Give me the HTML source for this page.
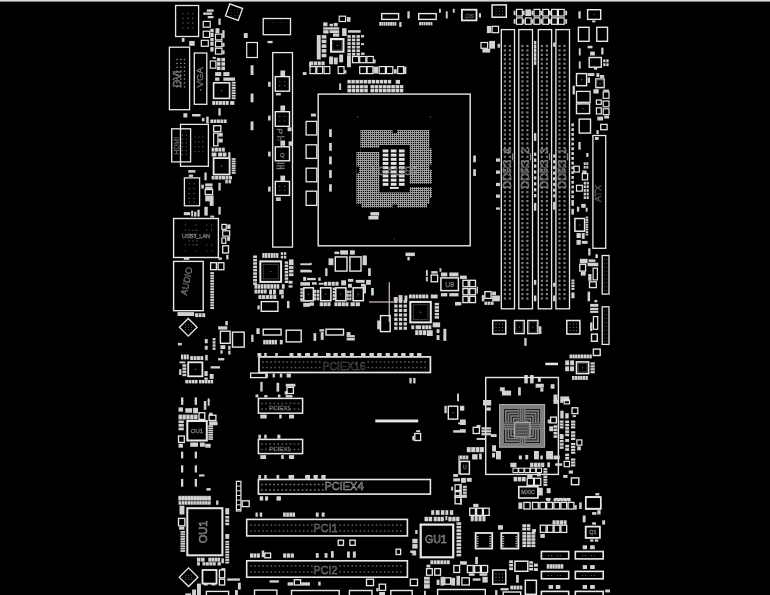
<!DOCTYPE html>
<html><head><meta charset="utf-8"><title>Board View</title>
<style>
html,body{margin:0;padding:0;background:#000;overflow:hidden}
svg{display:block;font-family:"Liberation Sans",sans-serif}
</style></head><body>
<svg width="770" height="595" viewBox="0 0 770 595">
<rect x="0" y="0" width="770" height="595" fill="#000"/>
<g filter="url(#b)">
<defs><filter id="b" x="0" y="0" width="100%" height="100%"><feGaussianBlur stdDeviation="0.35"/></filter>
<filter id="b2" x="-5%" y="-5%" width="110%" height="110%"><feGaussianBlur stdDeviation="0.5"/></filter>
<pattern id="pin" width="2" height="2" patternUnits="userSpaceOnUse"><rect width="2" height="2" fill="#a4a4a4"/><rect x="0.9" y="0.9" width="1.15" height="1.15" fill="#000"/></pattern>
<pattern id="die" width="4" height="4" patternUnits="userSpaceOnUse"><rect width="4" height="4" fill="#8a8a8a"/><rect x="0.6" y="0.6" width="2.2" height="2.2" fill="#222"/></pattern>
</defs>
<rect x="0.0" y="0.0" width="770.0" height="1.6" fill="#d8d8d8"/>
<rect x="175.6" y="5.5" width="23.0" height="31.0" fill="none" stroke="#e8e8e8" stroke-width="1.3"/>
<circle cx="183.0" cy="13.6" r="0.7" fill="#666"/>
<circle cx="183.0" cy="18.5" r="0.7" fill="#666"/>
<circle cx="183.0" cy="23.0" r="0.7" fill="#666"/>
<circle cx="183.0" cy="27.9" r="0.7" fill="#666"/>
<circle cx="187.9" cy="13.6" r="0.7" fill="#666"/>
<circle cx="187.9" cy="18.5" r="0.7" fill="#666"/>
<circle cx="187.9" cy="23.0" r="0.7" fill="#666"/>
<circle cx="187.9" cy="27.9" r="0.7" fill="#666"/>
<circle cx="192.7" cy="13.6" r="0.7" fill="#666"/>
<circle cx="192.7" cy="18.5" r="0.7" fill="#666"/>
<circle cx="192.7" cy="23.0" r="0.7" fill="#666"/>
<circle cx="192.7" cy="27.9" r="0.7" fill="#666"/>
<rect x="227.2" y="5.8" width="13.6" height="12.7" fill="none" stroke="#e8e8e8" stroke-width="1.3" transform="rotate(20 234.0 12.2)"/>
<circle cx="231.1" cy="9.7" r="0.5" fill="#555"/>
<circle cx="231.1" cy="12.7" r="0.5" fill="#555"/>
<circle cx="231.1" cy="15.6" r="0.5" fill="#555"/>
<circle cx="235.0" cy="9.7" r="0.5" fill="#555"/>
<circle cx="235.0" cy="12.7" r="0.5" fill="#555"/>
<circle cx="235.0" cy="15.6" r="0.5" fill="#555"/>
<circle cx="237.9" cy="9.7" r="0.5" fill="#555"/>
<circle cx="237.9" cy="12.7" r="0.5" fill="#555"/>
<circle cx="237.9" cy="15.6" r="0.5" fill="#555"/>
<rect x="263.2" y="18.5" width="27.3" height="16.2" fill="none" stroke="#e8e8e8" stroke-width="1.3"/>
<circle cx="273.0" cy="22.4" r="0.5" fill="#555"/>
<circle cx="281.2" cy="22.4" r="0.5" fill="#555"/>
<rect x="246.7" y="42.5" width="10.7" height="15.0" fill="none" stroke="#e8e8e8" stroke-width="1.2"/>
<rect x="203.2" y="21.4" width="7.0" height="5.8" fill="none" stroke="#e8e8e8" stroke-width="1.2"/>
<rect x="203.2" y="31.2" width="6.4" height="6.2" fill="none" stroke="#e8e8e8" stroke-width="1.2"/>
<rect x="201.3" y="40.3" width="7.0" height="6.0" fill="none" stroke="#e8e8e8" stroke-width="1.2"/>
<rect x="215.5" y="34.1" width="6.4" height="5.8" fill="none" stroke="#e8e8e8" stroke-width="1.2"/>
<rect x="215.5" y="41.3" width="6.4" height="5.5" fill="none" stroke="#e8e8e8" stroke-width="1.2"/>
<rect x="215.5" y="48.3" width="6.4" height="5.8" fill="none" stroke="#e8e8e8" stroke-width="1.2"/>
<rect x="210.3" y="61.0" width="5.6" height="7.2" fill="none" stroke="#e8e8e8" stroke-width="1.2"/>
<rect x="206.8" y="9.4" width="6.8" height="2.3" fill="#d2d2d2"/>
<rect x="203.2" y="12.5" width="9.0" height="2.3" fill="#d2d2d2"/>
<rect x="207.7" y="16.0" width="5.8" height="2.3" fill="#d2d2d2"/>
<rect x="218.4" y="18.5" width="2.3" height="6.4" fill="#d2d2d2"/>
<rect x="181.8" y="38.0" width="2.7" height="3.9" fill="#d2d2d2"/>
<rect x="189.2" y="40.9" width="5.5" height="4.9" fill="#d2d2d2"/>
<rect x="243.8" y="33.1" width="3.9" height="4.9" fill="#d2d2d2"/>
<rect x="267.5" y="40.9" width="5.1" height="2.3" fill="#d2d2d2"/>
<rect x="250.6" y="65.3" width="2.9" height="9.7" fill="#d2d2d2"/>
<rect x="268.1" y="81.8" width="2.5" height="4.9" fill="#d2d2d2"/>
<rect x="250.6" y="93.5" width="2.9" height="8.8" fill="#d2d2d2"/>
<rect x="302.8" y="72.1" width="3.7" height="2.9" fill="#d2d2d2"/>
<rect x="309.0" y="61.9" width="1.9" height="4.3" fill="#d2d2d2"/>
<rect x="275.9" y="93.1" width="4.9" height="2.3" fill="#d2d2d2"/>
<rect x="280.4" y="70.5" width="4.7" height="5.5" fill="#d2d2d2"/>
<rect x="210.3" y="28.8" width="3.3" height="3.3" fill="#d2d2d2"/>
<rect x="210.3" y="32.7" width="3.3" height="4.3" fill="#d2d2d2"/>
<rect x="210.3" y="38.0" width="3.3" height="3.3" fill="#d2d2d2"/>
<rect x="210.3" y="41.9" width="3.3" height="3.9" fill="#d2d2d2"/>
<rect x="210.3" y="47.1" width="3.3" height="4.5" fill="#d2d2d2"/>
<rect x="215.5" y="28.2" width="3.9" height="4.9" fill="#d2d2d2"/>
<rect x="222.3" y="30.2" width="2.3" height="7.8" fill="#d2d2d2"/>
<rect x="222.3" y="42.9" width="2.3" height="3.9" fill="#d2d2d2"/>
<rect x="222.3" y="50.3" width="2.3" height="3.9" fill="#d2d2d2"/>
<rect x="215.1" y="72.1" width="6.2" height="3.9" fill="#d2d2d2"/>
<rect x="223.3" y="72.1" width="6.2" height="3.9" fill="#d2d2d2"/>
<rect x="215.1" y="77.5" width="4.3" height="3.3" fill="#d2d2d2"/>
<rect x="223.3" y="77.5" width="11.7" height="3.3" fill="#d2d2d2"/>
<rect x="216.9" y="57.9" width="3.6" height="3.5" fill="#d2d2d2"/>
<rect x="216.9" y="62.2" width="3.6" height="3.5" fill="#d2d2d2"/>
<rect x="216.9" y="66.6" width="3.6" height="3.5" fill="#d2d2d2"/>
<rect x="221.4" y="57.9" width="3.6" height="3.5" fill="#d2d2d2"/>
<rect x="221.4" y="62.2" width="3.6" height="3.5" fill="#d2d2d2"/>
<rect x="221.4" y="66.6" width="3.6" height="3.5" fill="#d2d2d2"/>
<rect x="212.6" y="56.9" width="3.3" height="1.9" fill="#d2d2d2"/>
<rect x="231.7" y="81.8" width="3.9" height="1.9" fill="#d2d2d2"/>
<rect x="231.7" y="84.4" width="3.9" height="1.9" fill="#d2d2d2"/>
<rect x="231.7" y="87.0" width="3.9" height="1.9" fill="#d2d2d2"/>
<rect x="231.7" y="89.6" width="3.9" height="1.9" fill="#d2d2d2"/>
<rect x="231.7" y="92.2" width="3.9" height="1.9" fill="#d2d2d2"/>
<rect x="231.7" y="94.8" width="3.9" height="1.9" fill="#d2d2d2"/>
<rect x="231.7" y="97.3" width="3.9" height="1.9" fill="#d2d2d2"/>
<rect x="213.6" y="82.8" width="16.0" height="15.6" fill="none" stroke="#e8e8e8" stroke-width="1.6"/>
<circle cx="221.6" cy="90.6" r="0.6" fill="#888"/>
<rect x="275.3" y="76.6" width="14.2" height="14.6" fill="none" stroke="#e8e8e8" stroke-width="1.4"/>
<circle cx="279.8" cy="81.4" r="0.6" fill="#666"/>
<circle cx="279.8" cy="85.7" r="0.6" fill="#666"/>
<circle cx="284.7" cy="81.4" r="0.6" fill="#666"/>
<circle cx="284.7" cy="85.7" r="0.6" fill="#666"/>
<rect x="339.2" y="16.2" width="6.4" height="5.3" fill="none" stroke="#e8e8e8" stroke-width="1.2"/>
<rect x="347.0" y="17.1" width="3.5" height="4.7" fill="#d2d2d2"/>
<rect x="381.7" y="13.6" width="16.9" height="5.8" fill="none" stroke="#e8e8e8" stroke-width="1.4"/>
<rect x="379.2" y="22.0" width="1.9" height="3.7" fill="#d2d2d2"/>
<rect x="381.3" y="22.0" width="1.9" height="3.7" fill="#d2d2d2"/>
<rect x="383.5" y="22.0" width="1.9" height="3.7" fill="#d2d2d2"/>
<rect x="385.7" y="22.0" width="1.9" height="3.7" fill="#d2d2d2"/>
<rect x="387.9" y="22.0" width="1.9" height="3.7" fill="#d2d2d2"/>
<rect x="390.1" y="22.0" width="1.9" height="3.7" fill="#d2d2d2"/>
<rect x="392.3" y="22.0" width="1.9" height="3.7" fill="#d2d2d2"/>
<rect x="394.5" y="22.0" width="1.9" height="3.7" fill="#d2d2d2"/>
<rect x="399.2" y="22.0" width="2.3" height="4.9" fill="#d2d2d2"/>
<rect x="407.4" y="11.3" width="2.3" height="7.2" fill="#d2d2d2"/>
<rect x="418.7" y="13.6" width="17.5" height="5.8" fill="none" stroke="#e8e8e8" stroke-width="1.4"/>
<rect x="419.1" y="22.0" width="1.9" height="3.3" fill="#d2d2d2"/>
<rect x="421.4" y="22.0" width="1.9" height="3.3" fill="#d2d2d2"/>
<rect x="423.6" y="22.0" width="1.9" height="3.3" fill="#d2d2d2"/>
<rect x="425.9" y="22.0" width="1.9" height="3.3" fill="#d2d2d2"/>
<rect x="428.2" y="22.0" width="1.9" height="3.3" fill="#d2d2d2"/>
<rect x="430.5" y="22.0" width="1.9" height="3.3" fill="#d2d2d2"/>
<rect x="439.0" y="8.8" width="1.9" height="3.9" fill="#d2d2d2"/>
<rect x="445.8" y="11.3" width="1.9" height="7.2" fill="#d2d2d2"/>
<rect x="452.8" y="8.8" width="1.9" height="3.9" fill="#d2d2d2"/>
<rect x="331.0" y="39.0" width="12.5" height="12.7" fill="none" stroke="#e8e8e8" stroke-width="2"/>
<rect x="332.8" y="40.7" width="9.0" height="9.2" fill="none" stroke="#5a5a5a" stroke-width="0.6"/>
<circle cx="337.3" cy="45.3" r="0.6" fill="#888"/>
<rect x="316.8" y="35.1" width="3.9" height="24.4" fill="#d2d2d2"/>
<rect x="321.7" y="35.1" width="4.7" height="3.5" fill="#d2d2d2"/>
<rect x="321.7" y="39.7" width="4.7" height="3.5" fill="#d2d2d2"/>
<rect x="321.7" y="44.4" width="4.7" height="3.5" fill="#d2d2d2"/>
<rect x="321.7" y="49.1" width="4.7" height="3.5" fill="#d2d2d2"/>
<rect x="321.7" y="53.8" width="4.7" height="3.5" fill="#d2d2d2"/>
<rect x="323.2" y="22.4" width="4.3" height="3.9" fill="#d2d2d2"/>
<rect x="329.5" y="23.8" width="3.5" height="2.5" fill="#d2d2d2"/>
<rect x="333.8" y="23.0" width="3.9" height="3.3" fill="#d2d2d2"/>
<rect x="323.2" y="27.3" width="16.0" height="2.3" fill="#d2d2d2"/>
<rect x="323.2" y="30.2" width="5.3" height="3.3" fill="#d2d2d2"/>
<rect x="329.5" y="30.2" width="9.7" height="2.9" fill="#d2d2d2"/>
<rect x="333.0" y="33.5" width="6.2" height="3.1" fill="#d2d2d2"/>
<rect x="342.1" y="28.2" width="4.5" height="7.8" fill="#d2d2d2"/>
<rect x="348.0" y="30.2" width="12.7" height="2.5" fill="#d2d2d2"/>
<rect x="347.4" y="35.1" width="3.4" height="2.7" fill="#d2d2d2"/>
<rect x="347.4" y="38.6" width="3.4" height="2.7" fill="#d2d2d2"/>
<rect x="347.4" y="42.2" width="3.4" height="2.7" fill="#d2d2d2"/>
<rect x="347.4" y="45.8" width="3.4" height="2.7" fill="#d2d2d2"/>
<rect x="347.4" y="49.4" width="3.4" height="2.7" fill="#d2d2d2"/>
<rect x="347.4" y="52.9" width="3.4" height="2.7" fill="#d2d2d2"/>
<rect x="351.9" y="35.1" width="3.4" height="2.7" fill="#d2d2d2"/>
<rect x="351.9" y="38.6" width="3.4" height="2.7" fill="#d2d2d2"/>
<rect x="351.9" y="42.2" width="3.4" height="2.7" fill="#d2d2d2"/>
<rect x="351.9" y="45.8" width="3.4" height="2.7" fill="#d2d2d2"/>
<rect x="351.9" y="49.4" width="3.4" height="2.7" fill="#d2d2d2"/>
<rect x="351.9" y="52.9" width="3.4" height="2.7" fill="#d2d2d2"/>
<rect x="356.5" y="35.1" width="3.4" height="2.7" fill="#d2d2d2"/>
<rect x="356.5" y="38.6" width="3.4" height="2.7" fill="#d2d2d2"/>
<rect x="356.5" y="42.2" width="3.4" height="2.7" fill="#d2d2d2"/>
<rect x="356.5" y="45.8" width="3.4" height="2.7" fill="#d2d2d2"/>
<rect x="356.5" y="49.4" width="3.4" height="2.7" fill="#d2d2d2"/>
<rect x="356.5" y="52.9" width="3.4" height="2.7" fill="#d2d2d2"/>
<rect x="361.0" y="35.1" width="3.1" height="2.3" fill="#d2d2d2"/>
<rect x="361.0" y="43.2" width="3.1" height="1.9" fill="#d2d2d2"/>
<rect x="361.0" y="52.6" width="3.5" height="2.3" fill="#d2d2d2"/>
<rect x="352.5" y="56.5" width="6.2" height="6.2" fill="none" stroke="#e8e8e8" stroke-width="1.2"/>
<rect x="359.7" y="56.5" width="6.2" height="6.2" fill="none" stroke="#e8e8e8" stroke-width="1.2"/>
<rect x="366.9" y="56.5" width="6.4" height="6.2" fill="none" stroke="#e8e8e8" stroke-width="1.2"/>
<rect x="373.3" y="59.4" width="2.3" height="3.9" fill="#d2d2d2"/>
<rect x="310.0" y="66.6" width="5.8" height="7.0" fill="none" stroke="#e8e8e8" stroke-width="1.2"/>
<rect x="316.8" y="66.6" width="5.8" height="7.0" fill="none" stroke="#e8e8e8" stroke-width="1.2"/>
<rect x="324.0" y="66.6" width="5.8" height="7.0" fill="none" stroke="#e8e8e8" stroke-width="1.2"/>
<rect x="338.2" y="66.6" width="5.8" height="7.0" fill="none" stroke="#e8e8e8" stroke-width="1.2"/>
<rect x="359.7" y="66.6" width="6.8" height="7.0" fill="none" stroke="#e8e8e8" stroke-width="1.2"/>
<rect x="367.1" y="66.6" width="5.8" height="7.0" fill="none" stroke="#e8e8e8" stroke-width="1.2"/>
<rect x="379.2" y="66.6" width="6.2" height="7.0" fill="none" stroke="#e8e8e8" stroke-width="1.2"/>
<rect x="386.4" y="66.6" width="6.4" height="7.0" fill="none" stroke="#e8e8e8" stroke-width="1.2"/>
<rect x="397.7" y="66.6" width="5.8" height="7.0" fill="none" stroke="#e8e8e8" stroke-width="1.2"/>
<rect x="344.1" y="70.1" width="2.3" height="3.5" fill="#d2d2d2"/>
<rect x="373.3" y="66.6" width="4.9" height="7.0" fill="#d2d2d2"/>
<rect x="393.8" y="69.2" width="2.9" height="4.5" fill="#d2d2d2"/>
<rect x="403.9" y="66.6" width="2.5" height="7.4" fill="#d2d2d2"/>
<rect x="310.0" y="61.4" width="3.2" height="3.9" fill="#d2d2d2"/>
<rect x="313.8" y="61.4" width="3.2" height="3.9" fill="#d2d2d2"/>
<rect x="317.6" y="61.4" width="3.2" height="3.9" fill="#d2d2d2"/>
<rect x="321.4" y="61.4" width="3.2" height="3.9" fill="#d2d2d2"/>
<rect x="329.1" y="56.5" width="3.9" height="7.8" fill="#d2d2d2"/>
<rect x="333.8" y="57.5" width="3.9" height="6.8" fill="#d2d2d2"/>
<rect x="339.2" y="54.5" width="3.9" height="7.8" fill="#d2d2d2"/>
<rect x="347.0" y="55.5" width="3.9" height="11.7" fill="#d2d2d2"/>
<rect x="339.2" y="83.4" width="1.9" height="6.6" fill="#d2d2d2"/>
<rect x="347.4" y="79.9" width="3.4" height="3.6" fill="#d2d2d2"/>
<rect x="351.4" y="79.9" width="3.4" height="3.6" fill="#d2d2d2"/>
<rect x="355.5" y="79.9" width="3.4" height="3.6" fill="#d2d2d2"/>
<rect x="359.5" y="79.9" width="3.4" height="3.6" fill="#d2d2d2"/>
<rect x="363.6" y="79.9" width="3.4" height="3.6" fill="#d2d2d2"/>
<rect x="367.6" y="79.9" width="3.4" height="3.6" fill="#d2d2d2"/>
<rect x="371.6" y="79.9" width="3.4" height="3.6" fill="#d2d2d2"/>
<rect x="375.7" y="79.9" width="3.4" height="3.6" fill="#d2d2d2"/>
<rect x="379.7" y="79.9" width="3.4" height="3.6" fill="#d2d2d2"/>
<rect x="383.7" y="79.9" width="3.4" height="3.6" fill="#d2d2d2"/>
<rect x="387.8" y="79.9" width="3.4" height="3.6" fill="#d2d2d2"/>
<rect x="395.7" y="79.9" width="4.3" height="3.9" fill="#d2d2d2"/>
<rect x="347.4" y="85.1" width="3.6" height="3.3" fill="#d2d2d2"/>
<rect x="347.4" y="89.0" width="3.6" height="3.3" fill="#d2d2d2"/>
<rect x="351.6" y="85.1" width="3.6" height="3.3" fill="#d2d2d2"/>
<rect x="351.6" y="89.0" width="3.6" height="3.3" fill="#d2d2d2"/>
<rect x="355.8" y="85.1" width="3.6" height="3.3" fill="#d2d2d2"/>
<rect x="355.8" y="89.0" width="3.6" height="3.3" fill="#d2d2d2"/>
<rect x="360.0" y="85.1" width="3.6" height="3.3" fill="#d2d2d2"/>
<rect x="360.0" y="89.0" width="3.6" height="3.3" fill="#d2d2d2"/>
<rect x="364.2" y="85.1" width="3.6" height="3.3" fill="#d2d2d2"/>
<rect x="364.2" y="89.0" width="3.6" height="3.3" fill="#d2d2d2"/>
<rect x="370.4" y="85.1" width="3.6" height="3.3" fill="#d2d2d2"/>
<rect x="370.4" y="89.0" width="3.6" height="3.3" fill="#d2d2d2"/>
<rect x="374.6" y="85.1" width="3.6" height="3.3" fill="#d2d2d2"/>
<rect x="374.6" y="89.0" width="3.6" height="3.3" fill="#d2d2d2"/>
<rect x="378.8" y="85.1" width="3.6" height="3.3" fill="#d2d2d2"/>
<rect x="378.8" y="89.0" width="3.6" height="3.3" fill="#d2d2d2"/>
<rect x="383.0" y="85.1" width="3.6" height="3.3" fill="#d2d2d2"/>
<rect x="383.0" y="89.0" width="3.6" height="3.3" fill="#d2d2d2"/>
<rect x="387.1" y="85.1" width="3.6" height="3.3" fill="#d2d2d2"/>
<rect x="387.1" y="89.0" width="3.6" height="3.3" fill="#d2d2d2"/>
<rect x="391.3" y="85.1" width="3.6" height="3.3" fill="#d2d2d2"/>
<rect x="391.3" y="89.0" width="3.6" height="3.3" fill="#d2d2d2"/>
<rect x="395.5" y="85.1" width="3.6" height="3.3" fill="#d2d2d2"/>
<rect x="395.5" y="89.0" width="3.6" height="3.3" fill="#d2d2d2"/>
<rect x="399.7" y="85.1" width="3.6" height="3.3" fill="#d2d2d2"/>
<rect x="399.7" y="89.0" width="3.6" height="3.3" fill="#d2d2d2"/>
<rect x="461.9" y="9.7" width="14.6" height="10.7" fill="none" stroke="#e8e8e8" stroke-width="1.8"/>
<text x="469.4" y="17.5" font-size="6" fill="none" stroke="#666" stroke-width="0.4" text-anchor="middle">OS</text>
<rect x="478.9" y="13.2" width="2.1" height="4.3" fill="#d2d2d2"/>
<rect x="492.1" y="4.9" width="14.2" height="12.3" fill="none" stroke="#e8e8e8" stroke-width="1.5"/>
<circle cx="496.0" cy="8.2" r="0.5" fill="#666"/>
<circle cx="496.0" cy="11.1" r="0.5" fill="#666"/>
<circle cx="496.0" cy="14.0" r="0.5" fill="#666"/>
<circle cx="499.4" cy="8.2" r="0.5" fill="#666"/>
<circle cx="499.4" cy="11.1" r="0.5" fill="#666"/>
<circle cx="499.4" cy="14.0" r="0.5" fill="#666"/>
<circle cx="502.5" cy="8.2" r="0.5" fill="#666"/>
<circle cx="502.5" cy="11.1" r="0.5" fill="#666"/>
<circle cx="502.5" cy="14.0" r="0.5" fill="#666"/>
<rect x="516.5" y="9.4" width="5.8" height="6.6" fill="none" stroke="#e8e8e8" stroke-width="1.2"/>
<rect x="516.5" y="17.9" width="5.8" height="6.4" fill="none" stroke="#e8e8e8" stroke-width="1.2"/>
<rect x="534.0" y="9.4" width="5.8" height="6.6" fill="none" stroke="#e8e8e8" stroke-width="1.2"/>
<rect x="534.0" y="17.9" width="5.8" height="6.4" fill="none" stroke="#e8e8e8" stroke-width="1.2"/>
<rect x="542.8" y="9.4" width="5.8" height="6.6" fill="none" stroke="#e8e8e8" stroke-width="1.2"/>
<rect x="542.8" y="17.9" width="5.8" height="6.4" fill="none" stroke="#e8e8e8" stroke-width="1.2"/>
<rect x="551.6" y="9.4" width="5.8" height="6.6" fill="none" stroke="#e8e8e8" stroke-width="1.2"/>
<rect x="551.6" y="17.9" width="5.8" height="6.4" fill="none" stroke="#e8e8e8" stroke-width="1.2"/>
<rect x="558.4" y="9.4" width="5.8" height="6.6" fill="none" stroke="#e8e8e8" stroke-width="1.2"/>
<rect x="558.4" y="17.9" width="5.8" height="6.4" fill="none" stroke="#e8e8e8" stroke-width="1.2"/>
<rect x="525.3" y="9.4" width="5.8" height="6.6" fill="#d2d2d2"/>
<rect x="525.3" y="17.9" width="5.8" height="6.4" fill="none" stroke="#e8e8e8" stroke-width="1.2"/>
<rect x="513.6" y="10.7" width="1.9" height="4.5" fill="#d2d2d2"/>
<rect x="513.6" y="19.1" width="1.9" height="4.7" fill="#d2d2d2"/>
<rect x="522.7" y="10.7" width="1.9" height="4.5" fill="#d2d2d2"/>
<rect x="522.7" y="19.1" width="1.9" height="4.7" fill="#d2d2d2"/>
<rect x="531.5" y="10.7" width="1.9" height="4.5" fill="#d2d2d2"/>
<rect x="531.5" y="19.1" width="1.9" height="4.7" fill="#d2d2d2"/>
<rect x="540.3" y="10.7" width="1.9" height="4.5" fill="#d2d2d2"/>
<rect x="540.3" y="19.1" width="1.9" height="4.7" fill="#d2d2d2"/>
<rect x="549.0" y="10.7" width="1.9" height="4.5" fill="#d2d2d2"/>
<rect x="549.0" y="19.1" width="1.9" height="4.7" fill="#d2d2d2"/>
<rect x="565.2" y="10.7" width="1.9" height="4.5" fill="#d2d2d2"/>
<rect x="565.2" y="19.1" width="1.9" height="4.7" fill="#d2d2d2"/>
<rect x="492.1" y="26.3" width="6.4" height="6.4" fill="none" stroke="#e8e8e8" stroke-width="1.2"/>
<rect x="486.9" y="25.9" width="4.3" height="7.2" fill="#d2d2d2"/>
<rect x="481.0" y="42.5" width="6.6" height="5.8" fill="none" stroke="#e8e8e8" stroke-width="1.2"/>
<rect x="489.2" y="40.9" width="5.8" height="7.8" fill="#d2d2d2"/>
<rect x="482.4" y="48.7" width="7.8" height="3.9" fill="#d2d2d2"/>
<rect x="497.6" y="43.8" width="2.3" height="3.9" fill="#d2d2d2"/>
<rect x="534.0" y="40.9" width="2.3" height="3.7" fill="#d2d2d2"/>
<rect x="534.0" y="45.0" width="2.3" height="3.7" fill="#d2d2d2"/>
<rect x="534.0" y="49.0" width="2.3" height="3.7" fill="#d2d2d2"/>
<rect x="534.0" y="53.1" width="2.3" height="3.7" fill="#d2d2d2"/>
<rect x="534.0" y="57.1" width="2.3" height="3.7" fill="#d2d2d2"/>
<rect x="534.0" y="61.2" width="2.3" height="3.7" fill="#d2d2d2"/>
<rect x="553.1" y="42.5" width="2.3" height="4.3" fill="#d2d2d2"/>
<rect x="578.4" y="11.3" width="2.3" height="7.2" fill="#d2d2d2"/>
<rect x="587.6" y="9.7" width="13.1" height="9.7" fill="none" stroke="#e8e8e8" stroke-width="1.4"/>
<rect x="592.1" y="20.5" width="3.3" height="1.9" fill="#d2d2d2"/>
<circle cx="594.0" cy="14.6" r="0.5" fill="#888"/>
<rect x="578.4" y="27.3" width="10.7" height="14.0" fill="none" stroke="#e8e8e8" stroke-width="1.4"/>
<rect x="596.8" y="27.3" width="10.7" height="14.0" fill="none" stroke="#e8e8e8" stroke-width="1.4"/>
<rect x="587.6" y="45.8" width="4.9" height="2.5" fill="#d2d2d2"/>
<rect x="578.8" y="48.3" width="1.9" height="7.2" fill="#d2d2d2"/>
<rect x="590.1" y="51.6" width="4.7" height="3.9" fill="#d2d2d2"/>
<rect x="601.2" y="47.7" width="2.3" height="6.8" fill="#d2d2d2"/>
<rect x="589.2" y="57.5" width="12.1" height="9.7" fill="none" stroke="#e8e8e8" stroke-width="1.4"/>
<rect x="594.0" y="67.8" width="3.3" height="1.9" fill="#d2d2d2"/>
<rect x="603.2" y="59.4" width="2.3" height="2.9" fill="#d2d2d2"/>
<rect x="603.2" y="63.3" width="2.3" height="2.9" fill="#d2d2d2"/>
<rect x="606.3" y="59.4" width="2.3" height="2.9" fill="#d2d2d2"/>
<rect x="606.3" y="63.3" width="2.3" height="2.9" fill="#d2d2d2"/>
<rect x="578.8" y="61.4" width="1.9" height="7.2" fill="#d2d2d2"/>
<rect x="576.5" y="73.6" width="10.1" height="12.1" fill="none" stroke="#e8e8e8" stroke-width="1.4"/>
<circle cx="581.6" cy="79.7" r="0.6" fill="#888"/>
<rect x="587.6" y="73.1" width="6.8" height="2.9" fill="#d2d2d2"/>
<rect x="596.4" y="73.1" width="2.9" height="3.9" fill="#d2d2d2"/>
<rect x="599.9" y="75.0" width="4.3" height="2.9" fill="#d2d2d2"/>
<rect x="587.6" y="77.5" width="2.5" height="5.3" fill="#d2d2d2"/>
<rect x="595.8" y="78.9" width="8.4" height="8.8" fill="none" stroke="#e8e8e8" stroke-width="1.3"/>
<rect x="597.0" y="80.1" width="6.0" height="6.4" fill="none" stroke="#5a5a5a" stroke-width="0.6"/>
<circle cx="600.0" cy="83.3" r="0.6" fill="#888"/>
<rect x="572.6" y="85.7" width="2.3" height="8.8" fill="#d2d2d2"/>
<rect x="593.4" y="89.2" width="5.3" height="4.3" fill="#d2d2d2"/>
<rect x="603.2" y="89.6" width="5.8" height="1.9" fill="#d2d2d2"/>
<rect x="603.2" y="91.9" width="5.8" height="6.4" fill="none" stroke="#e8e8e8" stroke-width="1.2"/>
<rect x="169.4" y="47.2" width="20.2" height="62.5" fill="none" stroke="#e8e8e8" stroke-width="1.3"/>
<rect x="194.3" y="53.0" width="12.5" height="51.3" fill="none" stroke="#e8e8e8" stroke-width="1.3"/>
<rect x="272.7" y="52.6" width="19.8" height="194.5" fill="none" stroke="#e8e8e8" stroke-width="1.3"/>
<rect x="318.2" y="94.1" width="152.0" height="151.7" fill="none" stroke="#e8e8e8" stroke-width="1.4"/>
<rect x="501.3" y="29.6" width="13.2" height="279.2" fill="none" stroke="#e8e8e8" stroke-width="1.3"/>
<rect x="518.8" y="29.6" width="13.7" height="279.2" fill="none" stroke="#e8e8e8" stroke-width="1.3"/>
<rect x="538.3" y="29.6" width="13.3" height="279.2" fill="none" stroke="#e8e8e8" stroke-width="1.3"/>
<rect x="555.9" y="29.6" width="13.6" height="279.2" fill="none" stroke="#e8e8e8" stroke-width="1.3"/>
<rect x="592.9" y="135.5" width="12.8" height="112.8" fill="none" stroke="#e8e8e8" stroke-width="1.3"/>
<rect x="212.2" y="101.0" width="2.9" height="3.9" fill="#d2d2d2"/>
<rect x="215.6" y="101.0" width="2.9" height="3.9" fill="#d2d2d2"/>
<rect x="219.0" y="101.0" width="2.9" height="3.9" fill="#d2d2d2"/>
<rect x="222.4" y="101.0" width="2.9" height="3.9" fill="#d2d2d2"/>
<rect x="225.8" y="101.0" width="2.9" height="3.9" fill="#d2d2d2"/>
<rect x="230.1" y="101.0" width="4.3" height="3.9" fill="#d2d2d2"/>
<rect x="183.4" y="113.2" width="3.9" height="4.3" fill="#d2d2d2"/>
<rect x="192.1" y="114.0" width="8.4" height="2.5" fill="#d2d2d2"/>
<rect x="218.4" y="108.2" width="2.3" height="7.4" fill="#d2d2d2"/>
<rect x="201.9" y="117.9" width="2.5" height="3.5" fill="#d2d2d2"/>
<rect x="206.2" y="116.6" width="2.5" height="6.8" fill="#d2d2d2"/>
<rect x="250.6" y="121.4" width="2.9" height="8.8" fill="#d2d2d2"/>
<rect x="268.1" y="115.6" width="2.5" height="4.9" fill="#d2d2d2"/>
<rect x="268.1" y="151.6" width="2.5" height="4.9" fill="#d2d2d2"/>
<rect x="268.1" y="186.7" width="2.5" height="4.9" fill="#d2d2d2"/>
<rect x="228.2" y="152.2" width="2.3" height="5.3" fill="#d2d2d2"/>
<rect x="225.3" y="179.9" width="2.5" height="3.5" fill="#d2d2d2"/>
<rect x="228.6" y="179.9" width="2.5" height="3.5" fill="#d2d2d2"/>
<rect x="188.2" y="170.1" width="7.2" height="2.5" fill="#d2d2d2"/>
<rect x="188.8" y="174.6" width="4.3" height="2.3" fill="#d2d2d2"/>
<rect x="204.4" y="172.5" width="2.3" height="7.8" fill="#d2d2d2"/>
<rect x="201.3" y="184.7" width="2.5" height="3.9" fill="#d2d2d2"/>
<rect x="205.2" y="183.4" width="7.4" height="2.7" fill="#d2d2d2"/>
<rect x="205.2" y="186.7" width="7.4" height="2.5" fill="#d2d2d2"/>
<rect x="205.2" y="195.5" width="8.4" height="5.8" fill="#d2d2d2"/>
<rect x="218.4" y="182.8" width="2.3" height="7.8" fill="#d2d2d2"/>
<rect x="218.4" y="132.7" width="4.3" height="3.9" fill="#d2d2d2"/>
<rect x="218.4" y="138.6" width="4.3" height="3.9" fill="#d2d2d2"/>
<rect x="210.3" y="119.5" width="2.9" height="3.5" fill="#d2d2d2"/>
<rect x="213.6" y="119.5" width="2.9" height="3.5" fill="#d2d2d2"/>
<rect x="217.0" y="119.5" width="2.9" height="3.5" fill="#d2d2d2"/>
<rect x="220.4" y="119.5" width="2.9" height="3.5" fill="#d2d2d2"/>
<rect x="223.8" y="119.5" width="2.9" height="3.5" fill="#d2d2d2"/>
<rect x="171.7" y="128.8" width="18.9" height="33.1" fill="none" stroke="#e8e8e8" stroke-width="1.3"/>
<rect x="180.5" y="124.4" width="27.9" height="41.9" fill="none" stroke="#e8e8e8" stroke-width="1.3"/>
<circle cx="195.1" cy="137.0" r="0.6" fill="#666"/>
<circle cx="195.1" cy="141.9" r="0.6" fill="#666"/>
<circle cx="195.1" cy="146.8" r="0.6" fill="#666"/>
<circle cx="195.1" cy="151.6" r="0.6" fill="#666"/>
<circle cx="199.0" cy="137.0" r="0.6" fill="#666"/>
<circle cx="199.0" cy="141.9" r="0.6" fill="#666"/>
<circle cx="199.0" cy="146.8" r="0.6" fill="#666"/>
<circle cx="199.0" cy="151.6" r="0.6" fill="#666"/>
<circle cx="202.9" cy="137.0" r="0.6" fill="#666"/>
<circle cx="202.9" cy="141.9" r="0.6" fill="#666"/>
<circle cx="202.9" cy="146.8" r="0.6" fill="#666"/>
<circle cx="202.9" cy="151.6" r="0.6" fill="#666"/>
<circle cx="182.4" cy="135.1" r="0.6" fill="#777"/>
<circle cx="182.4" cy="139.0" r="0.6" fill="#777"/>
<circle cx="182.4" cy="142.9" r="0.6" fill="#777"/>
<circle cx="182.4" cy="146.8" r="0.6" fill="#777"/>
<circle cx="182.4" cy="150.6" r="0.6" fill="#777"/>
<circle cx="182.4" cy="154.5" r="0.6" fill="#777"/>
<circle cx="186.3" cy="135.1" r="0.6" fill="#777"/>
<circle cx="186.3" cy="139.0" r="0.6" fill="#777"/>
<circle cx="186.3" cy="142.9" r="0.6" fill="#777"/>
<circle cx="186.3" cy="146.8" r="0.6" fill="#777"/>
<circle cx="186.3" cy="150.6" r="0.6" fill="#777"/>
<circle cx="186.3" cy="154.5" r="0.6" fill="#777"/>
<text x="179.1" y="145.8" font-size="7" fill="none" stroke="#777" stroke-width="0.4" text-anchor="middle" transform="rotate(-90 179.1 145.8)">HDMI</text>
<rect x="213.6" y="125.7" width="7.2" height="5.8" fill="none" stroke="#e8e8e8" stroke-width="1.3"/>
<rect x="213.6" y="133.1" width="4.3" height="12.7" fill="none" stroke="#e8e8e8" stroke-width="1.2"/>
<rect x="211.6" y="147.7" width="2.9" height="3.9" fill="#d2d2d2"/>
<rect x="215.0" y="147.7" width="2.9" height="3.9" fill="#d2d2d2"/>
<rect x="218.4" y="147.7" width="2.9" height="3.9" fill="#d2d2d2"/>
<rect x="221.9" y="147.7" width="2.9" height="3.9" fill="#d2d2d2"/>
<rect x="211.6" y="152.6" width="4.9" height="3.9" fill="#d2d2d2"/>
<rect x="218.1" y="152.6" width="3.9" height="3.9" fill="#d2d2d2"/>
<rect x="222.6" y="152.6" width="3.9" height="3.9" fill="#d2d2d2"/>
<rect x="213.6" y="158.1" width="16.0" height="16.4" fill="none" stroke="#e8e8e8" stroke-width="1.8"/>
<circle cx="221.6" cy="166.2" r="0.6" fill="#888"/>
<rect x="231.7" y="158.1" width="3.9" height="1.8" fill="#d2d2d2"/>
<rect x="231.7" y="160.4" width="3.9" height="1.8" fill="#d2d2d2"/>
<rect x="231.7" y="162.7" width="3.9" height="1.8" fill="#d2d2d2"/>
<rect x="231.7" y="165.1" width="3.9" height="1.8" fill="#d2d2d2"/>
<rect x="231.7" y="167.4" width="3.9" height="1.8" fill="#d2d2d2"/>
<rect x="231.7" y="169.7" width="3.9" height="1.8" fill="#d2d2d2"/>
<rect x="231.7" y="172.1" width="3.9" height="1.8" fill="#d2d2d2"/>
<rect x="211.6" y="176.0" width="3.0" height="3.5" fill="#d2d2d2"/>
<rect x="215.1" y="176.0" width="3.0" height="3.5" fill="#d2d2d2"/>
<rect x="218.6" y="176.0" width="3.0" height="3.5" fill="#d2d2d2"/>
<rect x="222.0" y="176.0" width="3.0" height="3.5" fill="#d2d2d2"/>
<rect x="225.5" y="176.0" width="3.0" height="3.5" fill="#d2d2d2"/>
<rect x="229.0" y="176.0" width="3.0" height="3.5" fill="#d2d2d2"/>
<rect x="184.4" y="177.9" width="15.2" height="27.9" fill="none" stroke="#e8e8e8" stroke-width="1.3"/>
<circle cx="189.2" cy="183.8" r="0.6" fill="#777"/>
<circle cx="189.2" cy="188.6" r="0.6" fill="#777"/>
<circle cx="189.2" cy="193.5" r="0.6" fill="#777"/>
<circle cx="189.2" cy="198.4" r="0.6" fill="#777"/>
<circle cx="189.2" cy="202.3" r="0.6" fill="#777"/>
<circle cx="194.1" cy="183.8" r="0.6" fill="#777"/>
<circle cx="194.1" cy="188.6" r="0.6" fill="#777"/>
<circle cx="194.1" cy="193.5" r="0.6" fill="#777"/>
<circle cx="194.1" cy="198.4" r="0.6" fill="#777"/>
<circle cx="194.1" cy="202.3" r="0.6" fill="#777"/>
<rect x="205.2" y="189.6" width="7.4" height="4.9" fill="none" stroke="#e8e8e8" stroke-width="1.2"/>
<rect x="280.4" y="105.5" width="4.7" height="5.3" fill="#d2d2d2"/>
<rect x="275.3" y="111.7" width="14.2" height="14.6" fill="none" stroke="#e8e8e8" stroke-width="1.4"/>
<circle cx="279.8" cy="116.6" r="0.6" fill="#777"/>
<circle cx="279.8" cy="121.0" r="0.6" fill="#777"/>
<circle cx="284.7" cy="116.6" r="0.6" fill="#777"/>
<circle cx="284.7" cy="121.0" r="0.6" fill="#777"/>
<rect x="287.6" y="127.3" width="3.9" height="3.9" fill="#d2d2d2"/>
<rect x="280.4" y="140.5" width="4.7" height="5.3" fill="#d2d2d2"/>
<rect x="288.6" y="141.3" width="3.9" height="4.5" fill="#d2d2d2"/>
<rect x="275.3" y="146.8" width="14.2" height="14.0" fill="none" stroke="#e8e8e8" stroke-width="1.4"/>
<rect x="280.4" y="175.6" width="4.7" height="5.3" fill="#d2d2d2"/>
<rect x="275.3" y="181.4" width="14.2" height="14.0" fill="none" stroke="#e8e8e8" stroke-width="1.4"/>
<circle cx="279.8" cy="186.3" r="0.6" fill="#777"/>
<circle cx="279.8" cy="190.6" r="0.6" fill="#777"/>
<circle cx="284.7" cy="186.3" r="0.6" fill="#777"/>
<circle cx="284.7" cy="190.6" r="0.6" fill="#777"/>
<rect x="275.9" y="197.4" width="4.9" height="2.5" fill="#d2d2d2"/>
<text x="280.8" y="133.1" font-size="5" fill="none" stroke="#888" stroke-width="0.4" text-anchor="middle">Q</text>
<text x="280.8" y="139.0" font-size="5" fill="none" stroke="#888" stroke-width="0.4" text-anchor="middle" transform="rotate(-90 280.8 139.0)">L</text>
<text x="282.3" y="156.5" font-size="6" fill="none" stroke="#888" stroke-width="0.4" text-anchor="middle">Q</text>
<text x="280.8" y="168.2" font-size="5" fill="none" stroke="#888" stroke-width="0.4" text-anchor="middle" transform="rotate(-90 280.8 168.2)">L</text>
<rect x="276.5" y="162.7" width="8.2" height="1.2" fill="#777"/>
<rect x="276.5" y="165.3" width="8.2" height="1.2" fill="#777"/>
<rect x="276.5" y="167.8" width="8.2" height="1.2" fill="#777"/>
<rect x="276.5" y="128.8" width="3.9" height="1.2" fill="#777"/>
<rect x="276.9" y="136.2" width="7.8" height="1.2" fill="#777"/>
<rect x="306.1" y="121.4" width="10.7" height="13.6" fill="none" stroke="#e8e8e8" stroke-width="1.3"/>
<rect x="306.1" y="144.8" width="10.7" height="13.6" fill="none" stroke="#e8e8e8" stroke-width="1.3"/>
<rect x="306.1" y="168.2" width="10.7" height="13.6" fill="none" stroke="#e8e8e8" stroke-width="1.3"/>
<rect x="306.1" y="191.2" width="10.7" height="14.2" fill="none" stroke="#e8e8e8" stroke-width="1.3"/>
<rect x="311.0" y="113.6" width="4.9" height="2.9" fill="#d2d2d2"/>
<rect x="329.1" y="129.2" width="2.7" height="7.8" fill="#d2d2d2"/>
<rect x="329.1" y="142.9" width="2.7" height="7.8" fill="#d2d2d2"/>
<rect x="329.1" y="156.5" width="2.7" height="7.8" fill="#d2d2d2"/>
<rect x="329.1" y="170.1" width="2.7" height="7.8" fill="#d2d2d2"/>
<rect x="329.1" y="184.2" width="2.7" height="7.4" fill="#d2d2d2"/>
<circle cx="357.7" cy="116.9" r="0.6" fill="#777"/>
<circle cx="430.4" cy="116.9" r="0.6" fill="#777"/>
<rect x="360.4" y="130.0" width="69.0" height="22.0" fill="url(#pin)"/>
<rect x="356.4" y="152.0" width="73.0" height="52.0" fill="url(#pin)"/>
<rect x="361.6" y="204.0" width="65.4" height="3.6" fill="url(#pin)"/>
<rect x="429.4" y="148.5" width="2.6" height="16.0" fill="url(#pin)"/>
<rect x="429.4" y="170.0" width="2.6" height="28.0" fill="url(#pin)"/>
<rect x="392.5" y="130.0" width="4.5" height="3.0" fill="#000"/>
<rect x="392.5" y="204.5" width="4.5" height="3.1" fill="#000"/>
<rect x="360.4" y="147.8" width="19.6" height="4.2" fill="#000"/>
<rect x="409.0" y="183.8" width="23.0" height="3.2" fill="#000"/>
<rect x="356.4" y="166.5" width="2.6" height="7.0" fill="#000"/>
<rect x="379.4" y="145.0" width="30.2" height="47.4" fill="#000"/>
<rect x="382.7" y="149.5" width="5.7" height="2.9" fill="#e4e4e4"/>
<rect x="382.7" y="153.7" width="5.7" height="2.9" fill="#e4e4e4"/>
<rect x="382.7" y="157.9" width="5.7" height="2.9" fill="#e4e4e4"/>
<rect x="382.7" y="162.0" width="5.7" height="2.9" fill="#e4e4e4"/>
<rect x="382.7" y="166.2" width="5.7" height="2.9" fill="#e4e4e4"/>
<rect x="382.7" y="170.4" width="5.7" height="2.9" fill="#e4e4e4"/>
<rect x="382.7" y="174.5" width="5.7" height="2.9" fill="#e4e4e4"/>
<rect x="382.7" y="178.7" width="5.7" height="2.9" fill="#e4e4e4"/>
<rect x="382.7" y="182.9" width="5.7" height="2.9" fill="#e4e4e4"/>
<rect x="390.8" y="149.5" width="5.7" height="2.9" fill="#e4e4e4"/>
<rect x="390.8" y="153.7" width="5.7" height="2.9" fill="#e4e4e4"/>
<rect x="390.8" y="157.9" width="5.7" height="2.9" fill="#e4e4e4"/>
<rect x="390.8" y="162.0" width="5.7" height="2.9" fill="#e4e4e4"/>
<rect x="390.8" y="166.2" width="5.7" height="2.9" fill="#e4e4e4"/>
<rect x="390.8" y="170.4" width="5.7" height="2.9" fill="#e4e4e4"/>
<rect x="390.8" y="174.5" width="5.7" height="2.9" fill="#e4e4e4"/>
<rect x="390.8" y="178.7" width="5.7" height="2.9" fill="#e4e4e4"/>
<rect x="390.8" y="182.9" width="5.7" height="2.9" fill="#e4e4e4"/>
<rect x="398.9" y="149.5" width="5.7" height="2.9" fill="#e4e4e4"/>
<rect x="398.9" y="153.7" width="5.7" height="2.9" fill="#e4e4e4"/>
<rect x="398.9" y="157.9" width="5.7" height="2.9" fill="#e4e4e4"/>
<rect x="398.9" y="162.0" width="5.7" height="2.9" fill="#e4e4e4"/>
<rect x="398.9" y="166.2" width="5.7" height="2.9" fill="#e4e4e4"/>
<rect x="398.9" y="170.4" width="5.7" height="2.9" fill="#e4e4e4"/>
<rect x="398.9" y="174.5" width="5.7" height="2.9" fill="#e4e4e4"/>
<rect x="398.9" y="178.7" width="5.7" height="2.9" fill="#e4e4e4"/>
<rect x="398.9" y="182.9" width="5.7" height="2.9" fill="#e4e4e4"/>
<rect x="389.9" y="187.0" width="8.8" height="1.9" fill="#e4e4e4"/>
<text x="394.2" y="175.0" font-size="11" fill="none" stroke="#9a9a9a" stroke-width="0.45" text-anchor="middle">LGA1155</text>
<rect x="473.2" y="155.5" width="2.7" height="6.8" fill="#d2d2d2"/>
<rect x="473.2" y="169.2" width="2.7" height="6.8" fill="#d2d2d2"/>
<rect x="496.0" y="158.4" width="3.9" height="3.3" fill="#d2d2d2"/>
<rect x="496.0" y="170.5" width="3.9" height="3.3" fill="#d2d2d2"/>
<rect x="496.0" y="182.8" width="3.9" height="3.3" fill="#d2d2d2"/>
<rect x="496.0" y="194.5" width="3.9" height="3.3" fill="#d2d2d2"/>
<rect x="534.0" y="133.1" width="2.3" height="7.8" fill="#d2d2d2"/>
<rect x="534.0" y="152.6" width="2.3" height="3.3" fill="#d2d2d2"/>
<rect x="534.0" y="158.5" width="2.3" height="3.3" fill="#d2d2d2"/>
<rect x="534.0" y="164.4" width="2.3" height="3.3" fill="#d2d2d2"/>
<rect x="534.0" y="170.3" width="2.3" height="3.3" fill="#d2d2d2"/>
<rect x="534.0" y="176.3" width="2.3" height="3.3" fill="#d2d2d2"/>
<rect x="534.0" y="182.2" width="2.3" height="3.3" fill="#d2d2d2"/>
<rect x="534.0" y="188.1" width="2.3" height="3.3" fill="#d2d2d2"/>
<rect x="534.0" y="194.0" width="2.3" height="3.3" fill="#d2d2d2"/>
<rect x="553.1" y="154.5" width="2.3" height="3.1" fill="#d2d2d2"/>
<rect x="553.1" y="160.2" width="2.3" height="3.1" fill="#d2d2d2"/>
<rect x="553.1" y="165.9" width="2.3" height="3.1" fill="#d2d2d2"/>
<rect x="553.1" y="171.6" width="2.3" height="3.1" fill="#d2d2d2"/>
<rect x="553.1" y="177.2" width="2.3" height="3.1" fill="#d2d2d2"/>
<rect x="553.1" y="182.9" width="2.3" height="3.1" fill="#d2d2d2"/>
<rect x="553.1" y="188.6" width="2.3" height="3.1" fill="#d2d2d2"/>
<rect x="553.1" y="194.3" width="2.3" height="3.1" fill="#d2d2d2"/>
<rect x="571.4" y="123.4" width="2.5" height="2.9" fill="#d2d2d2"/>
<rect x="571.4" y="128.2" width="2.5" height="2.9" fill="#d2d2d2"/>
<rect x="571.4" y="132.9" width="2.5" height="2.9" fill="#d2d2d2"/>
<rect x="571.4" y="137.7" width="2.5" height="2.9" fill="#d2d2d2"/>
<rect x="571.4" y="142.5" width="2.5" height="2.9" fill="#d2d2d2"/>
<rect x="571.4" y="147.3" width="2.5" height="2.9" fill="#d2d2d2"/>
<rect x="571.4" y="152.1" width="2.5" height="2.9" fill="#d2d2d2"/>
<rect x="571.4" y="156.9" width="2.5" height="2.9" fill="#d2d2d2"/>
<rect x="571.4" y="161.7" width="2.5" height="2.9" fill="#d2d2d2"/>
<rect x="571.4" y="166.4" width="2.5" height="2.9" fill="#d2d2d2"/>
<rect x="571.4" y="171.2" width="2.5" height="2.9" fill="#d2d2d2"/>
<rect x="571.4" y="176.0" width="2.5" height="2.9" fill="#d2d2d2"/>
<rect x="571.4" y="180.8" width="2.5" height="2.9" fill="#d2d2d2"/>
<rect x="571.4" y="185.6" width="2.5" height="2.9" fill="#d2d2d2"/>
<rect x="571.4" y="190.4" width="2.5" height="2.9" fill="#d2d2d2"/>
<rect x="571.4" y="195.2" width="2.5" height="2.9" fill="#d2d2d2"/>
<rect x="576.5" y="91.4" width="13.6" height="10.9" fill="none" stroke="#e8e8e8" stroke-width="1.3"/>
<rect x="576.5" y="103.9" width="13.1" height="9.7" fill="none" stroke="#e8e8e8" stroke-width="1.4"/>
<circle cx="583.0" cy="108.8" r="0.6" fill="#888"/>
<rect x="579.2" y="119.1" width="11.3" height="14.0" fill="none" stroke="#e8e8e8" stroke-width="1.4"/>
<rect x="596.4" y="100.0" width="4.9" height="4.3" fill="none" stroke="#e8e8e8" stroke-width="1.2"/>
<rect x="603.2" y="101.0" width="5.8" height="5.8" fill="none" stroke="#e8e8e8" stroke-width="1.2"/>
<rect x="596.4" y="107.8" width="4.9" height="6.2" fill="none" stroke="#e8e8e8" stroke-width="1.2"/>
<rect x="603.2" y="108.8" width="5.8" height="5.8" fill="none" stroke="#e8e8e8" stroke-width="1.2"/>
<rect x="597.3" y="116.6" width="5.8" height="3.9" fill="#d2d2d2"/>
<rect x="604.2" y="115.6" width="4.9" height="2.9" fill="#d2d2d2"/>
<rect x="600.7" y="124.4" width="6.4" height="5.3" fill="none" stroke="#e8e8e8" stroke-width="1.3"/>
<rect x="596.4" y="130.2" width="2.3" height="3.9" fill="#d2d2d2"/>
<rect x="595.0" y="137.0" width="3.7" height="2.9" fill="#d2d2d2"/>
<rect x="578.4" y="141.9" width="2.3" height="7.8" fill="#d2d2d2"/>
<rect x="586.2" y="153.0" width="2.3" height="3.9" fill="#d2d2d2"/>
<rect x="583.7" y="162.3" width="2.0" height="2.7" fill="#d2d2d2"/>
<rect x="583.7" y="165.9" width="2.0" height="2.7" fill="#d2d2d2"/>
<rect x="586.3" y="162.3" width="2.0" height="2.7" fill="#d2d2d2"/>
<rect x="586.3" y="165.9" width="2.0" height="2.7" fill="#d2d2d2"/>
<rect x="574.0" y="166.2" width="5.3" height="5.8" fill="none" stroke="#e8e8e8" stroke-width="1.2"/>
<rect x="582.3" y="173.6" width="5.3" height="6.2" fill="none" stroke="#e8e8e8" stroke-width="1.2"/>
<rect x="582.3" y="170.5" width="4.3" height="2.5" fill="#d2d2d2"/>
<rect x="576.5" y="185.3" width="5.8" height="5.8" fill="none" stroke="#e8e8e8" stroke-width="1.2"/>
<rect x="583.7" y="181.8" width="2.2" height="2.7" fill="#d2d2d2"/>
<rect x="583.7" y="185.4" width="2.2" height="2.7" fill="#d2d2d2"/>
<rect x="583.7" y="189.1" width="2.2" height="2.7" fill="#d2d2d2"/>
<rect x="583.7" y="192.7" width="2.2" height="2.7" fill="#d2d2d2"/>
<rect x="583.7" y="196.3" width="2.2" height="2.7" fill="#d2d2d2"/>
<rect x="586.6" y="181.8" width="2.2" height="2.7" fill="#d2d2d2"/>
<rect x="586.6" y="185.4" width="2.2" height="2.7" fill="#d2d2d2"/>
<rect x="586.6" y="189.1" width="2.2" height="2.7" fill="#d2d2d2"/>
<rect x="586.6" y="192.7" width="2.2" height="2.7" fill="#d2d2d2"/>
<rect x="586.6" y="196.3" width="2.2" height="2.7" fill="#d2d2d2"/>
<text x="600.7" y="193.5" font-size="9" fill="none" stroke="#777" stroke-width="0.4" text-anchor="middle" transform="rotate(-90 600.7 193.5)">ATX</text>
<text x="511.0" y="168.2" font-size="10.5" fill="none" stroke="#9a9a9a" stroke-width="0.5" text-anchor="middle" transform="rotate(-90 511.0 168.2)">DDR3_4</text>
<text x="528.6" y="168.2" font-size="10.5" fill="none" stroke="#9a9a9a" stroke-width="0.5" text-anchor="middle" transform="rotate(-90 528.6 168.2)">DDR3_2</text>
<text x="548.1" y="168.2" font-size="10.5" fill="none" stroke="#9a9a9a" stroke-width="0.5" text-anchor="middle" transform="rotate(-90 548.1 168.2)">DDR3_3</text>
<text x="565.6" y="168.2" font-size="10.5" fill="none" stroke="#9a9a9a" stroke-width="0.5" text-anchor="middle" transform="rotate(-90 565.6 168.2)">DDR3_1</text>
<rect x="503.8" y="44.9" width="2.2" height="2.2" fill="#7c7c7c"/>
<rect x="508.8" y="44.9" width="2.2" height="2.2" fill="#7c7c7c"/>
<rect x="503.8" y="49.3" width="2.2" height="2.2" fill="#7c7c7c"/>
<rect x="508.8" y="49.3" width="2.2" height="2.2" fill="#7c7c7c"/>
<rect x="503.8" y="53.8" width="2.2" height="2.2" fill="#7c7c7c"/>
<rect x="508.8" y="53.8" width="2.2" height="2.2" fill="#7c7c7c"/>
<rect x="503.8" y="58.2" width="2.2" height="2.2" fill="#7c7c7c"/>
<rect x="508.8" y="58.2" width="2.2" height="2.2" fill="#7c7c7c"/>
<rect x="503.8" y="62.6" width="2.2" height="2.2" fill="#7c7c7c"/>
<rect x="508.8" y="62.6" width="2.2" height="2.2" fill="#7c7c7c"/>
<rect x="503.8" y="67.1" width="2.2" height="2.2" fill="#7c7c7c"/>
<rect x="508.8" y="67.1" width="2.2" height="2.2" fill="#7c7c7c"/>
<rect x="503.8" y="71.5" width="2.2" height="2.2" fill="#7c7c7c"/>
<rect x="508.8" y="71.5" width="2.2" height="2.2" fill="#7c7c7c"/>
<rect x="503.8" y="75.9" width="2.2" height="2.2" fill="#7c7c7c"/>
<rect x="508.8" y="75.9" width="2.2" height="2.2" fill="#7c7c7c"/>
<rect x="503.8" y="80.3" width="2.2" height="2.2" fill="#7c7c7c"/>
<rect x="508.8" y="80.3" width="2.2" height="2.2" fill="#7c7c7c"/>
<rect x="503.8" y="84.8" width="2.2" height="2.2" fill="#7c7c7c"/>
<rect x="508.8" y="84.8" width="2.2" height="2.2" fill="#7c7c7c"/>
<rect x="503.8" y="89.2" width="2.2" height="2.2" fill="#7c7c7c"/>
<rect x="508.8" y="89.2" width="2.2" height="2.2" fill="#7c7c7c"/>
<rect x="503.8" y="93.6" width="2.2" height="2.2" fill="#7c7c7c"/>
<rect x="508.8" y="93.6" width="2.2" height="2.2" fill="#7c7c7c"/>
<rect x="503.8" y="98.1" width="2.2" height="2.2" fill="#7c7c7c"/>
<rect x="508.8" y="98.1" width="2.2" height="2.2" fill="#7c7c7c"/>
<rect x="503.8" y="102.5" width="2.2" height="2.2" fill="#7c7c7c"/>
<rect x="508.8" y="102.5" width="2.2" height="2.2" fill="#7c7c7c"/>
<rect x="503.8" y="106.9" width="2.2" height="2.2" fill="#7c7c7c"/>
<rect x="508.8" y="106.9" width="2.2" height="2.2" fill="#7c7c7c"/>
<rect x="503.8" y="111.4" width="2.2" height="2.2" fill="#7c7c7c"/>
<rect x="508.8" y="111.4" width="2.2" height="2.2" fill="#7c7c7c"/>
<rect x="503.8" y="115.8" width="2.2" height="2.2" fill="#7c7c7c"/>
<rect x="508.8" y="115.8" width="2.2" height="2.2" fill="#7c7c7c"/>
<rect x="503.8" y="120.2" width="2.2" height="2.2" fill="#7c7c7c"/>
<rect x="508.8" y="120.2" width="2.2" height="2.2" fill="#7c7c7c"/>
<rect x="503.8" y="124.6" width="2.2" height="2.2" fill="#7c7c7c"/>
<rect x="508.8" y="124.6" width="2.2" height="2.2" fill="#7c7c7c"/>
<rect x="503.8" y="129.1" width="2.2" height="2.2" fill="#7c7c7c"/>
<rect x="508.8" y="129.1" width="2.2" height="2.2" fill="#7c7c7c"/>
<rect x="503.8" y="133.5" width="2.2" height="2.2" fill="#7c7c7c"/>
<rect x="508.8" y="133.5" width="2.2" height="2.2" fill="#7c7c7c"/>
<rect x="503.8" y="137.9" width="2.2" height="2.2" fill="#7c7c7c"/>
<rect x="508.8" y="137.9" width="2.2" height="2.2" fill="#7c7c7c"/>
<rect x="503.8" y="142.4" width="2.2" height="2.2" fill="#7c7c7c"/>
<rect x="508.8" y="142.4" width="2.2" height="2.2" fill="#7c7c7c"/>
<rect x="503.8" y="146.8" width="2.2" height="2.2" fill="#7c7c7c"/>
<rect x="508.8" y="146.8" width="2.2" height="2.2" fill="#7c7c7c"/>
<rect x="503.8" y="151.2" width="2.2" height="2.2" fill="#7c7c7c"/>
<rect x="508.8" y="151.2" width="2.2" height="2.2" fill="#7c7c7c"/>
<rect x="503.8" y="155.7" width="2.2" height="2.2" fill="#7c7c7c"/>
<rect x="508.8" y="155.7" width="2.2" height="2.2" fill="#7c7c7c"/>
<rect x="503.8" y="160.1" width="2.2" height="2.2" fill="#7c7c7c"/>
<rect x="508.8" y="160.1" width="2.2" height="2.2" fill="#7c7c7c"/>
<rect x="503.8" y="164.5" width="2.2" height="2.2" fill="#7c7c7c"/>
<rect x="508.8" y="164.5" width="2.2" height="2.2" fill="#7c7c7c"/>
<rect x="503.8" y="168.9" width="2.2" height="2.2" fill="#7c7c7c"/>
<rect x="508.8" y="168.9" width="2.2" height="2.2" fill="#7c7c7c"/>
<rect x="503.8" y="173.4" width="2.2" height="2.2" fill="#7c7c7c"/>
<rect x="508.8" y="173.4" width="2.2" height="2.2" fill="#7c7c7c"/>
<rect x="503.8" y="177.8" width="2.2" height="2.2" fill="#7c7c7c"/>
<rect x="508.8" y="177.8" width="2.2" height="2.2" fill="#7c7c7c"/>
<rect x="503.8" y="182.2" width="2.2" height="2.2" fill="#7c7c7c"/>
<rect x="508.8" y="182.2" width="2.2" height="2.2" fill="#7c7c7c"/>
<rect x="503.8" y="186.7" width="2.2" height="2.2" fill="#7c7c7c"/>
<rect x="508.8" y="186.7" width="2.2" height="2.2" fill="#7c7c7c"/>
<rect x="503.8" y="191.1" width="2.2" height="2.2" fill="#7c7c7c"/>
<rect x="508.8" y="191.1" width="2.2" height="2.2" fill="#7c7c7c"/>
<rect x="503.8" y="195.5" width="2.2" height="2.2" fill="#7c7c7c"/>
<rect x="508.8" y="195.5" width="2.2" height="2.2" fill="#7c7c7c"/>
<rect x="503.8" y="200.0" width="2.2" height="2.2" fill="#7c7c7c"/>
<rect x="508.8" y="200.0" width="2.2" height="2.2" fill="#7c7c7c"/>
<rect x="503.8" y="204.4" width="2.2" height="2.2" fill="#7c7c7c"/>
<rect x="508.8" y="204.4" width="2.2" height="2.2" fill="#7c7c7c"/>
<rect x="503.8" y="208.8" width="2.2" height="2.2" fill="#7c7c7c"/>
<rect x="508.8" y="208.8" width="2.2" height="2.2" fill="#7c7c7c"/>
<rect x="503.8" y="213.2" width="2.2" height="2.2" fill="#7c7c7c"/>
<rect x="508.8" y="213.2" width="2.2" height="2.2" fill="#7c7c7c"/>
<rect x="503.8" y="217.7" width="2.2" height="2.2" fill="#7c7c7c"/>
<rect x="508.8" y="217.7" width="2.2" height="2.2" fill="#7c7c7c"/>
<rect x="503.8" y="222.1" width="2.2" height="2.2" fill="#7c7c7c"/>
<rect x="508.8" y="222.1" width="2.2" height="2.2" fill="#7c7c7c"/>
<rect x="503.8" y="226.5" width="2.2" height="2.2" fill="#7c7c7c"/>
<rect x="508.8" y="226.5" width="2.2" height="2.2" fill="#7c7c7c"/>
<rect x="503.8" y="231.0" width="2.2" height="2.2" fill="#7c7c7c"/>
<rect x="508.8" y="231.0" width="2.2" height="2.2" fill="#7c7c7c"/>
<rect x="503.8" y="235.4" width="2.2" height="2.2" fill="#7c7c7c"/>
<rect x="508.8" y="235.4" width="2.2" height="2.2" fill="#7c7c7c"/>
<rect x="503.8" y="239.8" width="2.2" height="2.2" fill="#7c7c7c"/>
<rect x="508.8" y="239.8" width="2.2" height="2.2" fill="#7c7c7c"/>
<rect x="503.8" y="244.3" width="2.2" height="2.2" fill="#7c7c7c"/>
<rect x="508.8" y="244.3" width="2.2" height="2.2" fill="#7c7c7c"/>
<rect x="503.8" y="248.7" width="2.2" height="2.2" fill="#7c7c7c"/>
<rect x="508.8" y="248.7" width="2.2" height="2.2" fill="#7c7c7c"/>
<rect x="503.8" y="253.1" width="2.2" height="2.2" fill="#7c7c7c"/>
<rect x="508.8" y="253.1" width="2.2" height="2.2" fill="#7c7c7c"/>
<rect x="503.8" y="257.5" width="2.2" height="2.2" fill="#7c7c7c"/>
<rect x="508.8" y="257.5" width="2.2" height="2.2" fill="#7c7c7c"/>
<rect x="503.8" y="262.0" width="2.2" height="2.2" fill="#7c7c7c"/>
<rect x="508.8" y="262.0" width="2.2" height="2.2" fill="#7c7c7c"/>
<rect x="503.8" y="266.4" width="2.2" height="2.2" fill="#7c7c7c"/>
<rect x="508.8" y="266.4" width="2.2" height="2.2" fill="#7c7c7c"/>
<rect x="503.8" y="270.8" width="2.2" height="2.2" fill="#7c7c7c"/>
<rect x="508.8" y="270.8" width="2.2" height="2.2" fill="#7c7c7c"/>
<rect x="503.8" y="275.3" width="2.2" height="2.2" fill="#7c7c7c"/>
<rect x="508.8" y="275.3" width="2.2" height="2.2" fill="#7c7c7c"/>
<rect x="503.8" y="279.7" width="2.2" height="2.2" fill="#7c7c7c"/>
<rect x="508.8" y="279.7" width="2.2" height="2.2" fill="#7c7c7c"/>
<rect x="503.8" y="284.1" width="2.2" height="2.2" fill="#7c7c7c"/>
<rect x="508.8" y="284.1" width="2.2" height="2.2" fill="#7c7c7c"/>
<rect x="503.8" y="288.6" width="2.2" height="2.2" fill="#7c7c7c"/>
<rect x="508.8" y="288.6" width="2.2" height="2.2" fill="#7c7c7c"/>
<rect x="503.8" y="293.0" width="2.2" height="2.2" fill="#7c7c7c"/>
<rect x="508.8" y="293.0" width="2.2" height="2.2" fill="#7c7c7c"/>
<rect x="503.8" y="297.4" width="2.2" height="2.2" fill="#7c7c7c"/>
<rect x="508.8" y="297.4" width="2.2" height="2.2" fill="#7c7c7c"/>
<rect x="521.3" y="44.9" width="2.2" height="2.2" fill="#7c7c7c"/>
<rect x="526.3" y="44.9" width="2.2" height="2.2" fill="#7c7c7c"/>
<rect x="521.3" y="49.3" width="2.2" height="2.2" fill="#7c7c7c"/>
<rect x="526.3" y="49.3" width="2.2" height="2.2" fill="#7c7c7c"/>
<rect x="521.3" y="53.8" width="2.2" height="2.2" fill="#7c7c7c"/>
<rect x="526.3" y="53.8" width="2.2" height="2.2" fill="#7c7c7c"/>
<rect x="521.3" y="58.2" width="2.2" height="2.2" fill="#7c7c7c"/>
<rect x="526.3" y="58.2" width="2.2" height="2.2" fill="#7c7c7c"/>
<rect x="521.3" y="62.6" width="2.2" height="2.2" fill="#7c7c7c"/>
<rect x="526.3" y="62.6" width="2.2" height="2.2" fill="#7c7c7c"/>
<rect x="521.3" y="67.1" width="2.2" height="2.2" fill="#7c7c7c"/>
<rect x="526.3" y="67.1" width="2.2" height="2.2" fill="#7c7c7c"/>
<rect x="521.3" y="71.5" width="2.2" height="2.2" fill="#7c7c7c"/>
<rect x="526.3" y="71.5" width="2.2" height="2.2" fill="#7c7c7c"/>
<rect x="521.3" y="75.9" width="2.2" height="2.2" fill="#7c7c7c"/>
<rect x="526.3" y="75.9" width="2.2" height="2.2" fill="#7c7c7c"/>
<rect x="521.3" y="80.3" width="2.2" height="2.2" fill="#7c7c7c"/>
<rect x="526.3" y="80.3" width="2.2" height="2.2" fill="#7c7c7c"/>
<rect x="521.3" y="84.8" width="2.2" height="2.2" fill="#7c7c7c"/>
<rect x="526.3" y="84.8" width="2.2" height="2.2" fill="#7c7c7c"/>
<rect x="521.3" y="89.2" width="2.2" height="2.2" fill="#7c7c7c"/>
<rect x="526.3" y="89.2" width="2.2" height="2.2" fill="#7c7c7c"/>
<rect x="521.3" y="93.6" width="2.2" height="2.2" fill="#7c7c7c"/>
<rect x="526.3" y="93.6" width="2.2" height="2.2" fill="#7c7c7c"/>
<rect x="521.3" y="98.1" width="2.2" height="2.2" fill="#7c7c7c"/>
<rect x="526.3" y="98.1" width="2.2" height="2.2" fill="#7c7c7c"/>
<rect x="521.3" y="102.5" width="2.2" height="2.2" fill="#7c7c7c"/>
<rect x="526.3" y="102.5" width="2.2" height="2.2" fill="#7c7c7c"/>
<rect x="521.3" y="106.9" width="2.2" height="2.2" fill="#7c7c7c"/>
<rect x="526.3" y="106.9" width="2.2" height="2.2" fill="#7c7c7c"/>
<rect x="521.3" y="111.4" width="2.2" height="2.2" fill="#7c7c7c"/>
<rect x="526.3" y="111.4" width="2.2" height="2.2" fill="#7c7c7c"/>
<rect x="521.3" y="115.8" width="2.2" height="2.2" fill="#7c7c7c"/>
<rect x="526.3" y="115.8" width="2.2" height="2.2" fill="#7c7c7c"/>
<rect x="521.3" y="120.2" width="2.2" height="2.2" fill="#7c7c7c"/>
<rect x="526.3" y="120.2" width="2.2" height="2.2" fill="#7c7c7c"/>
<rect x="521.3" y="124.6" width="2.2" height="2.2" fill="#7c7c7c"/>
<rect x="526.3" y="124.6" width="2.2" height="2.2" fill="#7c7c7c"/>
<rect x="521.3" y="129.1" width="2.2" height="2.2" fill="#7c7c7c"/>
<rect x="526.3" y="129.1" width="2.2" height="2.2" fill="#7c7c7c"/>
<rect x="521.3" y="133.5" width="2.2" height="2.2" fill="#7c7c7c"/>
<rect x="526.3" y="133.5" width="2.2" height="2.2" fill="#7c7c7c"/>
<rect x="521.3" y="137.9" width="2.2" height="2.2" fill="#7c7c7c"/>
<rect x="526.3" y="137.9" width="2.2" height="2.2" fill="#7c7c7c"/>
<rect x="521.3" y="142.4" width="2.2" height="2.2" fill="#7c7c7c"/>
<rect x="526.3" y="142.4" width="2.2" height="2.2" fill="#7c7c7c"/>
<rect x="521.3" y="146.8" width="2.2" height="2.2" fill="#7c7c7c"/>
<rect x="526.3" y="146.8" width="2.2" height="2.2" fill="#7c7c7c"/>
<rect x="521.3" y="151.2" width="2.2" height="2.2" fill="#7c7c7c"/>
<rect x="526.3" y="151.2" width="2.2" height="2.2" fill="#7c7c7c"/>
<rect x="521.3" y="155.7" width="2.2" height="2.2" fill="#7c7c7c"/>
<rect x="526.3" y="155.7" width="2.2" height="2.2" fill="#7c7c7c"/>
<rect x="521.3" y="160.1" width="2.2" height="2.2" fill="#7c7c7c"/>
<rect x="526.3" y="160.1" width="2.2" height="2.2" fill="#7c7c7c"/>
<rect x="521.3" y="164.5" width="2.2" height="2.2" fill="#7c7c7c"/>
<rect x="526.3" y="164.5" width="2.2" height="2.2" fill="#7c7c7c"/>
<rect x="521.3" y="168.9" width="2.2" height="2.2" fill="#7c7c7c"/>
<rect x="526.3" y="168.9" width="2.2" height="2.2" fill="#7c7c7c"/>
<rect x="521.3" y="173.4" width="2.2" height="2.2" fill="#7c7c7c"/>
<rect x="526.3" y="173.4" width="2.2" height="2.2" fill="#7c7c7c"/>
<rect x="521.3" y="177.8" width="2.2" height="2.2" fill="#7c7c7c"/>
<rect x="526.3" y="177.8" width="2.2" height="2.2" fill="#7c7c7c"/>
<rect x="521.3" y="182.2" width="2.2" height="2.2" fill="#7c7c7c"/>
<rect x="526.3" y="182.2" width="2.2" height="2.2" fill="#7c7c7c"/>
<rect x="521.3" y="186.7" width="2.2" height="2.2" fill="#7c7c7c"/>
<rect x="526.3" y="186.7" width="2.2" height="2.2" fill="#7c7c7c"/>
<rect x="521.3" y="191.1" width="2.2" height="2.2" fill="#7c7c7c"/>
<rect x="526.3" y="191.1" width="2.2" height="2.2" fill="#7c7c7c"/>
<rect x="521.3" y="195.5" width="2.2" height="2.2" fill="#7c7c7c"/>
<rect x="526.3" y="195.5" width="2.2" height="2.2" fill="#7c7c7c"/>
<rect x="521.3" y="200.0" width="2.2" height="2.2" fill="#7c7c7c"/>
<rect x="526.3" y="200.0" width="2.2" height="2.2" fill="#7c7c7c"/>
<rect x="521.3" y="204.4" width="2.2" height="2.2" fill="#7c7c7c"/>
<rect x="526.3" y="204.4" width="2.2" height="2.2" fill="#7c7c7c"/>
<rect x="521.3" y="208.8" width="2.2" height="2.2" fill="#7c7c7c"/>
<rect x="526.3" y="208.8" width="2.2" height="2.2" fill="#7c7c7c"/>
<rect x="521.3" y="213.2" width="2.2" height="2.2" fill="#7c7c7c"/>
<rect x="526.3" y="213.2" width="2.2" height="2.2" fill="#7c7c7c"/>
<rect x="521.3" y="217.7" width="2.2" height="2.2" fill="#7c7c7c"/>
<rect x="526.3" y="217.7" width="2.2" height="2.2" fill="#7c7c7c"/>
<rect x="521.3" y="222.1" width="2.2" height="2.2" fill="#7c7c7c"/>
<rect x="526.3" y="222.1" width="2.2" height="2.2" fill="#7c7c7c"/>
<rect x="521.3" y="226.5" width="2.2" height="2.2" fill="#7c7c7c"/>
<rect x="526.3" y="226.5" width="2.2" height="2.2" fill="#7c7c7c"/>
<rect x="521.3" y="231.0" width="2.2" height="2.2" fill="#7c7c7c"/>
<rect x="526.3" y="231.0" width="2.2" height="2.2" fill="#7c7c7c"/>
<rect x="521.3" y="235.4" width="2.2" height="2.2" fill="#7c7c7c"/>
<rect x="526.3" y="235.4" width="2.2" height="2.2" fill="#7c7c7c"/>
<rect x="521.3" y="239.8" width="2.2" height="2.2" fill="#7c7c7c"/>
<rect x="526.3" y="239.8" width="2.2" height="2.2" fill="#7c7c7c"/>
<rect x="521.3" y="244.3" width="2.2" height="2.2" fill="#7c7c7c"/>
<rect x="526.3" y="244.3" width="2.2" height="2.2" fill="#7c7c7c"/>
<rect x="521.3" y="248.7" width="2.2" height="2.2" fill="#7c7c7c"/>
<rect x="526.3" y="248.7" width="2.2" height="2.2" fill="#7c7c7c"/>
<rect x="521.3" y="253.1" width="2.2" height="2.2" fill="#7c7c7c"/>
<rect x="526.3" y="253.1" width="2.2" height="2.2" fill="#7c7c7c"/>
<rect x="521.3" y="257.5" width="2.2" height="2.2" fill="#7c7c7c"/>
<rect x="526.3" y="257.5" width="2.2" height="2.2" fill="#7c7c7c"/>
<rect x="521.3" y="262.0" width="2.2" height="2.2" fill="#7c7c7c"/>
<rect x="526.3" y="262.0" width="2.2" height="2.2" fill="#7c7c7c"/>
<rect x="521.3" y="266.4" width="2.2" height="2.2" fill="#7c7c7c"/>
<rect x="526.3" y="266.4" width="2.2" height="2.2" fill="#7c7c7c"/>
<rect x="521.3" y="270.8" width="2.2" height="2.2" fill="#7c7c7c"/>
<rect x="526.3" y="270.8" width="2.2" height="2.2" fill="#7c7c7c"/>
<rect x="521.3" y="275.3" width="2.2" height="2.2" fill="#7c7c7c"/>
<rect x="526.3" y="275.3" width="2.2" height="2.2" fill="#7c7c7c"/>
<rect x="521.3" y="279.7" width="2.2" height="2.2" fill="#7c7c7c"/>
<rect x="526.3" y="279.7" width="2.2" height="2.2" fill="#7c7c7c"/>
<rect x="521.3" y="284.1" width="2.2" height="2.2" fill="#7c7c7c"/>
<rect x="526.3" y="284.1" width="2.2" height="2.2" fill="#7c7c7c"/>
<rect x="521.3" y="288.6" width="2.2" height="2.2" fill="#7c7c7c"/>
<rect x="526.3" y="288.6" width="2.2" height="2.2" fill="#7c7c7c"/>
<rect x="521.3" y="293.0" width="2.2" height="2.2" fill="#7c7c7c"/>
<rect x="526.3" y="293.0" width="2.2" height="2.2" fill="#7c7c7c"/>
<rect x="521.3" y="297.4" width="2.2" height="2.2" fill="#7c7c7c"/>
<rect x="526.3" y="297.4" width="2.2" height="2.2" fill="#7c7c7c"/>
<rect x="540.8" y="44.9" width="2.2" height="2.2" fill="#7c7c7c"/>
<rect x="545.8" y="44.9" width="2.2" height="2.2" fill="#7c7c7c"/>
<rect x="540.8" y="49.3" width="2.2" height="2.2" fill="#7c7c7c"/>
<rect x="545.8" y="49.3" width="2.2" height="2.2" fill="#7c7c7c"/>
<rect x="540.8" y="53.8" width="2.2" height="2.2" fill="#7c7c7c"/>
<rect x="545.8" y="53.8" width="2.2" height="2.2" fill="#7c7c7c"/>
<rect x="540.8" y="58.2" width="2.2" height="2.2" fill="#7c7c7c"/>
<rect x="545.8" y="58.2" width="2.2" height="2.2" fill="#7c7c7c"/>
<rect x="540.8" y="62.6" width="2.2" height="2.2" fill="#7c7c7c"/>
<rect x="545.8" y="62.6" width="2.2" height="2.2" fill="#7c7c7c"/>
<rect x="540.8" y="67.1" width="2.2" height="2.2" fill="#7c7c7c"/>
<rect x="545.8" y="67.1" width="2.2" height="2.2" fill="#7c7c7c"/>
<rect x="540.8" y="71.5" width="2.2" height="2.2" fill="#7c7c7c"/>
<rect x="545.8" y="71.5" width="2.2" height="2.2" fill="#7c7c7c"/>
<rect x="540.8" y="75.9" width="2.2" height="2.2" fill="#7c7c7c"/>
<rect x="545.8" y="75.9" width="2.2" height="2.2" fill="#7c7c7c"/>
<rect x="540.8" y="80.3" width="2.2" height="2.2" fill="#7c7c7c"/>
<rect x="545.8" y="80.3" width="2.2" height="2.2" fill="#7c7c7c"/>
<rect x="540.8" y="84.8" width="2.2" height="2.2" fill="#7c7c7c"/>
<rect x="545.8" y="84.8" width="2.2" height="2.2" fill="#7c7c7c"/>
<rect x="540.8" y="89.2" width="2.2" height="2.2" fill="#7c7c7c"/>
<rect x="545.8" y="89.2" width="2.2" height="2.2" fill="#7c7c7c"/>
<rect x="540.8" y="93.6" width="2.2" height="2.2" fill="#7c7c7c"/>
<rect x="545.8" y="93.6" width="2.2" height="2.2" fill="#7c7c7c"/>
<rect x="540.8" y="98.1" width="2.2" height="2.2" fill="#7c7c7c"/>
<rect x="545.8" y="98.1" width="2.2" height="2.2" fill="#7c7c7c"/>
<rect x="540.8" y="102.5" width="2.2" height="2.2" fill="#7c7c7c"/>
<rect x="545.8" y="102.5" width="2.2" height="2.2" fill="#7c7c7c"/>
<rect x="540.8" y="106.9" width="2.2" height="2.2" fill="#7c7c7c"/>
<rect x="545.8" y="106.9" width="2.2" height="2.2" fill="#7c7c7c"/>
<rect x="540.8" y="111.4" width="2.2" height="2.2" fill="#7c7c7c"/>
<rect x="545.8" y="111.4" width="2.2" height="2.2" fill="#7c7c7c"/>
<rect x="540.8" y="115.8" width="2.2" height="2.2" fill="#7c7c7c"/>
<rect x="545.8" y="115.8" width="2.2" height="2.2" fill="#7c7c7c"/>
<rect x="540.8" y="120.2" width="2.2" height="2.2" fill="#7c7c7c"/>
<rect x="545.8" y="120.2" width="2.2" height="2.2" fill="#7c7c7c"/>
<rect x="540.8" y="124.6" width="2.2" height="2.2" fill="#7c7c7c"/>
<rect x="545.8" y="124.6" width="2.2" height="2.2" fill="#7c7c7c"/>
<rect x="540.8" y="129.1" width="2.2" height="2.2" fill="#7c7c7c"/>
<rect x="545.8" y="129.1" width="2.2" height="2.2" fill="#7c7c7c"/>
<rect x="540.8" y="133.5" width="2.2" height="2.2" fill="#7c7c7c"/>
<rect x="545.8" y="133.5" width="2.2" height="2.2" fill="#7c7c7c"/>
<rect x="540.8" y="137.9" width="2.2" height="2.2" fill="#7c7c7c"/>
<rect x="545.8" y="137.9" width="2.2" height="2.2" fill="#7c7c7c"/>
<rect x="540.8" y="142.4" width="2.2" height="2.2" fill="#7c7c7c"/>
<rect x="545.8" y="142.4" width="2.2" height="2.2" fill="#7c7c7c"/>
<rect x="540.8" y="146.8" width="2.2" height="2.2" fill="#7c7c7c"/>
<rect x="545.8" y="146.8" width="2.2" height="2.2" fill="#7c7c7c"/>
<rect x="540.8" y="151.2" width="2.2" height="2.2" fill="#7c7c7c"/>
<rect x="545.8" y="151.2" width="2.2" height="2.2" fill="#7c7c7c"/>
<rect x="540.8" y="155.7" width="2.2" height="2.2" fill="#7c7c7c"/>
<rect x="545.8" y="155.7" width="2.2" height="2.2" fill="#7c7c7c"/>
<rect x="540.8" y="160.1" width="2.2" height="2.2" fill="#7c7c7c"/>
<rect x="545.8" y="160.1" width="2.2" height="2.2" fill="#7c7c7c"/>
<rect x="540.8" y="164.5" width="2.2" height="2.2" fill="#7c7c7c"/>
<rect x="545.8" y="164.5" width="2.2" height="2.2" fill="#7c7c7c"/>
<rect x="540.8" y="168.9" width="2.2" height="2.2" fill="#7c7c7c"/>
<rect x="545.8" y="168.9" width="2.2" height="2.2" fill="#7c7c7c"/>
<rect x="540.8" y="173.4" width="2.2" height="2.2" fill="#7c7c7c"/>
<rect x="545.8" y="173.4" width="2.2" height="2.2" fill="#7c7c7c"/>
<rect x="540.8" y="177.8" width="2.2" height="2.2" fill="#7c7c7c"/>
<rect x="545.8" y="177.8" width="2.2" height="2.2" fill="#7c7c7c"/>
<rect x="540.8" y="182.2" width="2.2" height="2.2" fill="#7c7c7c"/>
<rect x="545.8" y="182.2" width="2.2" height="2.2" fill="#7c7c7c"/>
<rect x="540.8" y="186.7" width="2.2" height="2.2" fill="#7c7c7c"/>
<rect x="545.8" y="186.7" width="2.2" height="2.2" fill="#7c7c7c"/>
<rect x="540.8" y="191.1" width="2.2" height="2.2" fill="#7c7c7c"/>
<rect x="545.8" y="191.1" width="2.2" height="2.2" fill="#7c7c7c"/>
<rect x="540.8" y="195.5" width="2.2" height="2.2" fill="#7c7c7c"/>
<rect x="545.8" y="195.5" width="2.2" height="2.2" fill="#7c7c7c"/>
<rect x="540.8" y="200.0" width="2.2" height="2.2" fill="#7c7c7c"/>
<rect x="545.8" y="200.0" width="2.2" height="2.2" fill="#7c7c7c"/>
<rect x="540.8" y="204.4" width="2.2" height="2.2" fill="#7c7c7c"/>
<rect x="545.8" y="204.4" width="2.2" height="2.2" fill="#7c7c7c"/>
<rect x="540.8" y="208.8" width="2.2" height="2.2" fill="#7c7c7c"/>
<rect x="545.8" y="208.8" width="2.2" height="2.2" fill="#7c7c7c"/>
<rect x="540.8" y="213.2" width="2.2" height="2.2" fill="#7c7c7c"/>
<rect x="545.8" y="213.2" width="2.2" height="2.2" fill="#7c7c7c"/>
<rect x="540.8" y="217.7" width="2.2" height="2.2" fill="#7c7c7c"/>
<rect x="545.8" y="217.7" width="2.2" height="2.2" fill="#7c7c7c"/>
<rect x="540.8" y="222.1" width="2.2" height="2.2" fill="#7c7c7c"/>
<rect x="545.8" y="222.1" width="2.2" height="2.2" fill="#7c7c7c"/>
<rect x="540.8" y="226.5" width="2.2" height="2.2" fill="#7c7c7c"/>
<rect x="545.8" y="226.5" width="2.2" height="2.2" fill="#7c7c7c"/>
<rect x="540.8" y="231.0" width="2.2" height="2.2" fill="#7c7c7c"/>
<rect x="545.8" y="231.0" width="2.2" height="2.2" fill="#7c7c7c"/>
<rect x="540.8" y="235.4" width="2.2" height="2.2" fill="#7c7c7c"/>
<rect x="545.8" y="235.4" width="2.2" height="2.2" fill="#7c7c7c"/>
<rect x="540.8" y="239.8" width="2.2" height="2.2" fill="#7c7c7c"/>
<rect x="545.8" y="239.8" width="2.2" height="2.2" fill="#7c7c7c"/>
<rect x="540.8" y="244.3" width="2.2" height="2.2" fill="#7c7c7c"/>
<rect x="545.8" y="244.3" width="2.2" height="2.2" fill="#7c7c7c"/>
<rect x="540.8" y="248.7" width="2.2" height="2.2" fill="#7c7c7c"/>
<rect x="545.8" y="248.7" width="2.2" height="2.2" fill="#7c7c7c"/>
<rect x="540.8" y="253.1" width="2.2" height="2.2" fill="#7c7c7c"/>
<rect x="545.8" y="253.1" width="2.2" height="2.2" fill="#7c7c7c"/>
<rect x="540.8" y="257.5" width="2.2" height="2.2" fill="#7c7c7c"/>
<rect x="545.8" y="257.5" width="2.2" height="2.2" fill="#7c7c7c"/>
<rect x="540.8" y="262.0" width="2.2" height="2.2" fill="#7c7c7c"/>
<rect x="545.8" y="262.0" width="2.2" height="2.2" fill="#7c7c7c"/>
<rect x="540.8" y="266.4" width="2.2" height="2.2" fill="#7c7c7c"/>
<rect x="545.8" y="266.4" width="2.2" height="2.2" fill="#7c7c7c"/>
<rect x="540.8" y="270.8" width="2.2" height="2.2" fill="#7c7c7c"/>
<rect x="545.8" y="270.8" width="2.2" height="2.2" fill="#7c7c7c"/>
<rect x="540.8" y="275.3" width="2.2" height="2.2" fill="#7c7c7c"/>
<rect x="545.8" y="275.3" width="2.2" height="2.2" fill="#7c7c7c"/>
<rect x="540.8" y="279.7" width="2.2" height="2.2" fill="#7c7c7c"/>
<rect x="545.8" y="279.7" width="2.2" height="2.2" fill="#7c7c7c"/>
<rect x="540.8" y="284.1" width="2.2" height="2.2" fill="#7c7c7c"/>
<rect x="545.8" y="284.1" width="2.2" height="2.2" fill="#7c7c7c"/>
<rect x="540.8" y="288.6" width="2.2" height="2.2" fill="#7c7c7c"/>
<rect x="545.8" y="288.6" width="2.2" height="2.2" fill="#7c7c7c"/>
<rect x="540.8" y="293.0" width="2.2" height="2.2" fill="#7c7c7c"/>
<rect x="545.8" y="293.0" width="2.2" height="2.2" fill="#7c7c7c"/>
<rect x="540.8" y="297.4" width="2.2" height="2.2" fill="#7c7c7c"/>
<rect x="545.8" y="297.4" width="2.2" height="2.2" fill="#7c7c7c"/>
<rect x="558.4" y="44.9" width="2.2" height="2.2" fill="#7c7c7c"/>
<rect x="563.4" y="44.9" width="2.2" height="2.2" fill="#7c7c7c"/>
<rect x="558.4" y="49.3" width="2.2" height="2.2" fill="#7c7c7c"/>
<rect x="563.4" y="49.3" width="2.2" height="2.2" fill="#7c7c7c"/>
<rect x="558.4" y="53.8" width="2.2" height="2.2" fill="#7c7c7c"/>
<rect x="563.4" y="53.8" width="2.2" height="2.2" fill="#7c7c7c"/>
<rect x="558.4" y="58.2" width="2.2" height="2.2" fill="#7c7c7c"/>
<rect x="563.4" y="58.2" width="2.2" height="2.2" fill="#7c7c7c"/>
<rect x="558.4" y="62.6" width="2.2" height="2.2" fill="#7c7c7c"/>
<rect x="563.4" y="62.6" width="2.2" height="2.2" fill="#7c7c7c"/>
<rect x="558.4" y="67.1" width="2.2" height="2.2" fill="#7c7c7c"/>
<rect x="563.4" y="67.1" width="2.2" height="2.2" fill="#7c7c7c"/>
<rect x="558.4" y="71.5" width="2.2" height="2.2" fill="#7c7c7c"/>
<rect x="563.4" y="71.5" width="2.2" height="2.2" fill="#7c7c7c"/>
<rect x="558.4" y="75.9" width="2.2" height="2.2" fill="#7c7c7c"/>
<rect x="563.4" y="75.9" width="2.2" height="2.2" fill="#7c7c7c"/>
<rect x="558.4" y="80.3" width="2.2" height="2.2" fill="#7c7c7c"/>
<rect x="563.4" y="80.3" width="2.2" height="2.2" fill="#7c7c7c"/>
<rect x="558.4" y="84.8" width="2.2" height="2.2" fill="#7c7c7c"/>
<rect x="563.4" y="84.8" width="2.2" height="2.2" fill="#7c7c7c"/>
<rect x="558.4" y="89.2" width="2.2" height="2.2" fill="#7c7c7c"/>
<rect x="563.4" y="89.2" width="2.2" height="2.2" fill="#7c7c7c"/>
<rect x="558.4" y="93.6" width="2.2" height="2.2" fill="#7c7c7c"/>
<rect x="563.4" y="93.6" width="2.2" height="2.2" fill="#7c7c7c"/>
<rect x="558.4" y="98.1" width="2.2" height="2.2" fill="#7c7c7c"/>
<rect x="563.4" y="98.1" width="2.2" height="2.2" fill="#7c7c7c"/>
<rect x="558.4" y="102.5" width="2.2" height="2.2" fill="#7c7c7c"/>
<rect x="563.4" y="102.5" width="2.2" height="2.2" fill="#7c7c7c"/>
<rect x="558.4" y="106.9" width="2.2" height="2.2" fill="#7c7c7c"/>
<rect x="563.4" y="106.9" width="2.2" height="2.2" fill="#7c7c7c"/>
<rect x="558.4" y="111.4" width="2.2" height="2.2" fill="#7c7c7c"/>
<rect x="563.4" y="111.4" width="2.2" height="2.2" fill="#7c7c7c"/>
<rect x="558.4" y="115.8" width="2.2" height="2.2" fill="#7c7c7c"/>
<rect x="563.4" y="115.8" width="2.2" height="2.2" fill="#7c7c7c"/>
<rect x="558.4" y="120.2" width="2.2" height="2.2" fill="#7c7c7c"/>
<rect x="563.4" y="120.2" width="2.2" height="2.2" fill="#7c7c7c"/>
<rect x="558.4" y="124.6" width="2.2" height="2.2" fill="#7c7c7c"/>
<rect x="563.4" y="124.6" width="2.2" height="2.2" fill="#7c7c7c"/>
<rect x="558.4" y="129.1" width="2.2" height="2.2" fill="#7c7c7c"/>
<rect x="563.4" y="129.1" width="2.2" height="2.2" fill="#7c7c7c"/>
<rect x="558.4" y="133.5" width="2.2" height="2.2" fill="#7c7c7c"/>
<rect x="563.4" y="133.5" width="2.2" height="2.2" fill="#7c7c7c"/>
<rect x="558.4" y="137.9" width="2.2" height="2.2" fill="#7c7c7c"/>
<rect x="563.4" y="137.9" width="2.2" height="2.2" fill="#7c7c7c"/>
<rect x="558.4" y="142.4" width="2.2" height="2.2" fill="#7c7c7c"/>
<rect x="563.4" y="142.4" width="2.2" height="2.2" fill="#7c7c7c"/>
<rect x="558.4" y="146.8" width="2.2" height="2.2" fill="#7c7c7c"/>
<rect x="563.4" y="146.8" width="2.2" height="2.2" fill="#7c7c7c"/>
<rect x="558.4" y="151.2" width="2.2" height="2.2" fill="#7c7c7c"/>
<rect x="563.4" y="151.2" width="2.2" height="2.2" fill="#7c7c7c"/>
<rect x="558.4" y="155.7" width="2.2" height="2.2" fill="#7c7c7c"/>
<rect x="563.4" y="155.7" width="2.2" height="2.2" fill="#7c7c7c"/>
<rect x="558.4" y="160.1" width="2.2" height="2.2" fill="#7c7c7c"/>
<rect x="563.4" y="160.1" width="2.2" height="2.2" fill="#7c7c7c"/>
<rect x="558.4" y="164.5" width="2.2" height="2.2" fill="#7c7c7c"/>
<rect x="563.4" y="164.5" width="2.2" height="2.2" fill="#7c7c7c"/>
<rect x="558.4" y="168.9" width="2.2" height="2.2" fill="#7c7c7c"/>
<rect x="563.4" y="168.9" width="2.2" height="2.2" fill="#7c7c7c"/>
<rect x="558.4" y="173.4" width="2.2" height="2.2" fill="#7c7c7c"/>
<rect x="563.4" y="173.4" width="2.2" height="2.2" fill="#7c7c7c"/>
<rect x="558.4" y="177.8" width="2.2" height="2.2" fill="#7c7c7c"/>
<rect x="563.4" y="177.8" width="2.2" height="2.2" fill="#7c7c7c"/>
<rect x="558.4" y="182.2" width="2.2" height="2.2" fill="#7c7c7c"/>
<rect x="563.4" y="182.2" width="2.2" height="2.2" fill="#7c7c7c"/>
<rect x="558.4" y="186.7" width="2.2" height="2.2" fill="#7c7c7c"/>
<rect x="563.4" y="186.7" width="2.2" height="2.2" fill="#7c7c7c"/>
<rect x="558.4" y="191.1" width="2.2" height="2.2" fill="#7c7c7c"/>
<rect x="563.4" y="191.1" width="2.2" height="2.2" fill="#7c7c7c"/>
<rect x="558.4" y="195.5" width="2.2" height="2.2" fill="#7c7c7c"/>
<rect x="563.4" y="195.5" width="2.2" height="2.2" fill="#7c7c7c"/>
<rect x="558.4" y="200.0" width="2.2" height="2.2" fill="#7c7c7c"/>
<rect x="563.4" y="200.0" width="2.2" height="2.2" fill="#7c7c7c"/>
<rect x="558.4" y="204.4" width="2.2" height="2.2" fill="#7c7c7c"/>
<rect x="563.4" y="204.4" width="2.2" height="2.2" fill="#7c7c7c"/>
<rect x="558.4" y="208.8" width="2.2" height="2.2" fill="#7c7c7c"/>
<rect x="563.4" y="208.8" width="2.2" height="2.2" fill="#7c7c7c"/>
<rect x="558.4" y="213.2" width="2.2" height="2.2" fill="#7c7c7c"/>
<rect x="563.4" y="213.2" width="2.2" height="2.2" fill="#7c7c7c"/>
<rect x="558.4" y="217.7" width="2.2" height="2.2" fill="#7c7c7c"/>
<rect x="563.4" y="217.7" width="2.2" height="2.2" fill="#7c7c7c"/>
<rect x="558.4" y="222.1" width="2.2" height="2.2" fill="#7c7c7c"/>
<rect x="563.4" y="222.1" width="2.2" height="2.2" fill="#7c7c7c"/>
<rect x="558.4" y="226.5" width="2.2" height="2.2" fill="#7c7c7c"/>
<rect x="563.4" y="226.5" width="2.2" height="2.2" fill="#7c7c7c"/>
<rect x="558.4" y="231.0" width="2.2" height="2.2" fill="#7c7c7c"/>
<rect x="563.4" y="231.0" width="2.2" height="2.2" fill="#7c7c7c"/>
<rect x="558.4" y="235.4" width="2.2" height="2.2" fill="#7c7c7c"/>
<rect x="563.4" y="235.4" width="2.2" height="2.2" fill="#7c7c7c"/>
<rect x="558.4" y="239.8" width="2.2" height="2.2" fill="#7c7c7c"/>
<rect x="563.4" y="239.8" width="2.2" height="2.2" fill="#7c7c7c"/>
<rect x="558.4" y="244.3" width="2.2" height="2.2" fill="#7c7c7c"/>
<rect x="563.4" y="244.3" width="2.2" height="2.2" fill="#7c7c7c"/>
<rect x="558.4" y="248.7" width="2.2" height="2.2" fill="#7c7c7c"/>
<rect x="563.4" y="248.7" width="2.2" height="2.2" fill="#7c7c7c"/>
<rect x="558.4" y="253.1" width="2.2" height="2.2" fill="#7c7c7c"/>
<rect x="563.4" y="253.1" width="2.2" height="2.2" fill="#7c7c7c"/>
<rect x="558.4" y="257.5" width="2.2" height="2.2" fill="#7c7c7c"/>
<rect x="563.4" y="257.5" width="2.2" height="2.2" fill="#7c7c7c"/>
<rect x="558.4" y="262.0" width="2.2" height="2.2" fill="#7c7c7c"/>
<rect x="563.4" y="262.0" width="2.2" height="2.2" fill="#7c7c7c"/>
<rect x="558.4" y="266.4" width="2.2" height="2.2" fill="#7c7c7c"/>
<rect x="563.4" y="266.4" width="2.2" height="2.2" fill="#7c7c7c"/>
<rect x="558.4" y="270.8" width="2.2" height="2.2" fill="#7c7c7c"/>
<rect x="563.4" y="270.8" width="2.2" height="2.2" fill="#7c7c7c"/>
<rect x="558.4" y="275.3" width="2.2" height="2.2" fill="#7c7c7c"/>
<rect x="563.4" y="275.3" width="2.2" height="2.2" fill="#7c7c7c"/>
<rect x="558.4" y="279.7" width="2.2" height="2.2" fill="#7c7c7c"/>
<rect x="563.4" y="279.7" width="2.2" height="2.2" fill="#7c7c7c"/>
<rect x="558.4" y="284.1" width="2.2" height="2.2" fill="#7c7c7c"/>
<rect x="563.4" y="284.1" width="2.2" height="2.2" fill="#7c7c7c"/>
<rect x="558.4" y="288.6" width="2.2" height="2.2" fill="#7c7c7c"/>
<rect x="563.4" y="288.6" width="2.2" height="2.2" fill="#7c7c7c"/>
<rect x="558.4" y="293.0" width="2.2" height="2.2" fill="#7c7c7c"/>
<rect x="563.4" y="293.0" width="2.2" height="2.2" fill="#7c7c7c"/>
<rect x="558.4" y="297.4" width="2.2" height="2.2" fill="#7c7c7c"/>
<rect x="563.4" y="297.4" width="2.2" height="2.2" fill="#7c7c7c"/>
<rect x="204.4" y="206.8" width="3.3" height="8.8" fill="#d2d2d2"/>
<rect x="209.7" y="201.0" width="3.9" height="4.9" fill="#d2d2d2"/>
<rect x="218.4" y="206.8" width="2.3" height="7.8" fill="#d2d2d2"/>
<rect x="183.8" y="212.1" width="6.4" height="3.1" fill="#d2d2d2"/>
<rect x="191.2" y="210.7" width="1.9" height="5.8" fill="#d2d2d2"/>
<rect x="194.1" y="211.7" width="2.3" height="4.9" fill="#d2d2d2"/>
<rect x="197.4" y="209.7" width="2.3" height="6.8" fill="#d2d2d2"/>
<rect x="210.3" y="215.6" width="3.9" height="1.9" fill="#d2d2d2"/>
<rect x="227.2" y="224.4" width="3.3" height="4.5" fill="#d2d2d2"/>
<rect x="227.2" y="237.0" width="2.9" height="3.9" fill="#d2d2d2"/>
<rect x="226.2" y="254.9" width="2.3" height="4.5" fill="#d2d2d2"/>
<rect x="218.4" y="257.5" width="3.5" height="2.3" fill="#d2d2d2"/>
<rect x="183.8" y="257.9" width="5.5" height="1.9" fill="#d2d2d2"/>
<rect x="275.9" y="200.0" width="4.9" height="1.0" fill="#d2d2d2"/>
<rect x="173.6" y="218.5" width="44.8" height="39.0" fill="none" stroke="#e8e8e8" stroke-width="1.4"/>
<text x="196.0" y="238.0" font-size="5.5" fill="none" stroke="#888" stroke-width="0.4" text-anchor="middle">USB3_LAN</text>
<circle cx="185.3" cy="224.9" r="0.6" fill="#666"/>
<circle cx="185.3" cy="230.2" r="0.6" fill="#666"/>
<circle cx="185.3" cy="244.8" r="0.6" fill="#666"/>
<circle cx="185.3" cy="251.0" r="0.6" fill="#666"/>
<circle cx="196.0" cy="224.9" r="0.6" fill="#666"/>
<circle cx="196.0" cy="230.2" r="0.6" fill="#666"/>
<circle cx="196.0" cy="244.8" r="0.6" fill="#666"/>
<circle cx="196.0" cy="251.0" r="0.6" fill="#666"/>
<circle cx="206.8" cy="224.9" r="0.6" fill="#666"/>
<circle cx="206.8" cy="230.2" r="0.6" fill="#666"/>
<circle cx="206.8" cy="244.8" r="0.6" fill="#666"/>
<circle cx="206.8" cy="251.0" r="0.6" fill="#666"/>
<circle cx="211.6" cy="224.9" r="0.6" fill="#666"/>
<circle cx="211.6" cy="230.2" r="0.6" fill="#666"/>
<circle cx="211.6" cy="244.8" r="0.6" fill="#666"/>
<circle cx="211.6" cy="251.0" r="0.6" fill="#666"/>
<circle cx="189.2" cy="230.2" r="0.6" fill="#777"/>
<circle cx="189.2" cy="234.1" r="0.6" fill="#777"/>
<circle cx="189.2" cy="240.9" r="0.6" fill="#777"/>
<circle cx="189.2" cy="244.8" r="0.6" fill="#777"/>
<circle cx="193.1" cy="230.2" r="0.6" fill="#777"/>
<circle cx="193.1" cy="234.1" r="0.6" fill="#777"/>
<circle cx="193.1" cy="240.9" r="0.6" fill="#777"/>
<circle cx="193.1" cy="244.8" r="0.6" fill="#777"/>
<circle cx="197.0" cy="230.2" r="0.6" fill="#777"/>
<circle cx="197.0" cy="234.1" r="0.6" fill="#777"/>
<circle cx="197.0" cy="240.9" r="0.6" fill="#777"/>
<circle cx="197.0" cy="244.8" r="0.6" fill="#777"/>
<rect x="221.9" y="224.4" width="4.3" height="4.9" fill="none" stroke="#e8e8e8" stroke-width="1.2"/>
<rect x="222.7" y="230.8" width="7.0" height="5.3" fill="none" stroke="#e8e8e8" stroke-width="1.2"/>
<rect x="221.9" y="238.0" width="3.9" height="5.3" fill="none" stroke="#e8e8e8" stroke-width="1.2"/>
<rect x="222.7" y="245.8" width="5.8" height="7.2" fill="none" stroke="#e8e8e8" stroke-width="1.3"/>
<rect x="173.6" y="261.4" width="29.6" height="49.3" fill="none" stroke="#e8e8e8" stroke-width="1.4"/>
<text x="189.6" y="281.8" font-size="9" fill="none" stroke="#999" stroke-width="0.4" text-anchor="middle" transform="rotate(-78 189.6 281.8)">AUDIO</text>
<rect x="210.6" y="262.7" width="5.8" height="7.0" fill="none" stroke="#e8e8e8" stroke-width="1.3"/>
<rect x="218.1" y="262.7" width="5.8" height="7.0" fill="none" stroke="#e8e8e8" stroke-width="1.3"/>
<rect x="210.3" y="272.1" width="3.7" height="2.0" fill="#d2d2d2"/>
<rect x="210.3" y="274.8" width="3.7" height="2.0" fill="#d2d2d2"/>
<rect x="210.3" y="277.4" width="3.7" height="2.0" fill="#d2d2d2"/>
<rect x="210.3" y="280.1" width="3.7" height="2.0" fill="#d2d2d2"/>
<rect x="210.3" y="282.8" width="3.7" height="2.0" fill="#d2d2d2"/>
<rect x="210.3" y="285.5" width="3.7" height="2.0" fill="#d2d2d2"/>
<rect x="210.3" y="288.2" width="3.7" height="2.0" fill="#d2d2d2"/>
<rect x="210.3" y="290.9" width="3.7" height="2.0" fill="#d2d2d2"/>
<rect x="210.3" y="293.6" width="3.7" height="2.0" fill="#d2d2d2"/>
<rect x="210.3" y="296.2" width="3.7" height="2.0" fill="#d2d2d2"/>
<rect x="210.3" y="298.9" width="3.7" height="2.0" fill="#d2d2d2"/>
<rect x="210.3" y="301.6" width="3.7" height="2.0" fill="#d2d2d2"/>
<rect x="210.3" y="304.3" width="3.7" height="2.0" fill="#d2d2d2"/>
<rect x="210.3" y="307.0" width="3.7" height="2.0" fill="#d2d2d2"/>
<rect x="260.3" y="261.4" width="20.8" height="20.5" fill="none" stroke="#e8e8e8" stroke-width="2"/>
<rect x="263.2" y="264.3" width="15.0" height="14.6" fill="none" stroke="#5a5a5a" stroke-width="0.6"/>
<circle cx="270.7" cy="271.6" r="0.6" fill="#888"/>
<rect x="253.1" y="255.5" width="3.9" height="2.5" fill="#d2d2d2"/>
<rect x="253.1" y="258.9" width="3.9" height="2.5" fill="#d2d2d2"/>
<rect x="253.1" y="262.2" width="3.9" height="2.5" fill="#d2d2d2"/>
<rect x="253.1" y="265.6" width="3.9" height="2.5" fill="#d2d2d2"/>
<rect x="253.1" y="268.9" width="3.9" height="2.5" fill="#d2d2d2"/>
<rect x="253.1" y="272.3" width="3.9" height="2.5" fill="#d2d2d2"/>
<rect x="253.1" y="275.6" width="3.9" height="2.5" fill="#d2d2d2"/>
<rect x="253.1" y="279.0" width="3.9" height="2.5" fill="#d2d2d2"/>
<rect x="253.1" y="282.4" width="3.9" height="2.5" fill="#d2d2d2"/>
<rect x="262.3" y="253.0" width="2.3" height="4.9" fill="#d2d2d2"/>
<rect x="265.0" y="253.0" width="2.3" height="4.9" fill="#d2d2d2"/>
<rect x="267.8" y="253.0" width="2.3" height="4.9" fill="#d2d2d2"/>
<rect x="270.6" y="253.0" width="2.3" height="4.9" fill="#d2d2d2"/>
<rect x="273.3" y="253.0" width="2.3" height="4.9" fill="#d2d2d2"/>
<rect x="276.1" y="253.0" width="2.3" height="4.9" fill="#d2d2d2"/>
<rect x="280.8" y="252.2" width="2.3" height="2.7" fill="#d2d2d2"/>
<rect x="280.8" y="255.8" width="2.3" height="2.7" fill="#d2d2d2"/>
<rect x="283.9" y="252.2" width="2.3" height="2.7" fill="#d2d2d2"/>
<rect x="283.9" y="255.8" width="2.3" height="2.7" fill="#d2d2d2"/>
<rect x="284.7" y="261.4" width="3.5" height="2.4" fill="#d2d2d2"/>
<rect x="284.7" y="264.6" width="3.5" height="2.4" fill="#d2d2d2"/>
<rect x="284.7" y="267.8" width="3.5" height="2.4" fill="#d2d2d2"/>
<rect x="284.7" y="271.0" width="3.5" height="2.4" fill="#d2d2d2"/>
<rect x="284.7" y="274.2" width="3.5" height="2.4" fill="#d2d2d2"/>
<rect x="284.7" y="277.4" width="3.5" height="2.4" fill="#d2d2d2"/>
<rect x="284.7" y="280.6" width="3.5" height="2.4" fill="#d2d2d2"/>
<rect x="289.0" y="259.4" width="4.5" height="5.8" fill="#d2d2d2"/>
<rect x="289.0" y="266.2" width="4.5" height="2.7" fill="#d2d2d2"/>
<rect x="289.0" y="269.8" width="4.5" height="2.7" fill="#d2d2d2"/>
<rect x="289.0" y="273.4" width="4.5" height="2.7" fill="#d2d2d2"/>
<rect x="254.5" y="284.2" width="2.7" height="4.5" fill="#d2d2d2"/>
<rect x="257.6" y="284.2" width="2.7" height="4.5" fill="#d2d2d2"/>
<rect x="260.8" y="284.2" width="2.7" height="4.5" fill="#d2d2d2"/>
<rect x="264.0" y="284.2" width="2.7" height="4.5" fill="#d2d2d2"/>
<rect x="267.1" y="284.2" width="2.7" height="4.5" fill="#d2d2d2"/>
<rect x="270.3" y="284.2" width="2.7" height="4.5" fill="#d2d2d2"/>
<rect x="273.5" y="284.2" width="2.7" height="4.5" fill="#d2d2d2"/>
<rect x="276.6" y="284.2" width="2.7" height="4.5" fill="#d2d2d2"/>
<rect x="254.5" y="289.6" width="2.7" height="3.9" fill="#d2d2d2"/>
<rect x="257.6" y="289.6" width="2.7" height="3.9" fill="#d2d2d2"/>
<rect x="260.8" y="289.6" width="2.7" height="3.9" fill="#d2d2d2"/>
<rect x="264.0" y="289.6" width="2.7" height="3.9" fill="#d2d2d2"/>
<rect x="269.1" y="289.6" width="2.9" height="4.9" fill="#d2d2d2"/>
<rect x="273.0" y="289.6" width="2.9" height="4.9" fill="#d2d2d2"/>
<rect x="258.4" y="295.1" width="3.1" height="3.9" fill="#d2d2d2"/>
<rect x="262.1" y="295.1" width="3.1" height="3.9" fill="#d2d2d2"/>
<rect x="265.8" y="295.1" width="3.1" height="3.9" fill="#d2d2d2"/>
<rect x="269.5" y="295.1" width="3.1" height="3.9" fill="#d2d2d2"/>
<rect x="273.2" y="295.1" width="3.1" height="3.9" fill="#d2d2d2"/>
<rect x="279.2" y="289.6" width="4.5" height="4.9" fill="#d2d2d2"/>
<rect x="281.8" y="284.2" width="2.9" height="4.5" fill="#d2d2d2"/>
<rect x="288.6" y="280.8" width="3.9" height="2.9" fill="#d2d2d2"/>
<rect x="288.6" y="285.3" width="3.9" height="2.3" fill="#d2d2d2"/>
<rect x="281.2" y="295.1" width="2.5" height="3.3" fill="#d2d2d2"/>
<rect x="370.4" y="212.1" width="8.8" height="3.5" fill="#d2d2d2"/>
<rect x="368.4" y="216.0" width="10.1" height="3.5" fill="#d2d2d2"/>
<circle cx="394.2" cy="239.0" r="0.6" fill="#666"/>
<rect x="334.4" y="251.6" width="4.9" height="2.5" fill="#d2d2d2"/>
<rect x="340.2" y="250.3" width="7.8" height="4.3" fill="#d2d2d2"/>
<rect x="349.9" y="250.3" width="4.9" height="4.3" fill="#d2d2d2"/>
<rect x="328.5" y="258.4" width="4.9" height="6.8" fill="#d2d2d2"/>
<rect x="362.6" y="255.5" width="4.3" height="9.7" fill="#d2d2d2"/>
<rect x="325.2" y="268.2" width="2.3" height="7.8" fill="#d2d2d2"/>
<rect x="368.1" y="268.2" width="2.7" height="7.8" fill="#d2d2d2"/>
<rect x="405.5" y="252.6" width="9.4" height="3.5" fill="#d2d2d2"/>
<rect x="407.4" y="256.9" width="2.3" height="3.5" fill="#d2d2d2"/>
<rect x="310.0" y="262.7" width="1.6" height="2.5" fill="#d2d2d2"/>
<rect x="310.0" y="270.1" width="1.9" height="2.3" fill="#d2d2d2"/>
<rect x="300.3" y="263.3" width="9.7" height="1.9" fill="#d2d2d2"/>
<rect x="300.3" y="269.7" width="9.7" height="2.7" fill="#d2d2d2"/>
<rect x="303.2" y="276.9" width="2.9" height="3.9" fill="#d2d2d2"/>
<rect x="307.1" y="277.9" width="2.9" height="2.3" fill="#d2d2d2"/>
<rect x="300.3" y="282.2" width="9.7" height="3.5" fill="#d2d2d2"/>
<rect x="310.0" y="277.9" width="5.8" height="2.3" fill="#d2d2d2"/>
<rect x="318.2" y="277.5" width="2.5" height="3.3" fill="#d2d2d2"/>
<rect x="311.9" y="282.2" width="4.9" height="2.5" fill="#d2d2d2"/>
<rect x="318.8" y="282.8" width="4.9" height="1.9" fill="#d2d2d2"/>
<rect x="341.2" y="280.3" width="4.9" height="5.1" fill="#d2d2d2"/>
<rect x="348.0" y="278.9" width="5.3" height="2.9" fill="#d2d2d2"/>
<rect x="348.0" y="283.8" width="3.9" height="3.9" fill="#d2d2d2"/>
<rect x="355.8" y="279.9" width="8.8" height="2.9" fill="#d2d2d2"/>
<rect x="366.1" y="279.9" width="4.7" height="4.9" fill="#d2d2d2"/>
<rect x="361.0" y="283.8" width="4.5" height="2.9" fill="#d2d2d2"/>
<rect x="371.4" y="288.1" width="2.3" height="7.4" fill="#d2d2d2"/>
<rect x="324.0" y="281.8" width="3.2" height="3.9" fill="#d2d2d2"/>
<rect x="327.8" y="281.8" width="3.2" height="3.9" fill="#d2d2d2"/>
<rect x="331.6" y="281.8" width="3.2" height="3.9" fill="#d2d2d2"/>
<rect x="335.4" y="281.8" width="3.2" height="3.9" fill="#d2d2d2"/>
<rect x="335.3" y="256.9" width="11.7" height="14.2" fill="none" stroke="#e8e8e8" stroke-width="1.4"/>
<rect x="349.9" y="256.9" width="11.1" height="14.2" fill="none" stroke="#e8e8e8" stroke-width="1.4"/>
<rect x="303.8" y="287.8" width="9.6" height="12.9" fill="none" stroke="#e8e8e8" stroke-width="1.5"/>
<circle cx="308.6" cy="294.2" r="0.6" fill="#888"/>
<rect x="320.6" y="287.8" width="10.3" height="12.9" fill="none" stroke="#e8e8e8" stroke-width="1.5"/>
<circle cx="325.8" cy="294.2" r="0.6" fill="#888"/>
<rect x="335.8" y="287.8" width="10.1" height="12.9" fill="none" stroke="#e8e8e8" stroke-width="1.5"/>
<circle cx="340.8" cy="294.2" r="0.6" fill="#888"/>
<rect x="353.1" y="287.8" width="10.3" height="12.9" fill="none" stroke="#e8e8e8" stroke-width="1.5"/>
<circle cx="358.3" cy="294.2" r="0.6" fill="#888"/>
<rect x="300.3" y="288.1" width="2.6" height="2.4" fill="#d2d2d2"/>
<rect x="300.3" y="291.3" width="2.6" height="2.4" fill="#d2d2d2"/>
<rect x="300.3" y="294.5" width="2.6" height="2.4" fill="#d2d2d2"/>
<rect x="300.3" y="297.8" width="2.6" height="2.4" fill="#d2d2d2"/>
<rect x="314.0" y="289.9" width="2.3" height="3.0" fill="#d2d2d2"/>
<rect x="314.0" y="293.6" width="2.3" height="3.0" fill="#d2d2d2"/>
<rect x="314.0" y="297.3" width="2.3" height="3.0" fill="#d2d2d2"/>
<rect x="316.9" y="289.9" width="2.3" height="3.0" fill="#d2d2d2"/>
<rect x="316.9" y="293.6" width="2.3" height="3.0" fill="#d2d2d2"/>
<rect x="316.9" y="297.3" width="2.3" height="3.0" fill="#d2d2d2"/>
<rect x="332.7" y="287.5" width="2.9" height="2.5" fill="#d2d2d2"/>
<rect x="332.7" y="290.9" width="2.9" height="2.5" fill="#d2d2d2"/>
<rect x="332.7" y="294.3" width="2.9" height="2.5" fill="#d2d2d2"/>
<rect x="332.7" y="297.6" width="2.9" height="2.5" fill="#d2d2d2"/>
<rect x="346.7" y="290.5" width="2.1" height="2.8" fill="#d2d2d2"/>
<rect x="346.7" y="294.0" width="2.1" height="2.8" fill="#d2d2d2"/>
<rect x="346.7" y="297.5" width="2.1" height="2.8" fill="#d2d2d2"/>
<rect x="349.3" y="290.5" width="2.1" height="2.8" fill="#d2d2d2"/>
<rect x="349.3" y="294.0" width="2.1" height="2.8" fill="#d2d2d2"/>
<rect x="349.3" y="297.5" width="2.1" height="2.8" fill="#d2d2d2"/>
<rect x="363.9" y="285.2" width="2.1" height="8.2" fill="#d2d2d2"/>
<rect x="371.2" y="288.1" width="2.3" height="7.0" fill="#d2d2d2"/>
<rect x="440.9" y="277.9" width="17.5" height="12.7" fill="none" stroke="#e8e8e8" stroke-width="1.5"/>
<text x="449.7" y="287.1" font-size="7" fill="none" stroke="#888" stroke-width="0.4" text-anchor="middle">U8</text>
<rect x="425.9" y="270.1" width="1.9" height="5.8" fill="#d2d2d2"/>
<rect x="425.9" y="276.9" width="1.9" height="4.5" fill="#d2d2d2"/>
<rect x="431.2" y="271.1" width="6.4" height="2.5" fill="#d2d2d2"/>
<rect x="439.5" y="268.2" width="1.9" height="3.5" fill="#d2d2d2"/>
<rect x="440.9" y="272.5" width="6.4" height="3.9" fill="#d2d2d2"/>
<rect x="449.3" y="272.5" width="9.2" height="3.9" fill="#d2d2d2"/>
<rect x="440.9" y="293.1" width="6.4" height="3.3" fill="#d2d2d2"/>
<rect x="449.3" y="293.1" width="9.2" height="3.3" fill="#d2d2d2"/>
<rect x="393.8" y="297.0" width="3.9" height="4.3" fill="#d2d2d2"/>
<rect x="398.6" y="295.1" width="3.9" height="6.2" fill="#d2d2d2"/>
<rect x="404.5" y="295.5" width="2.9" height="5.8" fill="#d2d2d2"/>
<rect x="430.8" y="294.5" width="6.8" height="3.9" fill="#d2d2d2"/>
<rect x="431.2" y="275.0" width="6.4" height="6.8" fill="none" stroke="#e8e8e8" stroke-width="1.3"/>
<rect x="409.0" y="294.5" width="2.8" height="3.9" fill="#d2d2d2"/>
<rect x="412.3" y="294.5" width="2.8" height="3.9" fill="#d2d2d2"/>
<rect x="415.6" y="294.5" width="2.8" height="3.9" fill="#d2d2d2"/>
<rect x="418.9" y="294.5" width="2.8" height="3.9" fill="#d2d2d2"/>
<rect x="422.2" y="294.5" width="2.8" height="3.9" fill="#d2d2d2"/>
<rect x="425.5" y="294.5" width="2.8" height="3.9" fill="#d2d2d2"/>
<rect x="496.0" y="207.4" width="3.9" height="2.3" fill="#d2d2d2"/>
<rect x="534.0" y="202.9" width="2.3" height="7.8" fill="#d2d2d2"/>
<rect x="534.0" y="279.9" width="2.3" height="4.9" fill="#d2d2d2"/>
<rect x="534.0" y="295.5" width="2.3" height="5.8" fill="#d2d2d2"/>
<rect x="553.1" y="201.9" width="2.3" height="7.8" fill="#d2d2d2"/>
<rect x="553.1" y="282.8" width="2.3" height="3.9" fill="#d2d2d2"/>
<rect x="553.1" y="295.5" width="2.3" height="5.8" fill="#d2d2d2"/>
<rect x="571.4" y="200.0" width="2.5" height="5.8" fill="#d2d2d2"/>
<rect x="571.4" y="208.8" width="2.5" height="5.8" fill="#d2d2d2"/>
<rect x="576.9" y="206.8" width="2.3" height="4.9" fill="#d2d2d2"/>
<rect x="581.2" y="203.9" width="4.5" height="3.9" fill="#d2d2d2"/>
<rect x="585.7" y="207.8" width="1.9" height="3.9" fill="#d2d2d2"/>
<rect x="576.5" y="233.1" width="4.3" height="4.9" fill="#d2d2d2"/>
<rect x="581.8" y="233.1" width="2.9" height="5.8" fill="#d2d2d2"/>
<rect x="576.5" y="239.9" width="4.3" height="4.9" fill="#d2d2d2"/>
<rect x="581.8" y="240.9" width="5.8" height="2.9" fill="#d2d2d2"/>
<rect x="588.2" y="248.3" width="2.3" height="7.2" fill="#d2d2d2"/>
<rect x="595.4" y="254.2" width="2.5" height="3.9" fill="#d2d2d2"/>
<rect x="579.8" y="258.8" width="7.8" height="4.5" fill="#d2d2d2"/>
<rect x="588.6" y="259.4" width="6.8" height="2.5" fill="#d2d2d2"/>
<rect x="587.6" y="262.7" width="10.7" height="3.5" fill="#d2d2d2"/>
<rect x="580.8" y="271.7" width="4.9" height="3.9" fill="#d2d2d2"/>
<rect x="588.2" y="274.0" width="3.3" height="6.8" fill="#d2d2d2"/>
<rect x="571.4" y="292.5" width="3.1" height="5.8" fill="#d2d2d2"/>
<rect x="587.6" y="291.6" width="2.5" height="9.7" fill="#d2d2d2"/>
<rect x="460.0" y="275.6" width="6.8" height="3.3" fill="#d2d2d2"/>
<rect x="476.6" y="286.7" width="1.4" height="6.8" fill="#d2d2d2"/>
<rect x="481.8" y="295.1" width="2.5" height="6.2" fill="#d2d2d2"/>
<rect x="492.1" y="291.6" width="3.9" height="3.5" fill="#d2d2d2"/>
<rect x="492.1" y="295.5" width="7.8" height="5.8" fill="#d2d2d2"/>
<rect x="574.9" y="218.5" width="9.7" height="12.7" fill="none" stroke="#e8e8e8" stroke-width="1.5"/>
<circle cx="579.8" cy="224.8" r="0.6" fill="#888"/>
<rect x="585.7" y="216.6" width="2.5" height="1.8" fill="#d2d2d2"/>
<rect x="585.7" y="219.0" width="2.5" height="1.8" fill="#d2d2d2"/>
<rect x="585.7" y="221.4" width="2.5" height="1.8" fill="#d2d2d2"/>
<rect x="585.7" y="223.9" width="2.5" height="1.8" fill="#d2d2d2"/>
<rect x="585.7" y="226.3" width="2.5" height="1.8" fill="#d2d2d2"/>
<rect x="585.7" y="228.7" width="2.5" height="1.8" fill="#d2d2d2"/>
<rect x="585.7" y="231.2" width="2.5" height="1.8" fill="#d2d2d2"/>
<rect x="585.7" y="233.6" width="2.5" height="1.8" fill="#d2d2d2"/>
<rect x="579.8" y="264.3" width="5.8" height="6.8" fill="none" stroke="#e8e8e8" stroke-width="1.3"/>
<rect x="593.1" y="268.2" width="4.3" height="11.7" fill="none" stroke="#e8e8e8" stroke-width="1.2"/>
<rect x="589.5" y="281.8" width="6.8" height="5.8" fill="none" stroke="#e8e8e8" stroke-width="1.3"/>
<rect x="571.4" y="279.5" width="3.1" height="2.1" fill="#d2d2d2"/>
<rect x="571.4" y="282.3" width="3.1" height="2.1" fill="#d2d2d2"/>
<rect x="571.4" y="285.0" width="3.1" height="2.1" fill="#d2d2d2"/>
<rect x="571.4" y="287.8" width="3.1" height="2.1" fill="#d2d2d2"/>
<rect x="602.2" y="255.5" width="6.8" height="38.6" fill="none" stroke="#e8e8e8" stroke-width="1.3"/>
<circle cx="604.5" cy="259.4" r="0.5" fill="#666"/>
<circle cx="604.5" cy="263.3" r="0.5" fill="#666"/>
<circle cx="604.5" cy="267.2" r="0.5" fill="#666"/>
<circle cx="604.5" cy="271.1" r="0.5" fill="#666"/>
<circle cx="604.5" cy="275.0" r="0.5" fill="#666"/>
<circle cx="604.5" cy="278.9" r="0.5" fill="#666"/>
<circle cx="604.5" cy="282.8" r="0.5" fill="#666"/>
<circle cx="604.5" cy="286.7" r="0.5" fill="#666"/>
<circle cx="604.5" cy="290.6" r="0.5" fill="#666"/>
<circle cx="606.7" cy="259.4" r="0.5" fill="#666"/>
<circle cx="606.7" cy="263.3" r="0.5" fill="#666"/>
<circle cx="606.7" cy="267.2" r="0.5" fill="#666"/>
<circle cx="606.7" cy="271.1" r="0.5" fill="#666"/>
<circle cx="606.7" cy="275.0" r="0.5" fill="#666"/>
<circle cx="606.7" cy="278.9" r="0.5" fill="#666"/>
<circle cx="606.7" cy="282.8" r="0.5" fill="#666"/>
<circle cx="606.7" cy="286.7" r="0.5" fill="#666"/>
<circle cx="606.7" cy="290.6" r="0.5" fill="#666"/>
<rect x="462.9" y="280.3" width="5.3" height="6.4" fill="none" stroke="#e8e8e8" stroke-width="1.3"/>
<rect x="462.9" y="288.6" width="5.3" height="6.2" fill="none" stroke="#e8e8e8" stroke-width="1.3"/>
<rect x="462.9" y="296.4" width="5.3" height="6.2" fill="none" stroke="#e8e8e8" stroke-width="1.3"/>
<rect x="469.7" y="280.3" width="5.8" height="6.4" fill="none" stroke="#e8e8e8" stroke-width="1.3"/>
<rect x="469.7" y="288.6" width="5.8" height="6.2" fill="none" stroke="#e8e8e8" stroke-width="1.3"/>
<rect x="469.7" y="296.4" width="5.8" height="6.2" fill="none" stroke="#e8e8e8" stroke-width="1.3"/>
<rect x="484.9" y="291.6" width="6.2" height="6.8" fill="none" stroke="#e8e8e8" stroke-width="1.3"/>
<rect x="177.5" y="312.1" width="16.6" height="3.9" fill="#d2d2d2"/>
<rect x="195.1" y="313.2" width="3.0" height="3.9" fill="#d2d2d2"/>
<rect x="198.6" y="313.2" width="3.0" height="3.9" fill="#d2d2d2"/>
<rect x="202.2" y="313.2" width="3.0" height="3.9" fill="#d2d2d2"/>
<rect x="182.0" y="321.0" width="12.5" height="12.5" fill="none" stroke="#e8e8e8" stroke-width="1.3" transform="rotate(45 188.2 327.3)"/>
<circle cx="185.3" cy="324.9" r="0.5" fill="#666"/>
<circle cx="185.3" cy="327.3" r="0.5" fill="#666"/>
<circle cx="185.3" cy="329.6" r="0.5" fill="#666"/>
<circle cx="188.2" cy="324.9" r="0.5" fill="#666"/>
<circle cx="188.2" cy="327.3" r="0.5" fill="#666"/>
<circle cx="188.2" cy="329.6" r="0.5" fill="#666"/>
<circle cx="191.2" cy="324.9" r="0.5" fill="#666"/>
<circle cx="191.2" cy="327.3" r="0.5" fill="#666"/>
<circle cx="191.2" cy="329.6" r="0.5" fill="#666"/>
<rect x="177.9" y="342.9" width="3.9" height="2.5" fill="#d2d2d2"/>
<rect x="204.8" y="339.0" width="2.9" height="4.3" fill="#d2d2d2"/>
<rect x="204.8" y="345.8" width="2.9" height="3.9" fill="#d2d2d2"/>
<rect x="225.3" y="321.0" width="2.5" height="4.3" fill="#d2d2d2"/>
<rect x="218.1" y="326.3" width="9.2" height="3.3" fill="#d2d2d2"/>
<rect x="220.4" y="345.2" width="4.9" height="3.9" fill="#d2d2d2"/>
<rect x="220.4" y="350.3" width="2.3" height="3.3" fill="#d2d2d2"/>
<rect x="228.2" y="345.8" width="2.3" height="3.9" fill="#d2d2d2"/>
<rect x="228.2" y="350.6" width="2.3" height="3.9" fill="#d2d2d2"/>
<rect x="218.1" y="358.1" width="6.2" height="2.3" fill="#d2d2d2"/>
<rect x="205.2" y="354.9" width="2.5" height="5.5" fill="#d2d2d2"/>
<rect x="179.5" y="361.4" width="5.8" height="1.9" fill="#d2d2d2"/>
<rect x="179.1" y="369.2" width="2.3" height="5.8" fill="#d2d2d2"/>
<rect x="204.4" y="371.1" width="3.3" height="4.9" fill="#d2d2d2"/>
<rect x="209.7" y="374.0" width="3.9" height="4.9" fill="#d2d2d2"/>
<rect x="204.4" y="377.5" width="3.3" height="2.3" fill="#d2d2d2"/>
<rect x="210.6" y="366.2" width="9.4" height="2.3" fill="#d2d2d2"/>
<rect x="181.0" y="397.4" width="2.3" height="3.9" fill="#d2d2d2"/>
<rect x="194.7" y="397.4" width="2.3" height="3.9" fill="#d2d2d2"/>
<rect x="207.7" y="398.4" width="1.9" height="2.9" fill="#d2d2d2"/>
<rect x="257.4" y="305.5" width="2.3" height="3.9" fill="#d2d2d2"/>
<rect x="287.0" y="301.0" width="2.5" height="7.2" fill="#d2d2d2"/>
<rect x="300.3" y="300.0" width="9.7" height="1.6" fill="#d2d2d2"/>
<rect x="303.2" y="302.9" width="6.8" height="3.9" fill="#d2d2d2"/>
<rect x="256.4" y="328.2" width="3.3" height="5.8" fill="#d2d2d2"/>
<rect x="279.8" y="339.9" width="2.9" height="4.5" fill="#d2d2d2"/>
<rect x="251.2" y="334.7" width="2.3" height="7.2" fill="#d2d2d2"/>
<rect x="260.3" y="381.8" width="2.3" height="9.7" fill="#d2d2d2"/>
<rect x="276.5" y="382.8" width="2.7" height="8.8" fill="#d2d2d2"/>
<rect x="285.7" y="383.8" width="9.7" height="2.9" fill="#d2d2d2"/>
<rect x="284.7" y="391.2" width="2.9" height="3.3" fill="#d2d2d2"/>
<rect x="285.7" y="395.1" width="6.8" height="2.3" fill="#d2d2d2"/>
<rect x="255.5" y="394.5" width="2.9" height="2.9" fill="#d2d2d2"/>
<rect x="264.2" y="395.1" width="3.3" height="2.3" fill="#d2d2d2"/>
<rect x="277.9" y="394.5" width="2.5" height="2.9" fill="#d2d2d2"/>
<rect x="212.6" y="338.0" width="2.9" height="2.4" fill="#d2d2d2"/>
<rect x="212.6" y="341.2" width="2.9" height="2.4" fill="#d2d2d2"/>
<rect x="212.6" y="344.3" width="2.9" height="2.4" fill="#d2d2d2"/>
<rect x="212.6" y="347.5" width="2.9" height="2.4" fill="#d2d2d2"/>
<rect x="220.4" y="331.2" width="9.7" height="12.1" fill="none" stroke="#e8e8e8" stroke-width="1.4"/>
<rect x="232.5" y="332.1" width="11.7" height="15.0" fill="none" stroke="#e8e8e8" stroke-width="1.4"/>
<rect x="181.0" y="354.5" width="2.3" height="4.9" fill="#d2d2d2"/>
<rect x="183.8" y="354.5" width="2.3" height="4.9" fill="#d2d2d2"/>
<rect x="186.5" y="354.5" width="2.3" height="4.9" fill="#d2d2d2"/>
<rect x="190.2" y="356.1" width="2.9" height="3.9" fill="#d2d2d2"/>
<rect x="193.6" y="356.1" width="2.9" height="3.9" fill="#d2d2d2"/>
<rect x="197.0" y="356.1" width="2.9" height="3.9" fill="#d2d2d2"/>
<rect x="200.4" y="356.1" width="2.9" height="3.9" fill="#d2d2d2"/>
<rect x="188.2" y="362.3" width="14.2" height="14.0" fill="none" stroke="#e8e8e8" stroke-width="1.8"/>
<circle cx="195.4" cy="369.4" r="0.6" fill="#888"/>
<rect x="182.4" y="364.3" width="3.9" height="2.4" fill="#d2d2d2"/>
<rect x="182.4" y="367.5" width="3.9" height="2.4" fill="#d2d2d2"/>
<rect x="182.4" y="370.6" width="3.9" height="2.4" fill="#d2d2d2"/>
<rect x="182.4" y="373.8" width="3.9" height="2.4" fill="#d2d2d2"/>
<rect x="185.3" y="379.9" width="2.8" height="3.5" fill="#d2d2d2"/>
<rect x="188.5" y="379.9" width="2.8" height="3.5" fill="#d2d2d2"/>
<rect x="191.7" y="379.9" width="2.8" height="3.5" fill="#d2d2d2"/>
<rect x="194.8" y="379.9" width="2.8" height="3.5" fill="#d2d2d2"/>
<rect x="199.0" y="379.9" width="2.6" height="3.5" fill="#d2d2d2"/>
<rect x="201.9" y="379.9" width="2.6" height="3.5" fill="#d2d2d2"/>
<rect x="204.8" y="379.9" width="2.6" height="3.5" fill="#d2d2d2"/>
<rect x="207.7" y="379.9" width="2.6" height="3.5" fill="#d2d2d2"/>
<rect x="210.6" y="379.9" width="2.6" height="3.5" fill="#d2d2d2"/>
<rect x="261.3" y="301.6" width="16.6" height="9.7" fill="none" stroke="#e8e8e8" stroke-width="1.4"/>
<rect x="263.2" y="329.2" width="17.9" height="5.8" fill="none" stroke="#e8e8e8" stroke-width="1.4"/>
<rect x="286.2" y="330.2" width="15.0" height="11.7" fill="none" stroke="#e8e8e8" stroke-width="1.4"/>
<rect x="263.2" y="339.9" width="2.5" height="4.5" fill="#d2d2d2"/>
<rect x="266.1" y="339.9" width="2.5" height="4.5" fill="#d2d2d2"/>
<rect x="268.9" y="339.9" width="2.5" height="4.5" fill="#d2d2d2"/>
<rect x="271.7" y="339.9" width="2.5" height="4.5" fill="#d2d2d2"/>
<rect x="274.5" y="339.9" width="2.5" height="4.5" fill="#d2d2d2"/>
<rect x="250.6" y="373.1" width="16.2" height="4.5" fill="none" stroke="#e8e8e8" stroke-width="1.3"/>
<rect x="265.2" y="373.6" width="2.9" height="3.9" fill="#d2d2d2"/>
<rect x="272.6" y="373.6" width="2.3" height="3.9" fill="#d2d2d2"/>
<rect x="279.8" y="373.6" width="2.5" height="3.9" fill="#d2d2d2"/>
<rect x="286.6" y="373.6" width="4.3" height="3.9" fill="#d2d2d2"/>
<rect x="287.0" y="387.3" width="6.4" height="6.2" fill="none" stroke="#e8e8e8" stroke-width="1.3"/>
<rect x="259.0" y="356.9" width="171.4" height="15.6" fill="none" stroke="#e8e8e8" stroke-width="1.7"/>
<rect x="258.4" y="398.4" width="44.2" height="14.8" fill="none" stroke="#e8e8e8" stroke-width="1.5"/>
<rect x="258.4" y="439.4" width="44.2" height="14.2" fill="none" stroke="#e8e8e8" stroke-width="1.5"/>
<rect x="258.4" y="479.5" width="172.0" height="14.6" fill="none" stroke="#e8e8e8" stroke-width="1.6"/>
<rect x="246.7" y="519.4" width="160.7" height="16.5" fill="none" stroke="#e8e8e8" stroke-width="1.6"/>
<rect x="246.7" y="560.8" width="160.7" height="16.4" fill="none" stroke="#e8e8e8" stroke-width="1.6"/>
<rect x="262.2" y="361.2" width="1.6" height="1.6" fill="#555"/>
<rect x="262.2" y="366.7" width="1.6" height="1.6" fill="#555"/>
<rect x="266.2" y="361.2" width="1.6" height="1.6" fill="#555"/>
<rect x="266.2" y="366.7" width="1.6" height="1.6" fill="#555"/>
<rect x="270.3" y="361.2" width="1.6" height="1.6" fill="#555"/>
<rect x="270.3" y="366.7" width="1.6" height="1.6" fill="#555"/>
<rect x="274.4" y="361.2" width="1.6" height="1.6" fill="#555"/>
<rect x="274.4" y="366.7" width="1.6" height="1.6" fill="#555"/>
<rect x="278.4" y="361.2" width="1.6" height="1.6" fill="#555"/>
<rect x="278.4" y="366.7" width="1.6" height="1.6" fill="#555"/>
<rect x="282.5" y="361.2" width="1.6" height="1.6" fill="#555"/>
<rect x="282.5" y="366.7" width="1.6" height="1.6" fill="#555"/>
<rect x="286.5" y="361.2" width="1.6" height="1.6" fill="#555"/>
<rect x="286.5" y="366.7" width="1.6" height="1.6" fill="#555"/>
<rect x="290.6" y="361.2" width="1.6" height="1.6" fill="#555"/>
<rect x="290.6" y="366.7" width="1.6" height="1.6" fill="#555"/>
<rect x="294.6" y="361.2" width="1.6" height="1.6" fill="#555"/>
<rect x="294.6" y="366.7" width="1.6" height="1.6" fill="#555"/>
<rect x="298.7" y="361.2" width="1.6" height="1.6" fill="#555"/>
<rect x="298.7" y="366.7" width="1.6" height="1.6" fill="#555"/>
<rect x="302.7" y="361.2" width="1.6" height="1.6" fill="#555"/>
<rect x="302.7" y="366.7" width="1.6" height="1.6" fill="#555"/>
<rect x="306.8" y="361.2" width="1.6" height="1.6" fill="#555"/>
<rect x="306.8" y="366.7" width="1.6" height="1.6" fill="#555"/>
<rect x="310.8" y="361.2" width="1.6" height="1.6" fill="#555"/>
<rect x="310.8" y="366.7" width="1.6" height="1.6" fill="#555"/>
<rect x="314.9" y="361.2" width="1.6" height="1.6" fill="#555"/>
<rect x="314.9" y="366.7" width="1.6" height="1.6" fill="#555"/>
<rect x="318.9" y="361.2" width="1.6" height="1.6" fill="#555"/>
<rect x="318.9" y="366.7" width="1.6" height="1.6" fill="#555"/>
<rect x="367.5" y="361.2" width="1.6" height="1.6" fill="#555"/>
<rect x="367.5" y="366.7" width="1.6" height="1.6" fill="#555"/>
<rect x="371.6" y="361.2" width="1.6" height="1.6" fill="#555"/>
<rect x="371.6" y="366.7" width="1.6" height="1.6" fill="#555"/>
<rect x="375.6" y="361.2" width="1.6" height="1.6" fill="#555"/>
<rect x="375.6" y="366.7" width="1.6" height="1.6" fill="#555"/>
<rect x="379.7" y="361.2" width="1.6" height="1.6" fill="#555"/>
<rect x="379.7" y="366.7" width="1.6" height="1.6" fill="#555"/>
<rect x="383.7" y="361.2" width="1.6" height="1.6" fill="#555"/>
<rect x="383.7" y="366.7" width="1.6" height="1.6" fill="#555"/>
<rect x="387.8" y="361.2" width="1.6" height="1.6" fill="#555"/>
<rect x="387.8" y="366.7" width="1.6" height="1.6" fill="#555"/>
<rect x="391.8" y="361.2" width="1.6" height="1.6" fill="#555"/>
<rect x="391.8" y="366.7" width="1.6" height="1.6" fill="#555"/>
<rect x="395.9" y="361.2" width="1.6" height="1.6" fill="#555"/>
<rect x="395.9" y="366.7" width="1.6" height="1.6" fill="#555"/>
<rect x="399.9" y="361.2" width="1.6" height="1.6" fill="#555"/>
<rect x="399.9" y="366.7" width="1.6" height="1.6" fill="#555"/>
<rect x="404.0" y="361.2" width="1.6" height="1.6" fill="#555"/>
<rect x="404.0" y="366.7" width="1.6" height="1.6" fill="#555"/>
<rect x="408.0" y="361.2" width="1.6" height="1.6" fill="#555"/>
<rect x="408.0" y="366.7" width="1.6" height="1.6" fill="#555"/>
<rect x="412.1" y="361.2" width="1.6" height="1.6" fill="#555"/>
<rect x="412.1" y="366.7" width="1.6" height="1.6" fill="#555"/>
<rect x="416.1" y="361.2" width="1.6" height="1.6" fill="#555"/>
<rect x="416.1" y="366.7" width="1.6" height="1.6" fill="#555"/>
<rect x="420.2" y="361.2" width="1.6" height="1.6" fill="#555"/>
<rect x="420.2" y="366.7" width="1.6" height="1.6" fill="#555"/>
<rect x="424.2" y="361.2" width="1.6" height="1.6" fill="#555"/>
<rect x="424.2" y="366.7" width="1.6" height="1.6" fill="#555"/>
<rect x="261.2" y="402.7" width="1.6" height="1.6" fill="#555"/>
<rect x="261.2" y="408.2" width="1.6" height="1.6" fill="#555"/>
<rect x="265.2" y="402.7" width="1.6" height="1.6" fill="#555"/>
<rect x="265.2" y="408.2" width="1.6" height="1.6" fill="#555"/>
<rect x="269.3" y="402.7" width="1.6" height="1.6" fill="#555"/>
<rect x="269.3" y="408.2" width="1.6" height="1.6" fill="#555"/>
<rect x="273.4" y="402.7" width="1.6" height="1.6" fill="#555"/>
<rect x="273.4" y="408.2" width="1.6" height="1.6" fill="#555"/>
<rect x="277.4" y="402.7" width="1.6" height="1.6" fill="#555"/>
<rect x="277.4" y="408.2" width="1.6" height="1.6" fill="#555"/>
<rect x="281.5" y="402.7" width="1.6" height="1.6" fill="#555"/>
<rect x="281.5" y="408.2" width="1.6" height="1.6" fill="#555"/>
<rect x="285.5" y="402.7" width="1.6" height="1.6" fill="#555"/>
<rect x="285.5" y="408.2" width="1.6" height="1.6" fill="#555"/>
<rect x="289.6" y="402.7" width="1.6" height="1.6" fill="#555"/>
<rect x="289.6" y="408.2" width="1.6" height="1.6" fill="#555"/>
<rect x="293.6" y="402.7" width="1.6" height="1.6" fill="#555"/>
<rect x="293.6" y="408.2" width="1.6" height="1.6" fill="#555"/>
<rect x="297.7" y="402.7" width="1.6" height="1.6" fill="#555"/>
<rect x="297.7" y="408.2" width="1.6" height="1.6" fill="#555"/>
<rect x="261.2" y="443.2" width="1.6" height="1.6" fill="#555"/>
<rect x="261.2" y="448.7" width="1.6" height="1.6" fill="#555"/>
<rect x="265.2" y="443.2" width="1.6" height="1.6" fill="#555"/>
<rect x="265.2" y="448.7" width="1.6" height="1.6" fill="#555"/>
<rect x="269.3" y="443.2" width="1.6" height="1.6" fill="#555"/>
<rect x="269.3" y="448.7" width="1.6" height="1.6" fill="#555"/>
<rect x="273.4" y="443.2" width="1.6" height="1.6" fill="#555"/>
<rect x="273.4" y="448.7" width="1.6" height="1.6" fill="#555"/>
<rect x="277.4" y="443.2" width="1.6" height="1.6" fill="#555"/>
<rect x="277.4" y="448.7" width="1.6" height="1.6" fill="#555"/>
<rect x="281.5" y="443.2" width="1.6" height="1.6" fill="#555"/>
<rect x="281.5" y="448.7" width="1.6" height="1.6" fill="#555"/>
<rect x="285.5" y="443.2" width="1.6" height="1.6" fill="#555"/>
<rect x="285.5" y="448.7" width="1.6" height="1.6" fill="#555"/>
<rect x="289.6" y="443.2" width="1.6" height="1.6" fill="#555"/>
<rect x="289.6" y="448.7" width="1.6" height="1.6" fill="#555"/>
<rect x="293.6" y="443.2" width="1.6" height="1.6" fill="#555"/>
<rect x="293.6" y="448.7" width="1.6" height="1.6" fill="#555"/>
<rect x="297.7" y="443.2" width="1.6" height="1.6" fill="#555"/>
<rect x="297.7" y="448.7" width="1.6" height="1.6" fill="#555"/>
<rect x="261.2" y="483.7" width="1.6" height="1.6" fill="#777"/>
<rect x="261.2" y="489.2" width="1.6" height="1.6" fill="#777"/>
<rect x="265.2" y="483.7" width="1.6" height="1.6" fill="#777"/>
<rect x="265.2" y="489.2" width="1.6" height="1.6" fill="#777"/>
<rect x="269.3" y="483.7" width="1.6" height="1.6" fill="#777"/>
<rect x="269.3" y="489.2" width="1.6" height="1.6" fill="#777"/>
<rect x="273.4" y="483.7" width="1.6" height="1.6" fill="#777"/>
<rect x="273.4" y="489.2" width="1.6" height="1.6" fill="#777"/>
<rect x="277.4" y="483.7" width="1.6" height="1.6" fill="#777"/>
<rect x="277.4" y="489.2" width="1.6" height="1.6" fill="#777"/>
<rect x="281.5" y="483.7" width="1.6" height="1.6" fill="#777"/>
<rect x="281.5" y="489.2" width="1.6" height="1.6" fill="#777"/>
<rect x="285.5" y="483.7" width="1.6" height="1.6" fill="#777"/>
<rect x="285.5" y="489.2" width="1.6" height="1.6" fill="#777"/>
<rect x="289.6" y="483.7" width="1.6" height="1.6" fill="#777"/>
<rect x="289.6" y="489.2" width="1.6" height="1.6" fill="#777"/>
<rect x="293.6" y="483.7" width="1.6" height="1.6" fill="#777"/>
<rect x="293.6" y="489.2" width="1.6" height="1.6" fill="#777"/>
<rect x="297.7" y="483.7" width="1.6" height="1.6" fill="#777"/>
<rect x="297.7" y="489.2" width="1.6" height="1.6" fill="#777"/>
<rect x="301.7" y="483.7" width="1.6" height="1.6" fill="#777"/>
<rect x="301.7" y="489.2" width="1.6" height="1.6" fill="#777"/>
<rect x="305.8" y="483.7" width="1.6" height="1.6" fill="#777"/>
<rect x="305.8" y="489.2" width="1.6" height="1.6" fill="#777"/>
<rect x="309.8" y="483.7" width="1.6" height="1.6" fill="#777"/>
<rect x="309.8" y="489.2" width="1.6" height="1.6" fill="#777"/>
<rect x="313.9" y="483.7" width="1.6" height="1.6" fill="#777"/>
<rect x="313.9" y="489.2" width="1.6" height="1.6" fill="#777"/>
<rect x="317.9" y="483.7" width="1.6" height="1.6" fill="#777"/>
<rect x="317.9" y="489.2" width="1.6" height="1.6" fill="#777"/>
<rect x="322.0" y="483.7" width="1.6" height="1.6" fill="#777"/>
<rect x="322.0" y="489.2" width="1.6" height="1.6" fill="#777"/>
<rect x="250.2" y="524.2" width="1.6" height="1.6" fill="#555"/>
<rect x="250.2" y="530.2" width="1.6" height="1.6" fill="#555"/>
<rect x="254.2" y="524.2" width="1.6" height="1.6" fill="#555"/>
<rect x="254.2" y="530.2" width="1.6" height="1.6" fill="#555"/>
<rect x="258.3" y="524.2" width="1.6" height="1.6" fill="#555"/>
<rect x="258.3" y="530.2" width="1.6" height="1.6" fill="#555"/>
<rect x="262.4" y="524.2" width="1.6" height="1.6" fill="#555"/>
<rect x="262.4" y="530.2" width="1.6" height="1.6" fill="#555"/>
<rect x="266.4" y="524.2" width="1.6" height="1.6" fill="#555"/>
<rect x="266.4" y="530.2" width="1.6" height="1.6" fill="#555"/>
<rect x="270.5" y="524.2" width="1.6" height="1.6" fill="#555"/>
<rect x="270.5" y="530.2" width="1.6" height="1.6" fill="#555"/>
<rect x="274.5" y="524.2" width="1.6" height="1.6" fill="#555"/>
<rect x="274.5" y="530.2" width="1.6" height="1.6" fill="#555"/>
<rect x="278.6" y="524.2" width="1.6" height="1.6" fill="#555"/>
<rect x="278.6" y="530.2" width="1.6" height="1.6" fill="#555"/>
<rect x="282.6" y="524.2" width="1.6" height="1.6" fill="#555"/>
<rect x="282.6" y="530.2" width="1.6" height="1.6" fill="#555"/>
<rect x="286.7" y="524.2" width="1.6" height="1.6" fill="#555"/>
<rect x="286.7" y="530.2" width="1.6" height="1.6" fill="#555"/>
<rect x="290.7" y="524.2" width="1.6" height="1.6" fill="#555"/>
<rect x="290.7" y="530.2" width="1.6" height="1.6" fill="#555"/>
<rect x="294.8" y="524.2" width="1.6" height="1.6" fill="#555"/>
<rect x="294.8" y="530.2" width="1.6" height="1.6" fill="#555"/>
<rect x="298.8" y="524.2" width="1.6" height="1.6" fill="#555"/>
<rect x="298.8" y="530.2" width="1.6" height="1.6" fill="#555"/>
<rect x="302.9" y="524.2" width="1.6" height="1.6" fill="#555"/>
<rect x="302.9" y="530.2" width="1.6" height="1.6" fill="#555"/>
<rect x="306.9" y="524.2" width="1.6" height="1.6" fill="#555"/>
<rect x="306.9" y="530.2" width="1.6" height="1.6" fill="#555"/>
<rect x="311.0" y="524.2" width="1.6" height="1.6" fill="#555"/>
<rect x="311.0" y="530.2" width="1.6" height="1.6" fill="#555"/>
<rect x="339.3" y="524.2" width="1.6" height="1.6" fill="#555"/>
<rect x="339.3" y="530.2" width="1.6" height="1.6" fill="#555"/>
<rect x="343.4" y="524.2" width="1.6" height="1.6" fill="#555"/>
<rect x="343.4" y="530.2" width="1.6" height="1.6" fill="#555"/>
<rect x="347.4" y="524.2" width="1.6" height="1.6" fill="#555"/>
<rect x="347.4" y="530.2" width="1.6" height="1.6" fill="#555"/>
<rect x="351.5" y="524.2" width="1.6" height="1.6" fill="#555"/>
<rect x="351.5" y="530.2" width="1.6" height="1.6" fill="#555"/>
<rect x="355.5" y="524.2" width="1.6" height="1.6" fill="#555"/>
<rect x="355.5" y="530.2" width="1.6" height="1.6" fill="#555"/>
<rect x="359.6" y="524.2" width="1.6" height="1.6" fill="#555"/>
<rect x="359.6" y="530.2" width="1.6" height="1.6" fill="#555"/>
<rect x="363.6" y="524.2" width="1.6" height="1.6" fill="#555"/>
<rect x="363.6" y="530.2" width="1.6" height="1.6" fill="#555"/>
<rect x="367.7" y="524.2" width="1.6" height="1.6" fill="#555"/>
<rect x="367.7" y="530.2" width="1.6" height="1.6" fill="#555"/>
<rect x="371.7" y="524.2" width="1.6" height="1.6" fill="#555"/>
<rect x="371.7" y="530.2" width="1.6" height="1.6" fill="#555"/>
<rect x="375.8" y="524.2" width="1.6" height="1.6" fill="#555"/>
<rect x="375.8" y="530.2" width="1.6" height="1.6" fill="#555"/>
<rect x="379.8" y="524.2" width="1.6" height="1.6" fill="#555"/>
<rect x="379.8" y="530.2" width="1.6" height="1.6" fill="#555"/>
<rect x="383.9" y="524.2" width="1.6" height="1.6" fill="#555"/>
<rect x="383.9" y="530.2" width="1.6" height="1.6" fill="#555"/>
<rect x="387.9" y="524.2" width="1.6" height="1.6" fill="#555"/>
<rect x="387.9" y="530.2" width="1.6" height="1.6" fill="#555"/>
<rect x="392.0" y="524.2" width="1.6" height="1.6" fill="#555"/>
<rect x="392.0" y="530.2" width="1.6" height="1.6" fill="#555"/>
<rect x="396.0" y="524.2" width="1.6" height="1.6" fill="#555"/>
<rect x="396.0" y="530.2" width="1.6" height="1.6" fill="#555"/>
<rect x="400.1" y="524.2" width="1.6" height="1.6" fill="#555"/>
<rect x="400.1" y="530.2" width="1.6" height="1.6" fill="#555"/>
<rect x="250.2" y="565.2" width="1.6" height="1.6" fill="#555"/>
<rect x="250.2" y="571.2" width="1.6" height="1.6" fill="#555"/>
<rect x="254.2" y="565.2" width="1.6" height="1.6" fill="#555"/>
<rect x="254.2" y="571.2" width="1.6" height="1.6" fill="#555"/>
<rect x="258.3" y="565.2" width="1.6" height="1.6" fill="#555"/>
<rect x="258.3" y="571.2" width="1.6" height="1.6" fill="#555"/>
<rect x="262.4" y="565.2" width="1.6" height="1.6" fill="#555"/>
<rect x="262.4" y="571.2" width="1.6" height="1.6" fill="#555"/>
<rect x="266.4" y="565.2" width="1.6" height="1.6" fill="#555"/>
<rect x="266.4" y="571.2" width="1.6" height="1.6" fill="#555"/>
<rect x="270.5" y="565.2" width="1.6" height="1.6" fill="#555"/>
<rect x="270.5" y="571.2" width="1.6" height="1.6" fill="#555"/>
<rect x="274.5" y="565.2" width="1.6" height="1.6" fill="#555"/>
<rect x="274.5" y="571.2" width="1.6" height="1.6" fill="#555"/>
<rect x="278.6" y="565.2" width="1.6" height="1.6" fill="#555"/>
<rect x="278.6" y="571.2" width="1.6" height="1.6" fill="#555"/>
<rect x="282.6" y="565.2" width="1.6" height="1.6" fill="#555"/>
<rect x="282.6" y="571.2" width="1.6" height="1.6" fill="#555"/>
<rect x="286.7" y="565.2" width="1.6" height="1.6" fill="#555"/>
<rect x="286.7" y="571.2" width="1.6" height="1.6" fill="#555"/>
<rect x="290.7" y="565.2" width="1.6" height="1.6" fill="#555"/>
<rect x="290.7" y="571.2" width="1.6" height="1.6" fill="#555"/>
<rect x="294.8" y="565.2" width="1.6" height="1.6" fill="#555"/>
<rect x="294.8" y="571.2" width="1.6" height="1.6" fill="#555"/>
<rect x="298.8" y="565.2" width="1.6" height="1.6" fill="#555"/>
<rect x="298.8" y="571.2" width="1.6" height="1.6" fill="#555"/>
<rect x="302.9" y="565.2" width="1.6" height="1.6" fill="#555"/>
<rect x="302.9" y="571.2" width="1.6" height="1.6" fill="#555"/>
<rect x="306.9" y="565.2" width="1.6" height="1.6" fill="#555"/>
<rect x="306.9" y="571.2" width="1.6" height="1.6" fill="#555"/>
<rect x="311.0" y="565.2" width="1.6" height="1.6" fill="#555"/>
<rect x="311.0" y="571.2" width="1.6" height="1.6" fill="#555"/>
<rect x="339.3" y="565.2" width="1.6" height="1.6" fill="#555"/>
<rect x="339.3" y="571.2" width="1.6" height="1.6" fill="#555"/>
<rect x="343.4" y="565.2" width="1.6" height="1.6" fill="#555"/>
<rect x="343.4" y="571.2" width="1.6" height="1.6" fill="#555"/>
<rect x="347.4" y="565.2" width="1.6" height="1.6" fill="#555"/>
<rect x="347.4" y="571.2" width="1.6" height="1.6" fill="#555"/>
<rect x="351.5" y="565.2" width="1.6" height="1.6" fill="#555"/>
<rect x="351.5" y="571.2" width="1.6" height="1.6" fill="#555"/>
<rect x="355.5" y="565.2" width="1.6" height="1.6" fill="#555"/>
<rect x="355.5" y="571.2" width="1.6" height="1.6" fill="#555"/>
<rect x="359.6" y="565.2" width="1.6" height="1.6" fill="#555"/>
<rect x="359.6" y="571.2" width="1.6" height="1.6" fill="#555"/>
<rect x="363.6" y="565.2" width="1.6" height="1.6" fill="#555"/>
<rect x="363.6" y="571.2" width="1.6" height="1.6" fill="#555"/>
<rect x="367.7" y="565.2" width="1.6" height="1.6" fill="#555"/>
<rect x="367.7" y="571.2" width="1.6" height="1.6" fill="#555"/>
<rect x="371.7" y="565.2" width="1.6" height="1.6" fill="#555"/>
<rect x="371.7" y="571.2" width="1.6" height="1.6" fill="#555"/>
<rect x="375.8" y="565.2" width="1.6" height="1.6" fill="#555"/>
<rect x="375.8" y="571.2" width="1.6" height="1.6" fill="#555"/>
<rect x="379.8" y="565.2" width="1.6" height="1.6" fill="#555"/>
<rect x="379.8" y="571.2" width="1.6" height="1.6" fill="#555"/>
<rect x="383.9" y="565.2" width="1.6" height="1.6" fill="#555"/>
<rect x="383.9" y="571.2" width="1.6" height="1.6" fill="#555"/>
<rect x="387.9" y="565.2" width="1.6" height="1.6" fill="#555"/>
<rect x="387.9" y="571.2" width="1.6" height="1.6" fill="#555"/>
<rect x="392.0" y="565.2" width="1.6" height="1.6" fill="#555"/>
<rect x="392.0" y="571.2" width="1.6" height="1.6" fill="#555"/>
<rect x="396.0" y="565.2" width="1.6" height="1.6" fill="#555"/>
<rect x="396.0" y="571.2" width="1.6" height="1.6" fill="#555"/>
<rect x="400.1" y="565.2" width="1.6" height="1.6" fill="#555"/>
<rect x="400.1" y="571.2" width="1.6" height="1.6" fill="#555"/>
<text x="344.0" y="369.5" font-size="10.5" fill="none" stroke="#6a6a6a" stroke-width="0.4" text-anchor="middle">PCIEX16</text>
<text x="280.0" y="409.5" font-size="6" fill="none" stroke="#777" stroke-width="0.4" text-anchor="middle">PCIEX1</text>
<text x="280.0" y="450.5" font-size="6" fill="none" stroke="#777" stroke-width="0.4" text-anchor="middle">PCIEX1</text>
<text x="344.0" y="490.3" font-size="11" fill="none" stroke="#b0b0b0" stroke-width="0.5" text-anchor="middle">PCIEX4</text>
<text x="325.5" y="532.0" font-size="11" fill="none" stroke="#8a8a8a" stroke-width="0.5" text-anchor="middle">PCI1</text>
<text x="325.5" y="573.5" font-size="11" fill="none" stroke="#8a8a8a" stroke-width="0.5" text-anchor="middle">PCI2</text>
<line x1="369.0" y1="302.0" x2="394.0" y2="302.0" stroke="#ccb0b0" stroke-width="1.3"/>
<line x1="389.3" y1="282.3" x2="389.3" y2="322.0" stroke="#ccb0b0" stroke-width="1.3"/>
<rect x="310.0" y="302.3" width="3.9" height="3.5" fill="#d2d2d2"/>
<rect x="319.7" y="302.3" width="3.3" height="3.9" fill="#d2d2d2"/>
<rect x="323.5" y="302.3" width="3.3" height="3.9" fill="#d2d2d2"/>
<rect x="327.3" y="302.3" width="3.3" height="3.9" fill="#d2d2d2"/>
<rect x="334.4" y="302.3" width="3.2" height="3.9" fill="#d2d2d2"/>
<rect x="338.0" y="302.3" width="3.2" height="3.9" fill="#d2d2d2"/>
<rect x="341.7" y="302.3" width="3.2" height="3.9" fill="#d2d2d2"/>
<rect x="345.3" y="302.3" width="3.2" height="3.9" fill="#d2d2d2"/>
<rect x="350.5" y="302.3" width="4.3" height="3.9" fill="#d2d2d2"/>
<rect x="355.6" y="302.3" width="4.3" height="3.9" fill="#d2d2d2"/>
<rect x="380.5" y="315.6" width="9.7" height="16.0" fill="none" stroke="#e8e8e8" stroke-width="1.4"/>
<rect x="377.2" y="320.5" width="2.9" height="8.8" fill="#d2d2d2"/>
<rect x="410.3" y="301.9" width="20.5" height="20.5" fill="none" stroke="#e8e8e8" stroke-width="2"/>
<rect x="413.2" y="304.8" width="14.7" height="14.7" fill="none" stroke="#5a5a5a" stroke-width="0.6"/>
<circle cx="420.6" cy="312.2" r="0.6" fill="#888"/>
<rect x="394.2" y="300.0" width="3.3" height="3.1" fill="#d2d2d2"/>
<rect x="394.2" y="304.5" width="3.3" height="3.1" fill="#d2d2d2"/>
<rect x="394.2" y="308.9" width="3.3" height="3.1" fill="#d2d2d2"/>
<rect x="394.2" y="313.4" width="3.3" height="3.1" fill="#d2d2d2"/>
<rect x="394.2" y="317.8" width="3.3" height="3.1" fill="#d2d2d2"/>
<rect x="394.2" y="322.3" width="3.3" height="3.1" fill="#d2d2d2"/>
<rect x="394.2" y="326.7" width="3.3" height="3.1" fill="#d2d2d2"/>
<rect x="398.9" y="300.0" width="3.3" height="3.1" fill="#d2d2d2"/>
<rect x="398.9" y="304.5" width="3.3" height="3.1" fill="#d2d2d2"/>
<rect x="398.9" y="308.9" width="3.3" height="3.1" fill="#d2d2d2"/>
<rect x="398.9" y="313.4" width="3.3" height="3.1" fill="#d2d2d2"/>
<rect x="398.9" y="317.8" width="3.3" height="3.1" fill="#d2d2d2"/>
<rect x="398.9" y="322.3" width="3.3" height="3.1" fill="#d2d2d2"/>
<rect x="398.9" y="326.7" width="3.3" height="3.1" fill="#d2d2d2"/>
<rect x="403.6" y="300.0" width="3.3" height="3.1" fill="#d2d2d2"/>
<rect x="403.6" y="304.5" width="3.3" height="3.1" fill="#d2d2d2"/>
<rect x="403.6" y="308.9" width="3.3" height="3.1" fill="#d2d2d2"/>
<rect x="403.6" y="313.4" width="3.3" height="3.1" fill="#d2d2d2"/>
<rect x="403.6" y="317.8" width="3.3" height="3.1" fill="#d2d2d2"/>
<rect x="403.6" y="322.3" width="3.3" height="3.1" fill="#d2d2d2"/>
<rect x="403.6" y="326.7" width="3.3" height="3.1" fill="#d2d2d2"/>
<rect x="434.7" y="302.9" width="4.3" height="2.5" fill="#d2d2d2"/>
<rect x="434.7" y="306.2" width="4.3" height="2.5" fill="#d2d2d2"/>
<rect x="434.7" y="309.5" width="4.3" height="2.5" fill="#d2d2d2"/>
<rect x="434.7" y="312.9" width="4.3" height="2.5" fill="#d2d2d2"/>
<rect x="434.7" y="316.2" width="4.3" height="2.5" fill="#d2d2d2"/>
<rect x="411.3" y="325.3" width="2.9" height="3.9" fill="#d2d2d2"/>
<rect x="415.6" y="325.3" width="5.5" height="3.9" fill="#d2d2d2"/>
<rect x="432.7" y="322.4" width="7.4" height="4.9" fill="#d2d2d2"/>
<rect x="436.6" y="329.2" width="2.9" height="3.9" fill="#d2d2d2"/>
<rect x="436.6" y="335.1" width="2.9" height="4.9" fill="#d2d2d2"/>
<rect x="443.4" y="328.8" width="2.9" height="12.1" fill="#d2d2d2"/>
<rect x="455.1" y="301.9" width="4.9" height="3.5" fill="#d2d2d2"/>
<rect x="319.4" y="329.2" width="4.7" height="2.3" fill="#d2d2d2"/>
<rect x="320.7" y="332.1" width="2.9" height="7.8" fill="#d2d2d2"/>
<rect x="313.5" y="333.1" width="2.7" height="7.8" fill="#d2d2d2"/>
<rect x="346.6" y="332.1" width="3.9" height="2.9" fill="#d2d2d2"/>
<rect x="346.6" y="335.1" width="8.2" height="2.3" fill="#d2d2d2"/>
<rect x="346.6" y="338.0" width="8.2" height="2.5" fill="#d2d2d2"/>
<rect x="409.4" y="377.9" width="2.3" height="5.5" fill="#d2d2d2"/>
<rect x="413.2" y="377.9" width="2.3" height="5.5" fill="#d2d2d2"/>
<rect x="457.1" y="393.5" width="1.9" height="7.8" fill="#d2d2d2"/>
<rect x="422.0" y="325.3" width="2.8" height="3.9" fill="#d2d2d2"/>
<rect x="425.3" y="325.3" width="2.8" height="3.9" fill="#d2d2d2"/>
<rect x="428.5" y="325.3" width="2.8" height="3.9" fill="#d2d2d2"/>
<rect x="415.2" y="330.2" width="3.3" height="4.9" fill="#d2d2d2"/>
<rect x="419.1" y="330.2" width="3.3" height="4.9" fill="#d2d2d2"/>
<rect x="423.0" y="330.2" width="3.3" height="4.9" fill="#d2d2d2"/>
<rect x="426.9" y="330.2" width="5.8" height="5.8" fill="#d2d2d2"/>
<rect x="326.0" y="329.2" width="17.5" height="5.8" fill="none" stroke="#e8e8e8" stroke-width="1.4"/>
<rect x="313.5" y="353.0" width="4.3" height="3.7" fill="#d2d2d2"/>
<rect x="326.0" y="353.0" width="4.5" height="3.7" fill="#d2d2d2"/>
<rect x="333.4" y="353.0" width="4.3" height="3.7" fill="#d2d2d2"/>
<rect x="341.2" y="353.0" width="4.3" height="3.7" fill="#d2d2d2"/>
<rect x="349.9" y="353.0" width="3.9" height="3.7" fill="#d2d2d2"/>
<rect x="361.0" y="353.0" width="4.5" height="3.7" fill="#d2d2d2"/>
<rect x="369.4" y="353.0" width="4.5" height="3.7" fill="#d2d2d2"/>
<rect x="377.2" y="353.0" width="4.5" height="3.7" fill="#d2d2d2"/>
<rect x="385.6" y="353.0" width="4.3" height="3.7" fill="#d2d2d2"/>
<rect x="393.4" y="353.0" width="4.3" height="3.7" fill="#d2d2d2"/>
<rect x="401.2" y="353.0" width="4.3" height="3.7" fill="#d2d2d2"/>
<rect x="409.4" y="353.0" width="4.3" height="3.7" fill="#d2d2d2"/>
<rect x="417.1" y="353.0" width="4.3" height="3.7" fill="#d2d2d2"/>
<rect x="257.4" y="353.0" width="3.9" height="3.7" fill="#d2d2d2"/>
<rect x="264.2" y="353.0" width="2.5" height="3.7" fill="#d2d2d2"/>
<rect x="275.3" y="353.0" width="2.5" height="3.7" fill="#d2d2d2"/>
<rect x="289.5" y="353.0" width="3.9" height="3.7" fill="#d2d2d2"/>
<rect x="297.3" y="353.0" width="3.9" height="3.7" fill="#d2d2d2"/>
<rect x="305.1" y="353.0" width="4.9" height="3.7" fill="#d2d2d2"/>
<rect x="484.4" y="301.6" width="2.8" height="3.3" fill="#d2d2d2"/>
<rect x="487.6" y="301.6" width="2.8" height="3.3" fill="#d2d2d2"/>
<rect x="490.8" y="301.6" width="2.8" height="3.3" fill="#d2d2d2"/>
<rect x="455.0" y="302.1" width="6.4" height="3.1" fill="#d2d2d2"/>
<rect x="492.7" y="320.5" width="13.1" height="13.6" fill="none" stroke="#e8e8e8" stroke-width="1.5"/>
<circle cx="496.0" cy="324.0" r="0.6" fill="#777"/>
<circle cx="496.0" cy="327.3" r="0.6" fill="#777"/>
<circle cx="496.0" cy="330.6" r="0.6" fill="#777"/>
<circle cx="499.4" cy="324.0" r="0.6" fill="#777"/>
<circle cx="499.4" cy="327.3" r="0.6" fill="#777"/>
<circle cx="499.4" cy="330.6" r="0.6" fill="#777"/>
<circle cx="502.5" cy="324.0" r="0.6" fill="#777"/>
<circle cx="502.5" cy="327.3" r="0.6" fill="#777"/>
<circle cx="502.5" cy="330.6" r="0.6" fill="#777"/>
<rect x="514.5" y="320.5" width="9.7" height="13.1" fill="none" stroke="#e8e8e8" stroke-width="1.4"/>
<rect x="515.9" y="321.8" width="7.0" height="10.3" fill="none" stroke="#5a5a5a" stroke-width="0.6"/>
<circle cx="519.4" cy="327.0" r="0.6" fill="#888"/>
<rect x="527.8" y="320.5" width="10.1" height="13.1" fill="none" stroke="#e8e8e8" stroke-width="1.4"/>
<rect x="529.2" y="321.9" width="7.3" height="10.2" fill="none" stroke="#5a5a5a" stroke-width="0.6"/>
<circle cx="532.9" cy="327.0" r="0.6" fill="#888"/>
<rect x="566.8" y="320.5" width="13.1" height="13.6" fill="none" stroke="#e8e8e8" stroke-width="1.5"/>
<circle cx="570.1" cy="324.0" r="0.6" fill="#777"/>
<circle cx="570.1" cy="327.3" r="0.6" fill="#777"/>
<circle cx="570.1" cy="330.6" r="0.6" fill="#777"/>
<circle cx="573.4" cy="324.0" r="0.6" fill="#777"/>
<circle cx="573.4" cy="327.3" r="0.6" fill="#777"/>
<circle cx="573.4" cy="330.6" r="0.6" fill="#777"/>
<circle cx="576.5" cy="324.0" r="0.6" fill="#777"/>
<circle cx="576.5" cy="327.3" r="0.6" fill="#777"/>
<circle cx="576.5" cy="330.6" r="0.6" fill="#777"/>
<rect x="538.9" y="326.3" width="2.5" height="7.8" fill="#d2d2d2"/>
<rect x="524.3" y="338.0" width="2.3" height="7.8" fill="#d2d2d2"/>
<rect x="590.1" y="303.9" width="8.2" height="2.9" fill="#d2d2d2"/>
<rect x="594.4" y="300.0" width="2.9" height="2.3" fill="#d2d2d2"/>
<rect x="590.1" y="322.4" width="2.3" height="8.8" fill="#d2d2d2"/>
<rect x="524.3" y="375.0" width="3.5" height="8.4" fill="#d2d2d2"/>
<rect x="530.1" y="375.0" width="3.5" height="8.4" fill="#d2d2d2"/>
<rect x="537.9" y="377.5" width="2.9" height="4.3" fill="#d2d2d2"/>
<rect x="535.6" y="383.8" width="8.2" height="3.9" fill="#d2d2d2"/>
<rect x="540.3" y="388.1" width="3.1" height="3.5" fill="#d2d2d2"/>
<rect x="550.6" y="384.2" width="3.9" height="4.5" fill="#d2d2d2"/>
<rect x="499.9" y="387.3" width="4.9" height="3.9" fill="#d2d2d2"/>
<rect x="501.9" y="390.6" width="9.2" height="4.9" fill="#d2d2d2"/>
<rect x="518.1" y="387.3" width="2.7" height="8.2" fill="#d2d2d2"/>
<rect x="553.5" y="394.5" width="3.9" height="6.8" fill="#d2d2d2"/>
<rect x="560.3" y="396.4" width="8.8" height="4.9" fill="#d2d2d2"/>
<rect x="590.1" y="307.8" width="8.2" height="2.2" fill="#d2d2d2"/>
<rect x="590.1" y="310.7" width="8.2" height="2.2" fill="#d2d2d2"/>
<rect x="602.2" y="306.8" width="6.8" height="37.6" fill="none" stroke="#e8e8e8" stroke-width="1.3"/>
<circle cx="604.5" cy="310.7" r="0.5" fill="#666"/>
<circle cx="604.5" cy="314.6" r="0.5" fill="#666"/>
<circle cx="604.5" cy="318.5" r="0.5" fill="#666"/>
<circle cx="604.5" cy="322.4" r="0.5" fill="#666"/>
<circle cx="604.5" cy="326.3" r="0.5" fill="#666"/>
<circle cx="604.5" cy="330.2" r="0.5" fill="#666"/>
<circle cx="604.5" cy="334.1" r="0.5" fill="#666"/>
<circle cx="604.5" cy="338.0" r="0.5" fill="#666"/>
<circle cx="604.5" cy="341.3" r="0.5" fill="#666"/>
<circle cx="606.7" cy="310.7" r="0.5" fill="#666"/>
<circle cx="606.7" cy="314.6" r="0.5" fill="#666"/>
<circle cx="606.7" cy="318.5" r="0.5" fill="#666"/>
<circle cx="606.7" cy="322.4" r="0.5" fill="#666"/>
<circle cx="606.7" cy="326.3" r="0.5" fill="#666"/>
<circle cx="606.7" cy="330.2" r="0.5" fill="#666"/>
<circle cx="606.7" cy="334.1" r="0.5" fill="#666"/>
<circle cx="606.7" cy="338.0" r="0.5" fill="#666"/>
<circle cx="606.7" cy="341.3" r="0.5" fill="#666"/>
<rect x="593.4" y="316.6" width="4.3" height="12.7" fill="none" stroke="#e8e8e8" stroke-width="1.2"/>
<rect x="591.5" y="334.1" width="5.8" height="7.2" fill="none" stroke="#e8e8e8" stroke-width="1.4"/>
<rect x="593.4" y="349.1" width="6.8" height="6.4" fill="none" stroke="#e8e8e8" stroke-width="1.4"/>
<rect x="569.5" y="354.5" width="2.5" height="3.9" fill="#d2d2d2"/>
<rect x="572.3" y="354.5" width="2.5" height="3.9" fill="#d2d2d2"/>
<rect x="575.1" y="354.5" width="2.5" height="3.9" fill="#d2d2d2"/>
<rect x="578.0" y="354.5" width="2.5" height="3.9" fill="#d2d2d2"/>
<rect x="580.8" y="354.5" width="2.5" height="3.9" fill="#d2d2d2"/>
<rect x="583.6" y="354.5" width="2.5" height="3.9" fill="#d2d2d2"/>
<rect x="586.4" y="354.5" width="2.5" height="3.9" fill="#d2d2d2"/>
<rect x="589.3" y="354.5" width="2.5" height="3.9" fill="#d2d2d2"/>
<rect x="576.5" y="361.9" width="12.1" height="11.7" fill="none" stroke="#e8e8e8" stroke-width="1.6"/>
<rect x="578.2" y="363.6" width="8.7" height="8.3" fill="none" stroke="#5a5a5a" stroke-width="0.6"/>
<circle cx="582.5" cy="367.8" r="0.6" fill="#888"/>
<rect x="565.2" y="360.4" width="3.9" height="4.8" fill="#d2d2d2"/>
<rect x="565.2" y="366.4" width="3.9" height="4.8" fill="#d2d2d2"/>
<rect x="570.1" y="360.4" width="3.9" height="4.8" fill="#d2d2d2"/>
<rect x="570.1" y="366.4" width="3.9" height="4.8" fill="#d2d2d2"/>
<rect x="590.5" y="362.3" width="4.3" height="2.2" fill="#d2d2d2"/>
<rect x="590.5" y="365.3" width="4.3" height="2.2" fill="#d2d2d2"/>
<rect x="590.5" y="368.2" width="4.3" height="2.2" fill="#d2d2d2"/>
<rect x="590.5" y="371.1" width="4.3" height="2.2" fill="#d2d2d2"/>
<rect x="572.0" y="376.0" width="2.4" height="3.9" fill="#d2d2d2"/>
<rect x="574.7" y="376.0" width="2.4" height="3.9" fill="#d2d2d2"/>
<rect x="577.4" y="376.0" width="2.4" height="3.9" fill="#d2d2d2"/>
<rect x="580.1" y="376.0" width="2.4" height="3.9" fill="#d2d2d2"/>
<rect x="582.8" y="376.0" width="2.4" height="3.9" fill="#d2d2d2"/>
<rect x="585.5" y="376.0" width="2.4" height="3.9" fill="#d2d2d2"/>
<rect x="545.3" y="362.7" width="12.7" height="2.5" fill="#e8e8e8"/>
<rect x="485.7" y="377.5" width="72.7" height="96.9" fill="none" stroke="#e8e8e8" stroke-width="1.4"/>
<g filter="url(#b2)">
<rect x="499.6" y="404.6" width="45.0" height="42.6" fill="#7e7e7e" stroke="#b4b4b4" stroke-width="1"/>
<rect x="504.5" y="409.5" width="35.0" height="33.0" fill="none" stroke="#1c1c1c" stroke-width="1"/>
<rect x="507.1" y="412.1" width="29.8" height="27.8" fill="none" stroke="#1c1c1c" stroke-width="1"/>
<rect x="509.7" y="414.7" width="24.6" height="22.6" fill="none" stroke="#1c1c1c" stroke-width="1"/>
<rect x="512.3" y="417.3" width="19.4" height="17.4" fill="none" stroke="#1c1c1c" stroke-width="1"/>
<rect x="514.9" y="419.9" width="14.2" height="12.2" fill="none" stroke="#1c1c1c" stroke-width="1"/>
<rect x="518.5" y="406.0" width="7.0" height="40.0" fill="#7a7a7a"/>
<rect x="501.0" y="422.5" width="42.0" height="7.0" fill="#7a7a7a"/>
<line x1="519.5" y1="409.0" x2="519.5" y2="443.0" stroke="#333" stroke-width="0.6"/>
<line x1="521.5" y1="409.0" x2="521.5" y2="443.0" stroke="#333" stroke-width="0.6"/>
<line x1="523.5" y1="409.0" x2="523.5" y2="443.0" stroke="#333" stroke-width="0.6"/>
<line x1="504.0" y1="423.5" x2="540.0" y2="423.5" stroke="#333" stroke-width="0.6"/>
<line x1="504.0" y1="425.5" x2="540.0" y2="425.5" stroke="#333" stroke-width="0.6"/>
<line x1="504.0" y1="427.5" x2="540.0" y2="427.5" stroke="#333" stroke-width="0.6"/>
<rect x="514.5" y="422.5" width="15.5" height="14.5" fill="#6a6a6a" stroke="#a8a8a8" stroke-width="1"/>
<line x1="516.0" y1="426.0" x2="528.5" y2="426.0" stroke="#2a2a2a" stroke-width="0.7"/>
<line x1="516.0" y1="429.0" x2="528.5" y2="429.0" stroke="#2a2a2a" stroke-width="0.7"/>
<line x1="516.0" y1="432.0" x2="528.5" y2="432.0" stroke="#2a2a2a" stroke-width="0.7"/>
<line x1="516.0" y1="435.0" x2="528.5" y2="435.0" stroke="#2a2a2a" stroke-width="0.7"/>
</g>
<rect x="181.0" y="400.0" width="2.3" height="4.9" fill="#d2d2d2"/>
<rect x="194.7" y="400.0" width="2.3" height="4.9" fill="#d2d2d2"/>
<rect x="203.8" y="401.0" width="2.5" height="8.8" fill="#d2d2d2"/>
<rect x="207.7" y="400.0" width="1.9" height="5.8" fill="#d2d2d2"/>
<rect x="178.5" y="407.4" width="4.5" height="4.3" fill="#d2d2d2"/>
<rect x="185.3" y="408.2" width="6.8" height="4.5" fill="#d2d2d2"/>
<rect x="193.1" y="407.8" width="4.9" height="5.5" fill="#d2d2d2"/>
<rect x="209.1" y="412.7" width="3.5" height="2.5" fill="#d2d2d2"/>
<rect x="209.1" y="421.4" width="8.4" height="3.9" fill="#d2d2d2"/>
<rect x="178.5" y="443.8" width="4.5" height="3.9" fill="#d2d2d2"/>
<rect x="190.2" y="442.5" width="7.8" height="4.3" fill="#d2d2d2"/>
<rect x="199.9" y="442.5" width="4.9" height="4.3" fill="#d2d2d2"/>
<rect x="205.2" y="443.8" width="5.5" height="3.9" fill="#d2d2d2"/>
<rect x="181.0" y="451.6" width="2.3" height="6.8" fill="#d2d2d2"/>
<rect x="194.7" y="451.6" width="2.3" height="6.8" fill="#d2d2d2"/>
<rect x="181.0" y="465.3" width="2.3" height="7.2" fill="#d2d2d2"/>
<rect x="194.7" y="465.3" width="2.3" height="7.2" fill="#d2d2d2"/>
<rect x="181.0" y="478.9" width="2.3" height="7.8" fill="#d2d2d2"/>
<rect x="194.7" y="478.9" width="2.3" height="7.8" fill="#d2d2d2"/>
<rect x="199.0" y="474.4" width="5.5" height="2.1" fill="#d2d2d2"/>
<rect x="206.4" y="488.1" width="4.3" height="2.5" fill="#d2d2d2"/>
<rect x="260.3" y="414.6" width="6.4" height="3.9" fill="#d2d2d2"/>
<rect x="279.2" y="414.6" width="2.5" height="3.9" fill="#d2d2d2"/>
<rect x="289.0" y="414.6" width="5.1" height="3.9" fill="#d2d2d2"/>
<rect x="258.4" y="434.7" width="2.5" height="3.9" fill="#d2d2d2"/>
<rect x="264.2" y="434.7" width="2.5" height="3.9" fill="#d2d2d2"/>
<rect x="277.3" y="434.7" width="3.1" height="3.9" fill="#d2d2d2"/>
<rect x="260.3" y="455.1" width="5.8" height="3.9" fill="#d2d2d2"/>
<rect x="281.2" y="455.1" width="2.5" height="3.9" fill="#d2d2d2"/>
<rect x="289.0" y="455.1" width="5.1" height="3.9" fill="#d2d2d2"/>
<rect x="258.4" y="475.0" width="2.5" height="3.9" fill="#d2d2d2"/>
<rect x="264.2" y="475.0" width="2.5" height="3.9" fill="#d2d2d2"/>
<rect x="276.5" y="475.0" width="2.7" height="3.9" fill="#d2d2d2"/>
<rect x="288.6" y="475.0" width="5.5" height="3.9" fill="#d2d2d2"/>
<rect x="305.1" y="475.0" width="4.9" height="3.9" fill="#d2d2d2"/>
<rect x="259.7" y="496.4" width="3.5" height="3.9" fill="#d2d2d2"/>
<rect x="265.2" y="496.4" width="2.9" height="3.9" fill="#d2d2d2"/>
<rect x="276.9" y="496.4" width="3.9" height="3.9" fill="#d2d2d2"/>
<rect x="178.5" y="414.6" width="3.4" height="4.9" fill="#d2d2d2"/>
<rect x="182.4" y="414.6" width="3.4" height="4.9" fill="#d2d2d2"/>
<rect x="186.3" y="414.6" width="3.4" height="4.9" fill="#d2d2d2"/>
<rect x="190.2" y="414.6" width="3.4" height="4.9" fill="#d2d2d2"/>
<rect x="194.1" y="414.6" width="3.4" height="4.9" fill="#d2d2d2"/>
<rect x="199.0" y="412.7" width="5.8" height="6.8" fill="none" stroke="#e8e8e8" stroke-width="1.3"/>
<rect x="209.1" y="415.2" width="6.8" height="5.3" fill="none" stroke="#e8e8e8" stroke-width="1.3"/>
<rect x="187.3" y="421.0" width="19.5" height="19.5" fill="none" stroke="#e8e8e8" stroke-width="2"/>
<text x="197.0" y="432.7" font-size="6" fill="none" stroke="#888" stroke-width="0.4" text-anchor="middle">OU1</text>
<rect x="178.5" y="420.5" width="5.3" height="2.7" fill="#d2d2d2"/>
<rect x="178.5" y="424.0" width="5.3" height="2.7" fill="#d2d2d2"/>
<rect x="178.5" y="427.6" width="5.3" height="2.7" fill="#d2d2d2"/>
<rect x="178.5" y="436.0" width="5.8" height="6.4" fill="none" stroke="#e8e8e8" stroke-width="1.3"/>
<rect x="208.3" y="425.3" width="4.7" height="1.6" fill="#d2d2d2"/>
<rect x="208.3" y="427.5" width="4.7" height="1.6" fill="#d2d2d2"/>
<rect x="208.3" y="429.7" width="4.7" height="1.6" fill="#d2d2d2"/>
<rect x="208.3" y="431.8" width="4.7" height="1.6" fill="#d2d2d2"/>
<rect x="208.3" y="434.0" width="4.7" height="1.6" fill="#d2d2d2"/>
<rect x="208.3" y="436.2" width="4.7" height="1.6" fill="#d2d2d2"/>
<rect x="208.3" y="438.3" width="4.7" height="1.6" fill="#d2d2d2"/>
<rect x="178.5" y="495.8" width="2.6" height="4.1" fill="#d2d2d2"/>
<rect x="181.5" y="495.8" width="2.6" height="4.1" fill="#d2d2d2"/>
<rect x="184.4" y="495.8" width="2.6" height="4.1" fill="#d2d2d2"/>
<rect x="187.4" y="495.8" width="2.6" height="4.1" fill="#d2d2d2"/>
<rect x="190.3" y="495.8" width="2.6" height="4.1" fill="#d2d2d2"/>
<rect x="193.3" y="495.8" width="2.6" height="4.1" fill="#d2d2d2"/>
<rect x="196.3" y="495.8" width="2.6" height="4.1" fill="#d2d2d2"/>
<rect x="199.2" y="495.8" width="2.6" height="4.1" fill="#d2d2d2"/>
<rect x="202.2" y="495.8" width="2.6" height="4.1" fill="#d2d2d2"/>
<rect x="205.1" y="495.8" width="2.6" height="4.1" fill="#d2d2d2"/>
<rect x="208.1" y="495.8" width="2.6" height="4.1" fill="#d2d2d2"/>
<rect x="236.4" y="481.4" width="4.5" height="29.6" fill="none" stroke="#e8e8e8" stroke-width="1.2"/>
<line x1="236.4" y1="481.4" x2="240.8" y2="481.4" stroke="#e8e8e8" stroke-width="1"/>
<line x1="236.4" y1="486.1" x2="240.8" y2="486.1" stroke="#e8e8e8" stroke-width="1"/>
<line x1="236.4" y1="490.8" x2="240.8" y2="490.8" stroke="#e8e8e8" stroke-width="1"/>
<line x1="236.4" y1="495.5" x2="240.8" y2="495.5" stroke="#e8e8e8" stroke-width="1"/>
<line x1="236.4" y1="500.1" x2="240.8" y2="500.1" stroke="#e8e8e8" stroke-width="1"/>
<line x1="236.4" y1="504.8" x2="240.8" y2="504.8" stroke="#e8e8e8" stroke-width="1"/>
<line x1="236.4" y1="509.5" x2="240.8" y2="509.5" stroke="#e8e8e8" stroke-width="1"/>
<rect x="375.3" y="419.5" width="42.9" height="2.9" fill="#e8e8e8"/>
<rect x="414.8" y="433.5" width="5.8" height="7.0" fill="none" stroke="#e8e8e8" stroke-width="1.3"/>
<rect x="416.2" y="430.2" width="3.9" height="1.9" fill="#d2d2d2"/>
<rect x="412.3" y="436.0" width="1.9" height="4.5" fill="#d2d2d2"/>
<rect x="448.3" y="406.2" width="9.4" height="12.9" fill="none" stroke="#e8e8e8" stroke-width="1.4"/>
<circle cx="453.0" cy="412.7" r="0.6" fill="#888"/>
<rect x="444.4" y="405.8" width="2.3" height="7.4" fill="#d2d2d2"/>
<rect x="458.1" y="422.4" width="1.9" height="1.9" fill="#d2d2d2"/>
<rect x="453.2" y="430.2" width="6.8" height="2.5" fill="#d2d2d2"/>
<rect x="313.5" y="475.0" width="4.3" height="3.9" fill="#d2d2d2"/>
<rect x="321.3" y="475.0" width="4.3" height="3.9" fill="#d2d2d2"/>
<rect x="453.2" y="474.0" width="4.9" height="2.9" fill="#d2d2d2"/>
<rect x="453.2" y="478.3" width="6.8" height="3.1" fill="#d2d2d2"/>
<rect x="455.1" y="484.7" width="4.9" height="5.8" fill="none" stroke="#e8e8e8" stroke-width="1.2"/>
<rect x="455.1" y="491.6" width="4.9" height="5.8" fill="none" stroke="#e8e8e8" stroke-width="1.2"/>
<rect x="451.2" y="486.7" width="1.9" height="3.9" fill="#d2d2d2"/>
<rect x="458.1" y="455.5" width="1.9" height="18.5" fill="#999"/>
<rect x="483.0" y="400.0" width="8.2" height="5.5" fill="#d2d2d2"/>
<rect x="486.3" y="407.4" width="4.5" height="3.3" fill="#d2d2d2"/>
<rect x="460.0" y="405.8" width="4.3" height="4.9" fill="#d2d2d2"/>
<rect x="460.0" y="419.5" width="5.8" height="5.5" fill="#d2d2d2"/>
<rect x="460.0" y="429.2" width="5.8" height="3.5" fill="#d2d2d2"/>
<rect x="476.6" y="424.9" width="3.9" height="2.3" fill="#d2d2d2"/>
<rect x="476.6" y="438.0" width="8.8" height="1.9" fill="#d2d2d2"/>
<rect x="490.8" y="434.1" width="5.8" height="2.9" fill="#d2d2d2"/>
<rect x="492.1" y="445.2" width="3.9" height="6.4" fill="#d2d2d2"/>
<rect x="472.1" y="454.2" width="5.5" height="5.3" fill="#d2d2d2"/>
<rect x="479.1" y="453.6" width="2.7" height="5.8" fill="#d2d2d2"/>
<rect x="492.1" y="453.0" width="2.9" height="4.5" fill="#d2d2d2"/>
<rect x="496.0" y="451.0" width="4.9" height="8.4" fill="#d2d2d2"/>
<rect x="461.0" y="477.9" width="4.9" height="4.9" fill="#d2d2d2"/>
<rect x="466.8" y="477.9" width="4.9" height="3.9" fill="#d2d2d2"/>
<rect x="460.0" y="483.8" width="1.9" height="13.6" fill="#d2d2d2"/>
<rect x="518.8" y="455.5" width="3.1" height="3.9" fill="#d2d2d2"/>
<rect x="525.3" y="454.9" width="2.9" height="4.5" fill="#d2d2d2"/>
<rect x="534.0" y="451.0" width="4.9" height="8.4" fill="#d2d2d2"/>
<rect x="540.3" y="455.5" width="2.5" height="3.9" fill="#d2d2d2"/>
<rect x="546.1" y="451.0" width="7.0" height="8.4" fill="#d2d2d2"/>
<rect x="553.5" y="455.5" width="6.2" height="3.9" fill="#d2d2d2"/>
<rect x="510.3" y="462.7" width="6.2" height="4.5" fill="#d2d2d2"/>
<rect x="547.3" y="462.3" width="2.7" height="4.9" fill="#d2d2d2"/>
<rect x="555.1" y="463.3" width="7.2" height="2.5" fill="#d2d2d2"/>
<rect x="527.2" y="475.0" width="5.3" height="2.9" fill="#d2d2d2"/>
<rect x="536.9" y="473.1" width="3.9" height="3.3" fill="#d2d2d2"/>
<rect x="537.9" y="487.7" width="4.9" height="7.8" fill="#d2d2d2"/>
<rect x="546.7" y="488.1" width="3.9" height="5.1" fill="#d2d2d2"/>
<rect x="546.7" y="498.4" width="3.3" height="2.9" fill="#d2d2d2"/>
<rect x="553.5" y="400.0" width="4.9" height="3.9" fill="#d2d2d2"/>
<rect x="560.3" y="400.0" width="2.9" height="2.9" fill="#d2d2d2"/>
<rect x="560.3" y="410.7" width="3.3" height="7.8" fill="#d2d2d2"/>
<rect x="565.2" y="413.2" width="3.5" height="5.3" fill="#d2d2d2"/>
<rect x="572.6" y="415.2" width="3.3" height="1.9" fill="#d2d2d2"/>
<rect x="547.7" y="419.5" width="2.3" height="3.9" fill="#d2d2d2"/>
<rect x="549.2" y="426.3" width="3.9" height="4.9" fill="#d2d2d2"/>
<rect x="577.3" y="446.4" width="3.5" height="3.9" fill="#d2d2d2"/>
<rect x="568.7" y="470.5" width="4.3" height="3.1" fill="#d2d2d2"/>
<rect x="563.2" y="475.0" width="4.3" height="2.9" fill="#d2d2d2"/>
<rect x="595.4" y="493.1" width="3.9" height="2.3" fill="#d2d2d2"/>
<rect x="473.2" y="427.3" width="6.2" height="6.2" fill="none" stroke="#e8e8e8" stroke-width="1.3"/>
<rect x="481.4" y="427.3" width="9.7" height="2.2" fill="#d2d2d2"/>
<rect x="481.4" y="430.2" width="9.7" height="2.2" fill="#d2d2d2"/>
<rect x="481.4" y="433.1" width="9.7" height="2.2" fill="#d2d2d2"/>
<rect x="466.8" y="447.1" width="3.9" height="5.1" fill="#d2d2d2"/>
<rect x="471.2" y="447.1" width="3.9" height="5.1" fill="#d2d2d2"/>
<rect x="475.6" y="447.1" width="3.9" height="5.1" fill="#d2d2d2"/>
<rect x="480.0" y="447.1" width="3.9" height="5.1" fill="#d2d2d2"/>
<rect x="460.0" y="455.5" width="2.5" height="3.9" fill="#d2d2d2"/>
<rect x="462.9" y="455.5" width="2.5" height="3.9" fill="#d2d2d2"/>
<rect x="465.8" y="455.5" width="2.5" height="3.9" fill="#d2d2d2"/>
<rect x="460.0" y="461.4" width="9.4" height="12.7" fill="none" stroke="#e8e8e8" stroke-width="1.5"/>
<text x="464.7" y="469.2" font-size="5" fill="none" stroke="#777" stroke-width="0.4" text-anchor="middle">U</text>
<rect x="462.9" y="485.7" width="3.9" height="2.2" fill="#d2d2d2"/>
<rect x="462.9" y="488.6" width="3.9" height="2.2" fill="#d2d2d2"/>
<rect x="462.9" y="491.6" width="3.9" height="2.2" fill="#d2d2d2"/>
<rect x="462.9" y="494.5" width="3.9" height="2.2" fill="#d2d2d2"/>
<rect x="530.1" y="462.7" width="3.2" height="4.5" fill="#d2d2d2"/>
<rect x="533.8" y="462.7" width="3.2" height="4.5" fill="#d2d2d2"/>
<rect x="537.4" y="462.7" width="3.2" height="4.5" fill="#d2d2d2"/>
<rect x="541.1" y="462.7" width="3.2" height="4.5" fill="#d2d2d2"/>
<rect x="513.0" y="468.2" width="5.1" height="4.3" fill="none" stroke="#e8e8e8" stroke-width="1"/>
<rect x="518.8" y="468.2" width="5.1" height="4.3" fill="none" stroke="#e8e8e8" stroke-width="1"/>
<rect x="524.7" y="468.2" width="5.1" height="4.3" fill="none" stroke="#e8e8e8" stroke-width="1"/>
<rect x="530.5" y="468.2" width="5.1" height="4.3" fill="none" stroke="#e8e8e8" stroke-width="1"/>
<rect x="536.4" y="468.2" width="5.1" height="4.3" fill="none" stroke="#e8e8e8" stroke-width="1"/>
<rect x="513.6" y="476.9" width="3.6" height="4.5" fill="#d2d2d2"/>
<rect x="517.8" y="476.9" width="3.6" height="4.5" fill="#d2d2d2"/>
<rect x="522.0" y="476.9" width="3.6" height="4.5" fill="#d2d2d2"/>
<rect x="527.2" y="478.3" width="6.4" height="7.0" fill="none" stroke="#e8e8e8" stroke-width="1.3"/>
<rect x="534.4" y="478.3" width="6.4" height="7.0" fill="none" stroke="#e8e8e8" stroke-width="1.3"/>
<rect x="543.4" y="468.2" width="3.9" height="2.0" fill="#d2d2d2"/>
<rect x="543.4" y="470.8" width="3.9" height="2.0" fill="#d2d2d2"/>
<rect x="543.4" y="473.5" width="3.9" height="2.0" fill="#d2d2d2"/>
<rect x="543.4" y="476.1" width="3.9" height="2.0" fill="#d2d2d2"/>
<rect x="543.4" y="478.8" width="3.9" height="2.0" fill="#d2d2d2"/>
<rect x="543.4" y="481.4" width="3.9" height="2.0" fill="#d2d2d2"/>
<rect x="543.4" y="484.0" width="3.9" height="2.0" fill="#d2d2d2"/>
<rect x="518.8" y="486.7" width="19.1" height="11.3" fill="none" stroke="#e8e8e8" stroke-width="1.6"/>
<text x="528.2" y="493.9" font-size="5.5" fill="none" stroke="#888" stroke-width="0.4" text-anchor="middle">MXIC</text>
<rect x="553.5" y="498.4" width="3.0" height="2.9" fill="#d2d2d2"/>
<rect x="557.0" y="498.4" width="3.0" height="2.9" fill="#d2d2d2"/>
<rect x="560.5" y="498.4" width="3.0" height="2.9" fill="#d2d2d2"/>
<rect x="564.0" y="498.4" width="3.0" height="2.9" fill="#d2d2d2"/>
<rect x="567.5" y="498.4" width="3.0" height="2.9" fill="#d2d2d2"/>
<rect x="564.2" y="400.0" width="5.3" height="3.9" fill="none" stroke="#e8e8e8" stroke-width="1.2"/>
<rect x="572.0" y="407.8" width="5.8" height="5.8" fill="none" stroke="#e8e8e8" stroke-width="1.3"/>
<rect x="550.6" y="417.1" width="5.8" height="5.8" fill="none" stroke="#e8e8e8" stroke-width="1.3"/>
<rect x="553.5" y="425.3" width="3.9" height="2.5" fill="#d2d2d2"/>
<rect x="553.5" y="428.6" width="3.9" height="2.5" fill="#d2d2d2"/>
<rect x="553.5" y="431.9" width="3.9" height="2.5" fill="#d2d2d2"/>
<rect x="553.5" y="435.3" width="3.9" height="2.5" fill="#d2d2d2"/>
<rect x="559.7" y="420.5" width="3.9" height="2.2" fill="#d2d2d2"/>
<rect x="559.7" y="423.4" width="3.9" height="2.2" fill="#d2d2d2"/>
<rect x="559.7" y="426.3" width="3.9" height="2.2" fill="#d2d2d2"/>
<rect x="565.2" y="420.5" width="3.9" height="2.5" fill="#d2d2d2"/>
<rect x="565.2" y="423.8" width="3.9" height="2.5" fill="#d2d2d2"/>
<rect x="565.2" y="427.1" width="3.9" height="2.5" fill="#d2d2d2"/>
<rect x="565.2" y="430.4" width="3.9" height="2.5" fill="#d2d2d2"/>
<rect x="565.2" y="433.7" width="3.9" height="2.5" fill="#d2d2d2"/>
<rect x="571.0" y="420.5" width="4.3" height="2.2" fill="#d2d2d2"/>
<rect x="571.0" y="423.4" width="4.3" height="2.2" fill="#d2d2d2"/>
<rect x="571.0" y="426.3" width="4.3" height="2.2" fill="#d2d2d2"/>
<rect x="559.7" y="434.1" width="3.9" height="4.9" fill="#d2d2d2"/>
<rect x="571.0" y="431.2" width="4.3" height="2.4" fill="#d2d2d2"/>
<rect x="571.0" y="434.4" width="4.3" height="2.4" fill="#d2d2d2"/>
<rect x="571.0" y="437.7" width="4.3" height="2.4" fill="#d2d2d2"/>
<rect x="559.7" y="439.9" width="3.9" height="2.4" fill="#d2d2d2"/>
<rect x="559.7" y="443.2" width="3.9" height="2.4" fill="#d2d2d2"/>
<rect x="559.7" y="446.4" width="3.9" height="2.4" fill="#d2d2d2"/>
<rect x="565.2" y="439.0" width="3.9" height="2.9" fill="#d2d2d2"/>
<rect x="565.2" y="444.8" width="3.9" height="2.6" fill="#d2d2d2"/>
<rect x="565.2" y="448.2" width="3.9" height="2.6" fill="#d2d2d2"/>
<rect x="571.0" y="442.9" width="4.3" height="2.2" fill="#d2d2d2"/>
<rect x="571.0" y="445.8" width="4.3" height="2.2" fill="#d2d2d2"/>
<rect x="571.0" y="448.7" width="4.3" height="2.2" fill="#d2d2d2"/>
<rect x="571.0" y="451.6" width="4.3" height="2.2" fill="#d2d2d2"/>
<rect x="576.9" y="439.9" width="4.9" height="5.3" fill="none" stroke="#e8e8e8" stroke-width="1.2"/>
<rect x="565.2" y="453.6" width="3.9" height="2.6" fill="#d2d2d2"/>
<rect x="565.2" y="457.0" width="3.9" height="2.6" fill="#d2d2d2"/>
<rect x="564.2" y="461.4" width="5.3" height="5.3" fill="none" stroke="#e8e8e8" stroke-width="1.2"/>
<rect x="571.0" y="458.4" width="4.3" height="2.2" fill="#d2d2d2"/>
<rect x="571.0" y="461.4" width="4.3" height="2.2" fill="#d2d2d2"/>
<rect x="571.0" y="464.3" width="4.3" height="2.2" fill="#d2d2d2"/>
<rect x="571.4" y="477.9" width="7.4" height="6.8" fill="none" stroke="#e8e8e8" stroke-width="1.4"/>
<rect x="585.7" y="496.8" width="15.0" height="12.3" fill="none" stroke="#e8e8e8" stroke-width="1.4"/>
<rect x="178.5" y="496.6" width="2.6" height="3.9" fill="#d2d2d2"/>
<rect x="181.5" y="496.6" width="2.6" height="3.9" fill="#d2d2d2"/>
<rect x="184.4" y="496.6" width="2.6" height="3.9" fill="#d2d2d2"/>
<rect x="187.4" y="496.6" width="2.6" height="3.9" fill="#d2d2d2"/>
<rect x="190.3" y="496.6" width="2.6" height="3.9" fill="#d2d2d2"/>
<rect x="193.3" y="496.6" width="2.6" height="3.9" fill="#d2d2d2"/>
<rect x="196.3" y="496.6" width="2.6" height="3.9" fill="#d2d2d2"/>
<rect x="199.2" y="496.6" width="2.6" height="3.9" fill="#d2d2d2"/>
<rect x="202.2" y="496.6" width="2.6" height="3.9" fill="#d2d2d2"/>
<rect x="205.1" y="496.6" width="2.6" height="3.9" fill="#d2d2d2"/>
<rect x="208.1" y="496.6" width="2.6" height="3.9" fill="#d2d2d2"/>
<rect x="178.5" y="501.2" width="2.6" height="3.5" fill="#d2d2d2"/>
<rect x="181.5" y="501.2" width="2.6" height="3.5" fill="#d2d2d2"/>
<rect x="184.4" y="501.2" width="2.6" height="3.5" fill="#d2d2d2"/>
<rect x="187.4" y="501.2" width="2.6" height="3.5" fill="#d2d2d2"/>
<rect x="190.3" y="501.2" width="2.6" height="3.5" fill="#d2d2d2"/>
<rect x="193.3" y="501.2" width="2.6" height="3.5" fill="#d2d2d2"/>
<rect x="196.3" y="501.2" width="2.6" height="3.5" fill="#d2d2d2"/>
<rect x="199.2" y="501.2" width="2.6" height="3.5" fill="#d2d2d2"/>
<rect x="202.2" y="501.2" width="2.6" height="3.5" fill="#d2d2d2"/>
<rect x="205.1" y="501.2" width="2.6" height="3.5" fill="#d2d2d2"/>
<rect x="208.1" y="501.2" width="2.6" height="3.5" fill="#d2d2d2"/>
<rect x="216.1" y="500.5" width="2.3" height="4.3" fill="#d2d2d2"/>
<rect x="242.2" y="500.8" width="7.0" height="5.8" fill="none" stroke="#e8e8e8" stroke-width="1.3"/>
<rect x="260.3" y="496.6" width="2.3" height="3.9" fill="#d2d2d2"/>
<rect x="265.2" y="496.6" width="2.3" height="3.9" fill="#d2d2d2"/>
<rect x="276.5" y="496.6" width="4.3" height="3.9" fill="#d2d2d2"/>
<rect x="179.5" y="505.7" width="4.9" height="8.8" fill="#d2d2d2"/>
<rect x="179.1" y="526.6" width="5.3" height="3.1" fill="#d2d2d2"/>
<rect x="225.3" y="508.2" width="3.9" height="6.2" fill="#d2d2d2"/>
<rect x="225.3" y="534.0" width="3.9" height="4.9" fill="#d2d2d2"/>
<rect x="197.0" y="562.2" width="2.9" height="3.3" fill="#d2d2d2"/>
<rect x="217.5" y="562.2" width="3.3" height="3.3" fill="#d2d2d2"/>
<rect x="221.4" y="558.3" width="2.5" height="4.9" fill="#d2d2d2"/>
<rect x="221.4" y="568.1" width="3.9" height="1.9" fill="#d2d2d2"/>
<rect x="227.2" y="578.4" width="12.7" height="2.3" fill="#d2d2d2"/>
<rect x="237.9" y="582.7" width="2.9" height="6.8" fill="#d2d2d2"/>
<rect x="235.0" y="590.1" width="2.9" height="6.2" fill="#d2d2d2"/>
<rect x="197.0" y="583.6" width="3.9" height="12.7" fill="#d2d2d2"/>
<rect x="192.1" y="589.5" width="3.9" height="6.8" fill="#d2d2d2"/>
<rect x="185.3" y="593.4" width="5.8" height="2.9" fill="#d2d2d2"/>
<rect x="255.5" y="512.5" width="2.3" height="4.3" fill="#d2d2d2"/>
<rect x="259.7" y="512.5" width="2.5" height="4.3" fill="#d2d2d2"/>
<rect x="261.7" y="550.5" width="2.5" height="6.8" fill="#d2d2d2"/>
<rect x="269.5" y="580.3" width="9.4" height="2.3" fill="#d2d2d2"/>
<rect x="287.6" y="582.3" width="5.8" height="3.3" fill="#d2d2d2"/>
<rect x="301.2" y="582.3" width="8.8" height="3.3" fill="#d2d2d2"/>
<rect x="203.8" y="583.6" width="3.9" height="1.9" fill="#d2d2d2"/>
<rect x="211.6" y="583.6" width="3.9" height="1.9" fill="#d2d2d2"/>
<rect x="187.3" y="508.2" width="35.1" height="47.1" fill="none" stroke="#e8e8e8" stroke-width="2"/>
<text x="207.1" y="532.0" font-size="11" fill="none" stroke="#b8b8b8" stroke-width="0.5" text-anchor="middle" transform="rotate(-90 207.1 532.0)">OU1</text>
<rect x="178.5" y="518.4" width="6.4" height="7.4" fill="none" stroke="#e8e8e8" stroke-width="1.3"/>
<rect x="180.5" y="531.0" width="4.5" height="1.8" fill="#d2d2d2"/>
<rect x="180.5" y="533.4" width="4.5" height="1.8" fill="#d2d2d2"/>
<rect x="180.5" y="535.8" width="4.5" height="1.8" fill="#d2d2d2"/>
<rect x="180.5" y="538.2" width="4.5" height="1.8" fill="#d2d2d2"/>
<rect x="180.5" y="540.6" width="4.5" height="1.8" fill="#d2d2d2"/>
<rect x="180.5" y="542.9" width="4.5" height="1.8" fill="#d2d2d2"/>
<rect x="180.5" y="545.3" width="4.5" height="1.8" fill="#d2d2d2"/>
<rect x="180.5" y="547.7" width="4.5" height="1.8" fill="#d2d2d2"/>
<rect x="180.5" y="550.1" width="4.5" height="1.8" fill="#d2d2d2"/>
<rect x="225.3" y="516.0" width="3.9" height="2.5" fill="#d2d2d2"/>
<rect x="225.3" y="519.4" width="3.9" height="2.5" fill="#d2d2d2"/>
<rect x="225.3" y="522.8" width="3.9" height="2.5" fill="#d2d2d2"/>
<rect x="225.3" y="540.8" width="3.9" height="1.9" fill="#d2d2d2"/>
<rect x="225.3" y="543.4" width="3.9" height="1.9" fill="#d2d2d2"/>
<rect x="225.3" y="546.0" width="3.9" height="1.9" fill="#d2d2d2"/>
<rect x="225.3" y="548.6" width="3.9" height="1.9" fill="#d2d2d2"/>
<rect x="225.3" y="551.2" width="3.9" height="1.9" fill="#d2d2d2"/>
<rect x="225.3" y="553.8" width="3.9" height="1.9" fill="#d2d2d2"/>
<rect x="225.3" y="556.4" width="3.9" height="1.9" fill="#d2d2d2"/>
<rect x="225.3" y="559.0" width="3.9" height="1.9" fill="#d2d2d2"/>
<rect x="225.3" y="561.6" width="3.9" height="1.9" fill="#d2d2d2"/>
<rect x="197.0" y="557.7" width="3.5" height="3.9" fill="#d2d2d2"/>
<rect x="201.1" y="557.7" width="3.5" height="3.9" fill="#d2d2d2"/>
<rect x="208.3" y="557.7" width="2.7" height="3.9" fill="#d2d2d2"/>
<rect x="211.3" y="557.7" width="2.7" height="3.9" fill="#d2d2d2"/>
<rect x="214.4" y="557.7" width="2.7" height="3.9" fill="#d2d2d2"/>
<rect x="217.4" y="557.7" width="2.7" height="3.9" fill="#d2d2d2"/>
<rect x="202.5" y="562.2" width="3.0" height="3.3" fill="#d2d2d2"/>
<rect x="205.9" y="562.2" width="3.0" height="3.3" fill="#d2d2d2"/>
<rect x="209.3" y="562.2" width="3.0" height="3.3" fill="#d2d2d2"/>
<rect x="212.7" y="562.2" width="3.0" height="3.3" fill="#d2d2d2"/>
<rect x="182.0" y="570.6" width="13.2" height="13.2" fill="none" stroke="#e8e8e8" stroke-width="1.3" transform="rotate(45 188.6 577.2)"/>
<circle cx="185.7" cy="574.9" r="0.5" fill="#666"/>
<circle cx="185.7" cy="577.2" r="0.5" fill="#666"/>
<circle cx="185.7" cy="579.5" r="0.5" fill="#666"/>
<circle cx="188.6" cy="574.9" r="0.5" fill="#666"/>
<circle cx="188.6" cy="577.2" r="0.5" fill="#666"/>
<circle cx="188.6" cy="579.5" r="0.5" fill="#666"/>
<circle cx="191.6" cy="574.9" r="0.5" fill="#666"/>
<circle cx="191.6" cy="577.2" r="0.5" fill="#666"/>
<circle cx="191.6" cy="579.5" r="0.5" fill="#666"/>
<rect x="202.5" y="570.0" width="14.0" height="13.6" fill="none" stroke="#e8e8e8" stroke-width="1.8"/>
<rect x="219.4" y="570.0" width="5.3" height="7.8" fill="none" stroke="#e8e8e8" stroke-width="1.3"/>
<rect x="219.4" y="579.2" width="5.3" height="5.8" fill="none" stroke="#e8e8e8" stroke-width="1.3"/>
<rect x="206.4" y="591.4" width="22.2" height="6.8" fill="none" stroke="#e8e8e8" stroke-width="1.4"/>
<rect x="283.1" y="512.5" width="2.7" height="4.3" fill="#d2d2d2"/>
<rect x="286.2" y="512.5" width="2.7" height="4.3" fill="#d2d2d2"/>
<rect x="289.3" y="512.5" width="2.7" height="4.3" fill="#d2d2d2"/>
<rect x="292.3" y="512.5" width="2.7" height="4.3" fill="#d2d2d2"/>
<rect x="250.0" y="553.4" width="3.0" height="4.3" fill="#d2d2d2"/>
<rect x="253.4" y="553.4" width="3.0" height="4.3" fill="#d2d2d2"/>
<rect x="256.9" y="553.4" width="3.0" height="4.3" fill="#d2d2d2"/>
<rect x="264.8" y="553.1" width="5.8" height="4.7" fill="none" stroke="#e8e8e8" stroke-width="1.3"/>
<rect x="283.1" y="553.4" width="3.2" height="4.3" fill="#d2d2d2"/>
<rect x="286.9" y="553.4" width="3.2" height="4.3" fill="#d2d2d2"/>
<rect x="290.7" y="553.4" width="3.2" height="4.3" fill="#d2d2d2"/>
<rect x="294.4" y="579.7" width="6.2" height="5.3" fill="none" stroke="#e8e8e8" stroke-width="1.3"/>
<rect x="254.5" y="590.1" width="22.4" height="8.2" fill="none" stroke="#e8e8e8" stroke-width="1.4"/>
<rect x="315.8" y="512.5" width="2.9" height="4.3" fill="#d2d2d2"/>
<rect x="321.7" y="512.5" width="2.9" height="4.3" fill="#d2d2d2"/>
<rect x="315.8" y="553.1" width="2.9" height="4.7" fill="#d2d2d2"/>
<rect x="324.6" y="553.1" width="2.9" height="4.7" fill="#d2d2d2"/>
<rect x="331.0" y="551.1" width="2.7" height="6.6" fill="#d2d2d2"/>
<rect x="347.0" y="551.5" width="2.9" height="6.2" fill="#d2d2d2"/>
<rect x="352.9" y="551.5" width="2.9" height="6.2" fill="#d2d2d2"/>
<rect x="415.2" y="530.1" width="2.3" height="3.9" fill="#d2d2d2"/>
<rect x="412.3" y="538.8" width="5.3" height="4.5" fill="#d2d2d2"/>
<rect x="412.3" y="544.1" width="5.3" height="4.5" fill="#d2d2d2"/>
<rect x="410.3" y="550.5" width="5.8" height="2.5" fill="#d2d2d2"/>
<rect x="412.3" y="553.1" width="3.9" height="2.3" fill="#d2d2d2"/>
<rect x="445.4" y="516.0" width="1.9" height="4.3" fill="#d2d2d2"/>
<rect x="426.5" y="564.7" width="3.9" height="2.7" fill="#d2d2d2"/>
<rect x="424.0" y="576.8" width="5.8" height="2.9" fill="#d2d2d2"/>
<rect x="424.0" y="580.3" width="5.8" height="3.3" fill="#d2d2d2"/>
<rect x="424.0" y="584.2" width="5.8" height="4.3" fill="#d2d2d2"/>
<rect x="436.6" y="579.7" width="2.9" height="5.3" fill="#d2d2d2"/>
<rect x="440.5" y="576.8" width="3.9" height="8.8" fill="#d2d2d2"/>
<rect x="451.2" y="577.8" width="3.9" height="7.8" fill="#d2d2d2"/>
<rect x="456.5" y="575.8" width="3.5" height="9.7" fill="#d2d2d2"/>
<rect x="376.2" y="588.1" width="2.3" height="3.3" fill="#d2d2d2"/>
<rect x="379.2" y="592.0" width="5.8" height="4.3" fill="#d2d2d2"/>
<rect x="318.2" y="581.7" width="2.5" height="3.9" fill="#d2d2d2"/>
<rect x="424.0" y="590.8" width="1.9" height="5.5" fill="#d2d2d2"/>
<rect x="455.1" y="495.0" width="4.9" height="1.0" fill="#d2d2d2"/>
<rect x="338.2" y="540.2" width="5.3" height="5.1" fill="none" stroke="#e8e8e8" stroke-width="1.3"/>
<rect x="349.9" y="540.2" width="5.3" height="5.1" fill="none" stroke="#e8e8e8" stroke-width="1.3"/>
<rect x="396.1" y="549.2" width="4.5" height="5.3" fill="none" stroke="#e8e8e8" stroke-width="1.3"/>
<rect x="420.7" y="524.6" width="32.5" height="32.7" fill="none" stroke="#e8e8e8" stroke-width="2.2"/>
<text x="435.8" y="542.7" font-size="10.5" fill="none" stroke="#b0b0b0" stroke-width="0.5" text-anchor="middle">GU1</text>
<rect x="431.2" y="510.2" width="3.1" height="4.7" fill="#d2d2d2"/>
<rect x="435.7" y="510.2" width="3.9" height="4.7" fill="#d2d2d2"/>
<rect x="440.9" y="510.2" width="3.5" height="4.7" fill="#d2d2d2"/>
<rect x="445.4" y="510.2" width="2.9" height="4.7" fill="#d2d2d2"/>
<rect x="449.9" y="510.2" width="3.3" height="4.7" fill="#d2d2d2"/>
<rect x="424.5" y="516.8" width="3.6" height="4.5" fill="#d2d2d2"/>
<rect x="428.6" y="516.8" width="3.6" height="4.5" fill="#d2d2d2"/>
<rect x="433.7" y="516.8" width="3.1" height="4.5" fill="#d2d2d2"/>
<rect x="437.3" y="516.8" width="3.1" height="4.5" fill="#d2d2d2"/>
<rect x="440.8" y="516.8" width="3.1" height="4.5" fill="#d2d2d2"/>
<rect x="448.3" y="516.8" width="3.4" height="4.5" fill="#d2d2d2"/>
<rect x="452.2" y="516.8" width="3.4" height="4.5" fill="#d2d2d2"/>
<rect x="456.1" y="516.8" width="3.4" height="4.5" fill="#d2d2d2"/>
<rect x="456.5" y="522.3" width="4.7" height="2.6" fill="#d2d2d2"/>
<rect x="456.5" y="525.8" width="4.7" height="2.6" fill="#d2d2d2"/>
<rect x="456.5" y="529.3" width="4.7" height="2.6" fill="#d2d2d2"/>
<rect x="456.5" y="532.8" width="4.7" height="2.6" fill="#d2d2d2"/>
<rect x="456.5" y="536.3" width="4.7" height="2.6" fill="#d2d2d2"/>
<rect x="456.5" y="539.8" width="4.7" height="2.6" fill="#d2d2d2"/>
<rect x="456.5" y="543.3" width="4.7" height="2.6" fill="#d2d2d2"/>
<rect x="456.5" y="546.8" width="4.7" height="2.6" fill="#d2d2d2"/>
<rect x="456.5" y="550.3" width="4.7" height="2.6" fill="#d2d2d2"/>
<rect x="456.5" y="553.8" width="4.7" height="2.6" fill="#d2d2d2"/>
<rect x="430.4" y="560.3" width="2.9" height="3.9" fill="#d2d2d2"/>
<rect x="433.7" y="560.3" width="2.9" height="3.9" fill="#d2d2d2"/>
<rect x="437.0" y="560.3" width="2.9" height="3.9" fill="#d2d2d2"/>
<rect x="440.3" y="560.3" width="2.9" height="3.9" fill="#d2d2d2"/>
<rect x="443.6" y="560.3" width="2.9" height="3.9" fill="#d2d2d2"/>
<rect x="446.9" y="560.3" width="2.9" height="3.9" fill="#d2d2d2"/>
<rect x="426.5" y="568.6" width="5.8" height="6.6" fill="none" stroke="#e8e8e8" stroke-width="1.3"/>
<rect x="434.7" y="568.6" width="5.8" height="6.6" fill="none" stroke="#e8e8e8" stroke-width="1.3"/>
<rect x="453.8" y="565.5" width="5.8" height="7.0" fill="none" stroke="#e8e8e8" stroke-width="1.3"/>
<rect x="444.8" y="577.8" width="5.8" height="6.4" fill="none" stroke="#e8e8e8" stroke-width="1.3"/>
<rect x="366.5" y="579.2" width="7.0" height="6.4" fill="none" stroke="#e8e8e8" stroke-width="1.3"/>
<rect x="410.3" y="579.2" width="7.2" height="6.4" fill="none" stroke="#e8e8e8" stroke-width="1.3"/>
<rect x="379.2" y="584.2" width="6.4" height="6.2" fill="none" stroke="#e8e8e8" stroke-width="1.3"/>
<rect x="291.5" y="590.5" width="47.7" height="7.8" fill="none" stroke="#e8e8e8" stroke-width="1.4"/>
<rect x="349.4" y="590.5" width="22.6" height="7.8" fill="none" stroke="#e8e8e8" stroke-width="1.4"/>
<rect x="390.8" y="590.5" width="21.4" height="7.8" fill="none" stroke="#e8e8e8" stroke-width="1.4"/>
<rect x="437.6" y="589.5" width="47.7" height="8.8" fill="none" stroke="#e8e8e8" stroke-width="1.4"/>
<rect x="455.1" y="496.0" width="5.8" height="7.8" fill="none" stroke="#e8e8e8" stroke-width="1.3"/>
<rect x="545.7" y="497.9" width="4.9" height="2.5" fill="#d2d2d2"/>
<rect x="554.5" y="497.9" width="3.5" height="2.5" fill="#d2d2d2"/>
<rect x="558.6" y="497.9" width="3.5" height="2.5" fill="#d2d2d2"/>
<rect x="562.8" y="497.9" width="3.5" height="2.5" fill="#d2d2d2"/>
<rect x="566.9" y="497.9" width="3.5" height="2.5" fill="#d2d2d2"/>
<rect x="518.4" y="502.4" width="3.9" height="6.6" fill="#d2d2d2"/>
<rect x="523.9" y="502.4" width="6.2" height="6.6" fill="none" stroke="#e8e8e8" stroke-width="1.3"/>
<rect x="532.5" y="502.4" width="5.8" height="6.6" fill="none" stroke="#e8e8e8" stroke-width="1.3"/>
<rect x="539.9" y="502.4" width="5.8" height="6.6" fill="none" stroke="#e8e8e8" stroke-width="1.3"/>
<rect x="546.7" y="502.4" width="5.8" height="6.6" fill="none" stroke="#e8e8e8" stroke-width="1.3"/>
<rect x="553.9" y="502.4" width="5.8" height="6.6" fill="none" stroke="#e8e8e8" stroke-width="1.3"/>
<rect x="560.9" y="502.4" width="5.8" height="6.6" fill="none" stroke="#e8e8e8" stroke-width="1.3"/>
<rect x="568.1" y="502.4" width="5.8" height="6.6" fill="none" stroke="#e8e8e8" stroke-width="1.3"/>
<rect x="574.5" y="505.1" width="2.3" height="4.5" fill="#d2d2d2"/>
<rect x="579.2" y="502.4" width="2.5" height="6.6" fill="#d2d2d2"/>
<rect x="592.1" y="512.1" width="4.3" height="2.7" fill="#d2d2d2"/>
<rect x="597.3" y="510.2" width="3.3" height="4.3" fill="#d2d2d2"/>
<rect x="582.7" y="515.5" width="2.9" height="6.8" fill="#d2d2d2"/>
<rect x="592.1" y="522.3" width="3.9" height="2.3" fill="#d2d2d2"/>
<rect x="602.2" y="520.3" width="2.9" height="4.3" fill="#d2d2d2"/>
<rect x="590.1" y="539.4" width="3.3" height="2.3" fill="#d2d2d2"/>
<rect x="594.8" y="539.4" width="3.5" height="2.3" fill="#d2d2d2"/>
<rect x="460.0" y="495.0" width="6.8" height="2.9" fill="#d2d2d2"/>
<rect x="460.0" y="498.9" width="1.9" height="5.8" fill="#d2d2d2"/>
<rect x="473.2" y="503.8" width="5.3" height="3.3" fill="#d2d2d2"/>
<rect x="498.0" y="525.2" width="4.9" height="4.5" fill="#d2d2d2"/>
<rect x="532.1" y="529.1" width="3.9" height="2.9" fill="#d2d2d2"/>
<rect x="540.3" y="534.0" width="4.5" height="3.9" fill="#d2d2d2"/>
<rect x="582.7" y="545.3" width="4.3" height="3.9" fill="#d2d2d2"/>
<rect x="590.1" y="545.3" width="4.7" height="3.9" fill="#d2d2d2"/>
<rect x="582.7" y="565.1" width="4.3" height="3.9" fill="#d2d2d2"/>
<rect x="590.1" y="565.1" width="4.7" height="3.9" fill="#d2d2d2"/>
<rect x="548.6" y="585.0" width="4.5" height="3.9" fill="#d2d2d2"/>
<rect x="555.8" y="585.0" width="4.5" height="3.9" fill="#d2d2d2"/>
<rect x="582.7" y="585.0" width="4.3" height="3.9" fill="#d2d2d2"/>
<rect x="590.1" y="585.0" width="4.7" height="3.9" fill="#d2d2d2"/>
<rect x="475.2" y="556.9" width="2.7" height="7.2" fill="#d2d2d2"/>
<rect x="460.0" y="561.2" width="6.8" height="3.5" fill="#d2d2d2"/>
<rect x="468.8" y="573.3" width="5.8" height="2.5" fill="#d2d2d2"/>
<rect x="479.5" y="573.3" width="7.8" height="2.5" fill="#d2d2d2"/>
<rect x="472.7" y="578.4" width="7.8" height="2.3" fill="#d2d2d2"/>
<rect x="482.4" y="576.8" width="5.3" height="5.8" fill="#d2d2d2"/>
<rect x="534.0" y="563.6" width="3.9" height="3.1" fill="#d2d2d2"/>
<rect x="534.0" y="568.1" width="3.9" height="2.9" fill="#d2d2d2"/>
<rect x="516.1" y="574.9" width="2.7" height="7.8" fill="#d2d2d2"/>
<rect x="500.5" y="588.1" width="8.2" height="2.3" fill="#d2d2d2"/>
<rect x="495.1" y="590.1" width="2.3" height="6.2" fill="#d2d2d2"/>
<rect x="605.1" y="589.5" width="4.9" height="2.9" fill="#d2d2d2"/>
<rect x="585.7" y="497.3" width="15.0" height="11.3" fill="none" stroke="#e8e8e8" stroke-width="1.5"/>
<rect x="585.7" y="526.6" width="14.2" height="11.3" fill="none" stroke="#e8e8e8" stroke-width="1.8"/>
<text x="592.9" y="534.4" font-size="5.5" fill="none" stroke="#888" stroke-width="0.4" text-anchor="middle">Q1</text>
<rect x="469.7" y="508.2" width="5.8" height="7.2" fill="none" stroke="#e8e8e8" stroke-width="1.3"/>
<rect x="476.6" y="508.2" width="5.8" height="7.2" fill="none" stroke="#e8e8e8" stroke-width="1.3"/>
<rect x="483.4" y="508.2" width="5.8" height="7.2" fill="none" stroke="#e8e8e8" stroke-width="1.3"/>
<rect x="470.7" y="516.0" width="3.1" height="5.3" fill="#d2d2d2"/>
<rect x="474.6" y="516.0" width="3.1" height="5.3" fill="#d2d2d2"/>
<rect x="478.5" y="516.0" width="3.1" height="5.3" fill="#d2d2d2"/>
<rect x="482.4" y="516.0" width="3.1" height="5.3" fill="#d2d2d2"/>
<rect x="475.6" y="533.0" width="16.6" height="15.6" fill="none" stroke="#e8e8e8" stroke-width="1.8"/>
<rect x="501.3" y="533.0" width="17.1" height="15.6" fill="none" stroke="#e8e8e8" stroke-width="1.8"/>
<rect x="476.2" y="535.9" width="2.3" height="1.2" fill="#aaa"/>
<rect x="489.2" y="535.9" width="2.3" height="1.2" fill="#aaa"/>
<rect x="501.9" y="535.9" width="2.3" height="1.2" fill="#aaa"/>
<rect x="515.5" y="535.9" width="2.3" height="1.2" fill="#aaa"/>
<rect x="476.2" y="538.2" width="2.3" height="1.2" fill="#aaa"/>
<rect x="489.2" y="538.2" width="2.3" height="1.2" fill="#aaa"/>
<rect x="501.9" y="538.2" width="2.3" height="1.2" fill="#aaa"/>
<rect x="515.5" y="538.2" width="2.3" height="1.2" fill="#aaa"/>
<rect x="476.2" y="540.6" width="2.3" height="1.2" fill="#aaa"/>
<rect x="489.2" y="540.6" width="2.3" height="1.2" fill="#aaa"/>
<rect x="501.9" y="540.6" width="2.3" height="1.2" fill="#aaa"/>
<rect x="515.5" y="540.6" width="2.3" height="1.2" fill="#aaa"/>
<rect x="476.2" y="542.9" width="2.3" height="1.2" fill="#aaa"/>
<rect x="489.2" y="542.9" width="2.3" height="1.2" fill="#aaa"/>
<rect x="501.9" y="542.9" width="2.3" height="1.2" fill="#aaa"/>
<rect x="515.5" y="542.9" width="2.3" height="1.2" fill="#aaa"/>
<rect x="476.2" y="545.3" width="2.3" height="1.2" fill="#aaa"/>
<rect x="489.2" y="545.3" width="2.3" height="1.2" fill="#aaa"/>
<rect x="501.9" y="545.3" width="2.3" height="1.2" fill="#aaa"/>
<rect x="515.5" y="545.3" width="2.3" height="1.2" fill="#aaa"/>
<rect x="522.3" y="524.2" width="3.7" height="2.9" fill="#d2d2d2"/>
<rect x="522.3" y="527.6" width="3.7" height="2.9" fill="#d2d2d2"/>
<rect x="526.7" y="524.2" width="3.7" height="2.9" fill="#d2d2d2"/>
<rect x="526.7" y="527.6" width="3.7" height="2.9" fill="#d2d2d2"/>
<rect x="522.3" y="532.0" width="3.9" height="2.6" fill="#d2d2d2"/>
<rect x="522.3" y="535.1" width="3.9" height="2.6" fill="#d2d2d2"/>
<rect x="522.3" y="538.2" width="3.9" height="2.6" fill="#d2d2d2"/>
<rect x="522.3" y="541.4" width="3.9" height="2.6" fill="#d2d2d2"/>
<rect x="522.3" y="544.5" width="3.9" height="2.6" fill="#d2d2d2"/>
<rect x="526.9" y="532.0" width="3.9" height="2.6" fill="#d2d2d2"/>
<rect x="526.9" y="535.1" width="3.9" height="2.6" fill="#d2d2d2"/>
<rect x="526.9" y="538.2" width="3.9" height="2.6" fill="#d2d2d2"/>
<rect x="526.9" y="541.4" width="3.9" height="2.6" fill="#d2d2d2"/>
<rect x="526.9" y="544.5" width="3.9" height="2.6" fill="#d2d2d2"/>
<rect x="531.4" y="532.0" width="3.9" height="2.6" fill="#d2d2d2"/>
<rect x="531.4" y="535.1" width="3.9" height="2.6" fill="#d2d2d2"/>
<rect x="531.4" y="538.2" width="3.9" height="2.6" fill="#d2d2d2"/>
<rect x="531.4" y="541.4" width="3.9" height="2.6" fill="#d2d2d2"/>
<rect x="531.4" y="544.5" width="3.9" height="2.6" fill="#d2d2d2"/>
<rect x="540.3" y="525.2" width="5.8" height="7.2" fill="none" stroke="#e8e8e8" stroke-width="1.3"/>
<rect x="547.3" y="525.2" width="5.8" height="7.2" fill="none" stroke="#e8e8e8" stroke-width="1.3"/>
<rect x="554.1" y="525.2" width="5.8" height="7.2" fill="none" stroke="#e8e8e8" stroke-width="1.3"/>
<rect x="560.9" y="525.2" width="5.8" height="7.2" fill="none" stroke="#e8e8e8" stroke-width="1.3"/>
<rect x="552.5" y="520.3" width="3.2" height="4.3" fill="#d2d2d2"/>
<rect x="556.2" y="520.3" width="3.2" height="4.3" fill="#d2d2d2"/>
<rect x="559.8" y="520.3" width="3.2" height="4.3" fill="#d2d2d2"/>
<rect x="563.5" y="520.3" width="3.2" height="4.3" fill="#d2d2d2"/>
<rect x="541.4" y="551.5" width="27.3" height="7.4" fill="none" stroke="#e8e8e8" stroke-width="1.6"/>
<rect x="575.3" y="551.5" width="27.9" height="7.4" fill="none" stroke="#e8e8e8" stroke-width="1.6"/>
<circle cx="548.6" cy="555.6" r="0.6" fill="#666"/>
<circle cx="551.6" cy="555.6" r="0.6" fill="#666"/>
<circle cx="557.4" cy="555.6" r="0.6" fill="#666"/>
<circle cx="560.3" cy="555.6" r="0.6" fill="#666"/>
<circle cx="582.7" cy="555.6" r="0.6" fill="#666"/>
<circle cx="585.7" cy="555.6" r="0.6" fill="#666"/>
<circle cx="591.5" cy="555.6" r="0.6" fill="#666"/>
<circle cx="594.4" cy="555.6" r="0.6" fill="#666"/>
<rect x="541.4" y="571.4" width="27.3" height="7.4" fill="none" stroke="#e8e8e8" stroke-width="1.6"/>
<rect x="575.3" y="571.4" width="27.9" height="7.4" fill="none" stroke="#e8e8e8" stroke-width="1.6"/>
<circle cx="548.6" cy="575.5" r="0.6" fill="#666"/>
<circle cx="551.6" cy="575.5" r="0.6" fill="#666"/>
<circle cx="557.4" cy="575.5" r="0.6" fill="#666"/>
<circle cx="560.3" cy="575.5" r="0.6" fill="#666"/>
<circle cx="582.7" cy="575.5" r="0.6" fill="#666"/>
<circle cx="585.7" cy="575.5" r="0.6" fill="#666"/>
<circle cx="591.5" cy="575.5" r="0.6" fill="#666"/>
<circle cx="594.4" cy="575.5" r="0.6" fill="#666"/>
<rect x="541.4" y="591.4" width="27.3" height="8.8" fill="none" stroke="#e8e8e8" stroke-width="1.6"/>
<rect x="575.3" y="591.4" width="27.9" height="8.8" fill="none" stroke="#e8e8e8" stroke-width="1.6"/>
<circle cx="548.6" cy="596.2" r="0.6" fill="#666"/>
<circle cx="551.6" cy="596.2" r="0.6" fill="#666"/>
<circle cx="557.4" cy="596.2" r="0.6" fill="#666"/>
<circle cx="560.3" cy="596.2" r="0.6" fill="#666"/>
<circle cx="582.7" cy="596.2" r="0.6" fill="#666"/>
<circle cx="585.7" cy="596.2" r="0.6" fill="#666"/>
<circle cx="591.5" cy="596.2" r="0.6" fill="#666"/>
<circle cx="594.4" cy="596.2" r="0.6" fill="#666"/>
<rect x="546.7" y="564.2" width="2.5" height="4.5" fill="#d2d2d2"/>
<rect x="549.5" y="564.2" width="2.5" height="4.5" fill="#d2d2d2"/>
<rect x="552.3" y="564.2" width="2.5" height="4.5" fill="#d2d2d2"/>
<rect x="555.2" y="564.2" width="2.5" height="4.5" fill="#d2d2d2"/>
<rect x="558.0" y="564.2" width="2.5" height="4.5" fill="#d2d2d2"/>
<rect x="560.8" y="564.2" width="2.5" height="4.5" fill="#d2d2d2"/>
<rect x="467.4" y="565.5" width="5.8" height="7.0" fill="none" stroke="#e8e8e8" stroke-width="1.3"/>
<rect x="474.6" y="565.5" width="5.8" height="7.0" fill="none" stroke="#e8e8e8" stroke-width="1.3"/>
<rect x="481.4" y="565.5" width="6.2" height="7.0" fill="none" stroke="#e8e8e8" stroke-width="1.3"/>
<rect x="461.9" y="577.8" width="7.4" height="7.2" fill="none" stroke="#e8e8e8" stroke-width="1.3"/>
<rect x="492.7" y="570.0" width="13.1" height="14.2" fill="none" stroke="#e8e8e8" stroke-width="1.5"/>
<circle cx="496.0" cy="573.9" r="0.6" fill="#777"/>
<circle cx="496.0" cy="577.2" r="0.6" fill="#777"/>
<circle cx="496.0" cy="580.3" r="0.6" fill="#777"/>
<circle cx="499.4" cy="573.9" r="0.6" fill="#777"/>
<circle cx="499.4" cy="577.2" r="0.6" fill="#777"/>
<circle cx="499.4" cy="580.3" r="0.6" fill="#777"/>
<circle cx="502.5" cy="573.9" r="0.6" fill="#777"/>
<circle cx="502.5" cy="577.2" r="0.6" fill="#777"/>
<circle cx="502.5" cy="580.3" r="0.6" fill="#777"/>
<rect x="509.1" y="560.3" width="3.9" height="2.7" fill="#d2d2d2"/>
<rect x="509.1" y="563.8" width="3.9" height="2.7" fill="#d2d2d2"/>
<rect x="509.1" y="567.4" width="3.9" height="2.7" fill="#d2d2d2"/>
<rect x="514.9" y="561.2" width="12.9" height="10.1" fill="none" stroke="#e8e8e8" stroke-width="1.5"/>
<rect x="529.2" y="561.2" width="3.9" height="2.5" fill="#d2d2d2"/>
<rect x="529.2" y="564.6" width="3.9" height="2.5" fill="#d2d2d2"/>
<rect x="529.2" y="568.0" width="3.9" height="2.5" fill="#d2d2d2"/>
<rect x="525.3" y="580.3" width="11.1" height="14.0" fill="none" stroke="#e8e8e8" stroke-width="1.5"/>
<rect x="510.3" y="585.6" width="2.7" height="3.9" fill="#d2d2d2"/>
<rect x="513.4" y="585.6" width="2.7" height="3.9" fill="#d2d2d2"/>
<rect x="516.5" y="585.6" width="2.7" height="3.9" fill="#d2d2d2"/>
<rect x="519.6" y="585.6" width="2.7" height="3.9" fill="#d2d2d2"/>
<rect x="503.2" y="592.0" width="17.5" height="6.2" fill="none" stroke="#e8e8e8" stroke-width="1.4"/>
<text x="181.4" y="78.7" font-size="10" fill="none" stroke="#a0a0a0" stroke-width="0.5" text-anchor="middle" transform="rotate(-90 181.4 78.7)">DVI</text>
<text x="202.8" y="77.5" font-size="9.5" fill="none" stroke="#8a8a8a" stroke-width="0.45" text-anchor="middle" transform="rotate(-90 202.8 77.5)">VGA</text>
<rect x="176.3" y="58.8" width="1.4" height="1.4" fill="#888"/>
<rect x="176.3" y="62.7" width="1.4" height="1.4" fill="#888"/>
<rect x="176.3" y="66.6" width="1.4" height="1.4" fill="#888"/>
<rect x="176.3" y="70.5" width="1.4" height="1.4" fill="#888"/>
<rect x="176.3" y="74.4" width="1.4" height="1.4" fill="#888"/>
<rect x="176.3" y="78.3" width="1.4" height="1.4" fill="#888"/>
<rect x="176.3" y="82.2" width="1.4" height="1.4" fill="#888"/>
<rect x="176.3" y="86.1" width="1.4" height="1.4" fill="#888"/>
<rect x="180.0" y="58.8" width="1.4" height="1.4" fill="#888"/>
<rect x="180.0" y="62.7" width="1.4" height="1.4" fill="#888"/>
<rect x="180.0" y="66.6" width="1.4" height="1.4" fill="#888"/>
<rect x="180.0" y="70.5" width="1.4" height="1.4" fill="#888"/>
<rect x="180.0" y="74.4" width="1.4" height="1.4" fill="#888"/>
<rect x="180.0" y="78.3" width="1.4" height="1.4" fill="#888"/>
<rect x="180.0" y="82.2" width="1.4" height="1.4" fill="#888"/>
<rect x="180.0" y="86.1" width="1.4" height="1.4" fill="#888"/>
<rect x="183.8" y="58.8" width="1.4" height="1.4" fill="#888"/>
<rect x="183.8" y="62.7" width="1.4" height="1.4" fill="#888"/>
<rect x="183.8" y="66.6" width="1.4" height="1.4" fill="#888"/>
<rect x="183.8" y="70.5" width="1.4" height="1.4" fill="#888"/>
<rect x="183.8" y="74.4" width="1.4" height="1.4" fill="#888"/>
<rect x="183.8" y="78.3" width="1.4" height="1.4" fill="#888"/>
<rect x="183.8" y="82.2" width="1.4" height="1.4" fill="#888"/>
<rect x="183.8" y="86.1" width="1.4" height="1.4" fill="#888"/>
<rect x="199.9" y="89.1" width="1.4" height="1.4" fill="#888"/>
</g>
</svg>
</body></html>
